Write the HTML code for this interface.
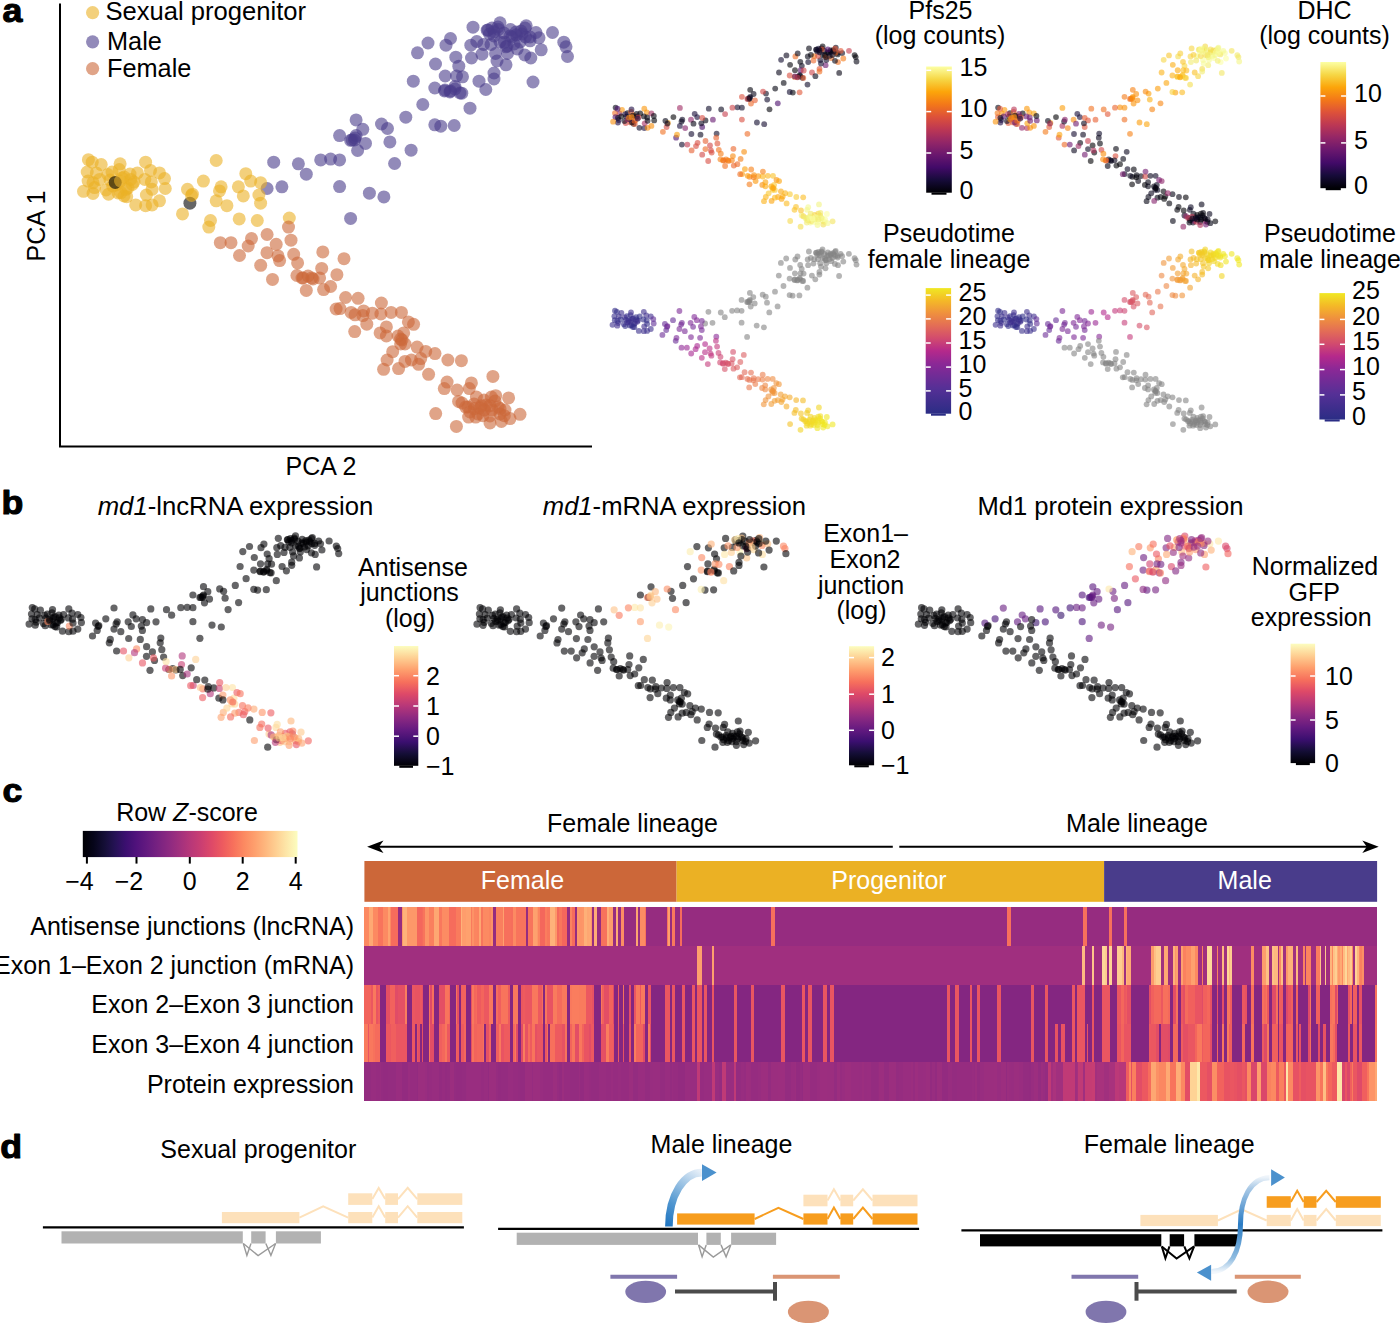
<!DOCTYPE html><html><head><meta charset="utf-8"><style>html,body{margin:0;padding:0;background:#fff;overflow:hidden}svg{display:block}text{font-family:"Liberation Sans",sans-serif}</style></head><body>
<svg width="1400" height="1323" viewBox="0 0 1400 1323">
<rect width="1400" height="1323" fill="#fff"/>
<defs></defs>
<text transform="translate(2.6,22.2) scale(1.05,1)" font-size="34" font-weight="bold" stroke="#000" stroke-width="1.1" stroke-linejoin="round">a</text>
<path d="M60 3.4V446.4H592" fill="none" stroke="#000" stroke-width="2"/>
<circle cx="92.6" cy="12.6" r="6.6" fill="#ebb124" fill-opacity="0.6"/>
<circle cx="92.6" cy="41.8" r="6.6" fill="#493c8b" fill-opacity="0.6"/>
<circle cx="92.6" cy="68.6" r="6.6" fill="#cc6739" fill-opacity="0.6"/>
<text x="105.4" y="20.2" font-size="25.6" text-anchor="start" fill="#000" >Sexual progenitor</text>
<text x="107.0" y="50.0" font-size="25.3" text-anchor="start" fill="#000" >Male</text>
<text x="107.0" y="77.1" font-size="25.3" text-anchor="start" fill="#000" >Female</text>
<text x="45.0" y="226.0" font-size="25" text-anchor="middle" fill="#000" transform="rotate(-90 45 226)">PCA 1</text>
<text x="321.0" y="474.6" font-size="25" text-anchor="middle" fill="#000" >PCA 2</text>
<g fill-opacity="0.6">
<circle cx="165.3" cy="188.5" r="6.5" fill="#ebb124"/>
<circle cx="216.2" cy="200.8" r="6.5" fill="#ebb124"/>
<circle cx="440.8" cy="126.2" r="6.5" fill="#493c8b"/>
<circle cx="251.5" cy="238.6" r="6.5" fill="#cc6739"/>
<circle cx="291.0" cy="240.2" r="6.5" fill="#cc6739"/>
<circle cx="434.8" cy="88.0" r="6.5" fill="#493c8b"/>
<circle cx="401.4" cy="312.4" r="6.5" fill="#cc6739"/>
<circle cx="355.0" cy="314.8" r="6.5" fill="#cc6739"/>
<circle cx="145.6" cy="205.7" r="6.5" fill="#ebb124"/>
<circle cx="336.9" cy="274.7" r="6.5" fill="#cc6739"/>
<circle cx="521.0" cy="31.0" r="6.5" fill="#493c8b"/>
<circle cx="267.1" cy="188.5" r="6.5" fill="#493c8b"/>
<circle cx="366.8" cy="324.2" r="6.5" fill="#cc6739"/>
<circle cx="481.4" cy="405.7" r="6.5" fill="#cc6739"/>
<circle cx="124.0" cy="196.0" r="6.5" fill="#ebb124"/>
<circle cx="356.1" cy="119.9" r="6.5" fill="#493c8b"/>
<circle cx="411.4" cy="360.0" r="6.5" fill="#cc6739"/>
<circle cx="447.9" cy="360.0" r="6.5" fill="#cc6739"/>
<circle cx="112.0" cy="172.0" r="6.5" fill="#ebb124"/>
<circle cx="128.0" cy="188.0" r="6.5" fill="#ebb124"/>
<circle cx="470.8" cy="45.2" r="6.5" fill="#493c8b"/>
<circle cx="260.6" cy="203.2" r="6.5" fill="#ebb124"/>
<circle cx="475.7" cy="417.1" r="6.5" fill="#cc6739"/>
<circle cx="306.3" cy="290.4" r="6.5" fill="#cc6739"/>
<circle cx="417.5" cy="52.8" r="6.5" fill="#493c8b"/>
<circle cx="220.3" cy="242.7" r="6.5" fill="#cc6739"/>
<circle cx="258.9" cy="195.0" r="6.5" fill="#ebb124"/>
<circle cx="281.9" cy="186.8" r="6.5" fill="#493c8b"/>
<circle cx="330.6" cy="159.1" r="6.5" fill="#493c8b"/>
<circle cx="405.0" cy="344.0" r="6.5" fill="#cc6739"/>
<circle cx="500.0" cy="22.8" r="6.5" fill="#493c8b"/>
<circle cx="495.0" cy="401.0" r="6.5" fill="#cc6739"/>
<circle cx="494.0" cy="73.0" r="6.5" fill="#493c8b"/>
<circle cx="533.0" cy="82.0" r="6.5" fill="#493c8b"/>
<circle cx="500.0" cy="42.0" r="6.5" fill="#493c8b"/>
<circle cx="455.0" cy="86.5" r="6.5" fill="#493c8b"/>
<circle cx="137.4" cy="172.9" r="6.5" fill="#ebb124"/>
<circle cx="320.7" cy="159.9" r="6.5" fill="#493c8b"/>
<circle cx="458.6" cy="401.4" r="6.5" fill="#cc6739"/>
<circle cx="470.0" cy="108.2" r="6.5" fill="#493c8b"/>
<circle cx="491.4" cy="397.1" r="6.5" fill="#cc6739"/>
<circle cx="313.0" cy="279.0" r="6.5" fill="#cc6739"/>
<circle cx="88.4" cy="159.7" r="6.5" fill="#ebb124"/>
<circle cx="483.5" cy="44.5" r="6.5" fill="#493c8b"/>
<circle cx="372.3" cy="313.2" r="6.5" fill="#cc6739"/>
<circle cx="413.3" cy="81.2" r="6.5" fill="#493c8b"/>
<circle cx="357.6" cy="150.5" r="6.5" fill="#493c8b"/>
<circle cx="250.7" cy="181.1" r="6.5" fill="#ebb124"/>
<circle cx="216.2" cy="160.5" r="6.5" fill="#ebb124"/>
<circle cx="260.6" cy="182.7" r="6.5" fill="#ebb124"/>
<circle cx="520.0" cy="414.3" r="6.5" fill="#cc6739"/>
<circle cx="354.7" cy="331.6" r="6.5" fill="#cc6739"/>
<circle cx="428.6" cy="374.3" r="6.5" fill="#cc6739"/>
<circle cx="293.7" cy="254.3" r="6.5" fill="#cc6739"/>
<circle cx="145.6" cy="162.2" r="6.5" fill="#ebb124"/>
<circle cx="405.0" cy="361.4" r="6.5" fill="#cc6739"/>
<circle cx="457.1" cy="390.0" r="6.5" fill="#cc6739"/>
<circle cx="500.0" cy="414.0" r="6.5" fill="#cc6739"/>
<circle cx="340.0" cy="308.6" r="6.5" fill="#cc6739"/>
<circle cx="126.7" cy="196.7" r="6.5" fill="#ebb124"/>
<circle cx="403.7" cy="332.9" r="6.5" fill="#cc6739"/>
<circle cx="345.6" cy="297.5" r="6.5" fill="#cc6739"/>
<circle cx="203.4" cy="181.1" r="6.5" fill="#ebb124"/>
<circle cx="219.5" cy="190.9" r="6.5" fill="#ebb124"/>
<circle cx="362.9" cy="315.6" r="6.5" fill="#cc6739"/>
<circle cx="516.5" cy="34.8" r="6.5" fill="#493c8b"/>
<circle cx="444.3" cy="388.6" r="6.5" fill="#cc6739"/>
<circle cx="506.0" cy="46.8" r="6.5" fill="#493c8b"/>
<circle cx="444.5" cy="91.0" r="6.5" fill="#493c8b"/>
<circle cx="308.0" cy="276.0" r="6.5" fill="#cc6739"/>
<circle cx="344.0" cy="258.7" r="6.5" fill="#cc6739"/>
<circle cx="96.3" cy="172.9" r="6.5" fill="#ebb124"/>
<circle cx="454.2" cy="125.5" r="6.5" fill="#493c8b"/>
<circle cx="539.0" cy="37.8" r="6.5" fill="#493c8b"/>
<circle cx="352.0" cy="140.0" r="6.5" fill="#493c8b"/>
<circle cx="428.0" cy="43.0" r="6.5" fill="#493c8b"/>
<circle cx="351.1" cy="312.4" r="6.5" fill="#cc6739"/>
<circle cx="221.1" cy="186.8" r="6.5" fill="#ebb124"/>
<circle cx="321.7" cy="268.4" r="6.5" fill="#cc6739"/>
<circle cx="530.0" cy="37.0" r="6.5" fill="#493c8b"/>
<circle cx="289.3" cy="218.0" r="6.5" fill="#ebb124"/>
<circle cx="504.0" cy="33.0" r="6.5" fill="#493c8b"/>
<circle cx="208.8" cy="227.1" r="6.5" fill="#ebb124"/>
<circle cx="418.6" cy="364.3" r="6.5" fill="#cc6739"/>
<circle cx="369.4" cy="193.2" r="6.5" fill="#493c8b"/>
<circle cx="478.0" cy="414.0" r="6.5" fill="#cc6739"/>
<circle cx="124.2" cy="177.0" r="6.5" fill="#ebb124"/>
<circle cx="495.5" cy="53.5" r="6.5" fill="#493c8b"/>
<circle cx="484.0" cy="400.0" r="6.5" fill="#cc6739"/>
<circle cx="398.0" cy="336.0" r="6.5" fill="#cc6739"/>
<circle cx="450.5" cy="91.0" r="6.5" fill="#493c8b"/>
<circle cx="482.9" cy="415.7" r="6.5" fill="#cc6739"/>
<circle cx="400.6" cy="343.9" r="6.5" fill="#cc6739"/>
<circle cx="504.3" cy="415.7" r="6.5" fill="#cc6739"/>
<circle cx="500.0" cy="408.6" r="6.5" fill="#cc6739"/>
<circle cx="150.5" cy="170.4" r="6.5" fill="#ebb124"/>
<circle cx="231.0" cy="242.7" r="6.5" fill="#cc6739"/>
<circle cx="468.0" cy="407.0" r="6.5" fill="#cc6739"/>
<circle cx="435.0" cy="353.6" r="6.5" fill="#cc6739"/>
<circle cx="506.0" cy="64.8" r="6.5" fill="#493c8b"/>
<circle cx="541.2" cy="49.8" r="6.5" fill="#493c8b"/>
<circle cx="461.4" cy="360.7" r="6.5" fill="#cc6739"/>
<circle cx="87.2" cy="172.0" r="6.5" fill="#ebb124"/>
<circle cx="408.4" cy="321.9" r="6.5" fill="#cc6739"/>
<circle cx="130.8" cy="179.4" r="6.5" fill="#ebb124"/>
<circle cx="245.8" cy="173.7" r="6.5" fill="#ebb124"/>
<circle cx="476.8" cy="41.5" r="6.5" fill="#493c8b"/>
<circle cx="130.0" cy="174.0" r="6.5" fill="#ebb124"/>
<circle cx="118.0" cy="193.0" r="6.5" fill="#ebb124"/>
<circle cx="530.0" cy="40.8" r="6.5" fill="#493c8b"/>
<circle cx="458.8" cy="66.2" r="6.5" fill="#493c8b"/>
<circle cx="387.5" cy="128.5" r="6.5" fill="#493c8b"/>
<circle cx="482.0" cy="54.2" r="6.5" fill="#493c8b"/>
<circle cx="445.0" cy="90.0" r="6.5" fill="#493c8b"/>
<circle cx="146.4" cy="195.0" r="6.5" fill="#ebb124"/>
<circle cx="226.9" cy="205.7" r="6.5" fill="#ebb124"/>
<circle cx="488.0" cy="30.0" r="6.5" fill="#493c8b"/>
<circle cx="182.5" cy="213.9" r="6.5" fill="#ebb124"/>
<circle cx="489.5" cy="34.0" r="6.5" fill="#493c8b"/>
<circle cx="413.6" cy="324.3" r="6.5" fill="#cc6739"/>
<circle cx="498.0" cy="27.0" r="6.5" fill="#493c8b"/>
<circle cx="411.1" cy="150.2" r="6.5" fill="#493c8b"/>
<circle cx="507.0" cy="46.0" r="6.5" fill="#493c8b"/>
<circle cx="238.4" cy="186.8" r="6.5" fill="#ebb124"/>
<circle cx="455.0" cy="89.0" r="6.5" fill="#493c8b"/>
<circle cx="336.1" cy="309.0" r="6.5" fill="#cc6739"/>
<circle cx="501.4" cy="421.4" r="6.5" fill="#cc6739"/>
<circle cx="354.5" cy="140.0" r="6.5" fill="#493c8b"/>
<circle cx="405.8" cy="117.2" r="6.5" fill="#493c8b"/>
<circle cx="380.1" cy="332.9" r="6.5" fill="#cc6739"/>
<circle cx="447.1" cy="382.1" r="6.5" fill="#cc6739"/>
<circle cx="517.2" cy="49.0" r="6.5" fill="#493c8b"/>
<circle cx="110.0" cy="180.0" r="6.5" fill="#ebb124"/>
<circle cx="566.0" cy="46.8" r="6.5" fill="#493c8b"/>
<circle cx="516.0" cy="32.0" r="6.5" fill="#493c8b"/>
<circle cx="505.0" cy="410.0" r="6.5" fill="#cc6739"/>
<circle cx="460.0" cy="93.0" r="6.5" fill="#493c8b"/>
<circle cx="387.1" cy="360.0" r="6.5" fill="#cc6739"/>
<circle cx="311.8" cy="277.9" r="6.5" fill="#cc6739"/>
<circle cx="392.7" cy="351.7" r="6.5" fill="#cc6739"/>
<circle cx="101.2" cy="164.6" r="6.5" fill="#ebb124"/>
<circle cx="319.6" cy="277.9" r="6.5" fill="#cc6739"/>
<circle cx="356.1" cy="135.6" r="6.5" fill="#493c8b"/>
<circle cx="492.9" cy="376.4" r="6.5" fill="#cc6739"/>
<circle cx="279.6" cy="260.6" r="6.5" fill="#cc6739"/>
<circle cx="470.0" cy="412.0" r="6.5" fill="#cc6739"/>
<circle cx="490.0" cy="416.0" r="6.5" fill="#cc6739"/>
<circle cx="486.0" cy="405.0" r="6.5" fill="#cc6739"/>
<circle cx="380.9" cy="314.0" r="6.5" fill="#cc6739"/>
<circle cx="456.5" cy="76.0" r="6.5" fill="#493c8b"/>
<circle cx="276.2" cy="244.3" r="6.5" fill="#cc6739"/>
<circle cx="469.3" cy="388.6" r="6.5" fill="#cc6739"/>
<circle cx="476.4" cy="397.1" r="6.5" fill="#cc6739"/>
<circle cx="389.9" cy="141.9" r="6.5" fill="#493c8b"/>
<circle cx="383.9" cy="196.9" r="6.5" fill="#493c8b"/>
<circle cx="462.0" cy="403.0" r="6.5" fill="#cc6739"/>
<circle cx="512.0" cy="37.0" r="6.5" fill="#493c8b"/>
<circle cx="461.8" cy="93.2" r="6.5" fill="#493c8b"/>
<circle cx="272.5" cy="279.4" r="6.5" fill="#cc6739"/>
<circle cx="386.4" cy="326.9" r="6.5" fill="#cc6739"/>
<circle cx="94.6" cy="187.6" r="6.5" fill="#ebb124"/>
<circle cx="507.5" cy="53.5" r="6.5" fill="#493c8b"/>
<circle cx="525.5" cy="37.0" r="6.5" fill="#493c8b"/>
<circle cx="510.0" cy="418.6" r="6.5" fill="#cc6739"/>
<circle cx="119.3" cy="169.6" r="6.5" fill="#ebb124"/>
<circle cx="192.4" cy="194.2" r="6.5" fill="#ebb124"/>
<circle cx="267.1" cy="234.5" r="6.5" fill="#cc6739"/>
<circle cx="267.0" cy="252.7" r="6.5" fill="#cc6739"/>
<circle cx="498.5" cy="29.5" r="6.5" fill="#493c8b"/>
<circle cx="435.7" cy="413.6" r="6.5" fill="#cc6739"/>
<circle cx="243.3" cy="195.9" r="6.5" fill="#ebb124"/>
<circle cx="93.0" cy="193.4" r="6.5" fill="#ebb124"/>
<circle cx="510.0" cy="36.0" r="6.5" fill="#493c8b"/>
<circle cx="350.6" cy="218.4" r="6.5" fill="#493c8b"/>
<circle cx="159.5" cy="172.9" r="6.5" fill="#ebb124"/>
<circle cx="135.7" cy="204.9" r="6.5" fill="#ebb124"/>
<circle cx="92.2" cy="162.2" r="6.5" fill="#ebb124"/>
<circle cx="526.2" cy="25.8" r="6.5" fill="#493c8b"/>
<circle cx="302.0" cy="278.0" r="6.5" fill="#cc6739"/>
<circle cx="298.4" cy="163.8" r="6.5" fill="#493c8b"/>
<circle cx="474.0" cy="404.0" r="6.5" fill="#cc6739"/>
<circle cx="490.0" cy="405.7" r="6.5" fill="#cc6739"/>
<circle cx="365.5" cy="143.4" r="6.5" fill="#493c8b"/>
<circle cx="563.8" cy="42.2" r="6.5" fill="#493c8b"/>
<circle cx="339.6" cy="186.6" r="6.5" fill="#493c8b"/>
<circle cx="391.1" cy="312.4" r="6.5" fill="#cc6739"/>
<circle cx="491.0" cy="44.5" r="6.5" fill="#493c8b"/>
<circle cx="400.6" cy="339.1" r="6.5" fill="#cc6739"/>
<circle cx="278.0" cy="255.9" r="6.5" fill="#cc6739"/>
<circle cx="522.0" cy="34.0" r="6.5" fill="#493c8b"/>
<circle cx="107.8" cy="174.5" r="6.5" fill="#ebb124"/>
<circle cx="151.3" cy="181.9" r="6.5" fill="#ebb124"/>
<circle cx="455.8" cy="57.2" r="6.5" fill="#493c8b"/>
<circle cx="445.2" cy="76.0" r="6.5" fill="#493c8b"/>
<circle cx="494.0" cy="31.8" r="6.5" fill="#493c8b"/>
<circle cx="88.1" cy="181.1" r="6.5" fill="#ebb124"/>
<circle cx="187.5" cy="189.3" r="6.5" fill="#ebb124"/>
<circle cx="446.0" cy="45.2" r="6.5" fill="#493c8b"/>
<circle cx="108.6" cy="194.2" r="6.5" fill="#ebb124"/>
<circle cx="530.8" cy="58.0" r="6.5" fill="#493c8b"/>
<circle cx="159.5" cy="200.8" r="6.5" fill="#ebb124"/>
<circle cx="420.7" cy="358.6" r="6.5" fill="#cc6739"/>
<circle cx="303.1" cy="277.9" r="6.5" fill="#cc6739"/>
<circle cx="422.8" cy="104.5" r="6.5" fill="#493c8b"/>
<circle cx="120.9" cy="192.6" r="6.5" fill="#ebb124"/>
<circle cx="144.8" cy="179.4" r="6.5" fill="#ebb124"/>
<circle cx="487.2" cy="30.2" r="6.5" fill="#493c8b"/>
<circle cx="402.0" cy="340.0" r="6.5" fill="#cc6739"/>
<circle cx="465.7" cy="407.1" r="6.5" fill="#cc6739"/>
<circle cx="296.9" cy="275.5" r="6.5" fill="#cc6739"/>
<circle cx="239.2" cy="218.9" r="6.5" fill="#ebb124"/>
<circle cx="322.8" cy="251.9" r="6.5" fill="#cc6739"/>
<circle cx="381.4" cy="303.0" r="6.5" fill="#cc6739"/>
<circle cx="164.5" cy="178.6" r="6.5" fill="#ebb124"/>
<circle cx="394.6" cy="163.5" r="6.5" fill="#493c8b"/>
<circle cx="484.3" cy="410.0" r="6.5" fill="#cc6739"/>
<circle cx="350.6" cy="140.3" r="6.5" fill="#493c8b"/>
<circle cx="552.5" cy="32.5" r="6.5" fill="#493c8b"/>
<circle cx="490.0" cy="422.9" r="6.5" fill="#cc6739"/>
<circle cx="210.5" cy="220.5" r="6.5" fill="#ebb124"/>
<circle cx="363.6" cy="310.9" r="6.5" fill="#cc6739"/>
<circle cx="323.6" cy="289.6" r="6.5" fill="#cc6739"/>
<circle cx="260.7" cy="265.3" r="6.5" fill="#cc6739"/>
<circle cx="473.0" cy="27.2" r="6.5" fill="#493c8b"/>
<circle cx="468.6" cy="417.1" r="6.5" fill="#cc6739"/>
<circle cx="520.0" cy="42.0" r="6.5" fill="#493c8b"/>
<circle cx="358.1" cy="298.3" r="6.5" fill="#cc6739"/>
<circle cx="567.5" cy="56.5" r="6.5" fill="#493c8b"/>
<circle cx="273.7" cy="162.2" r="6.5" fill="#493c8b"/>
<circle cx="456.4" cy="426.4" r="6.5" fill="#cc6739"/>
<circle cx="450.5" cy="38.5" r="6.5" fill="#493c8b"/>
<circle cx="339.6" cy="159.9" r="6.5" fill="#493c8b"/>
<circle cx="362.8" cy="129.3" r="6.5" fill="#493c8b"/>
<circle cx="524.8" cy="55.0" r="6.5" fill="#493c8b"/>
<circle cx="306.3" cy="174.2" r="6.5" fill="#493c8b"/>
<circle cx="355.0" cy="138.0" r="6.5" fill="#493c8b"/>
<circle cx="471.4" cy="382.9" r="6.5" fill="#cc6739"/>
<circle cx="381.5" cy="124.0" r="6.5" fill="#493c8b"/>
<circle cx="435.5" cy="64.0" r="6.5" fill="#493c8b"/>
<circle cx="525.0" cy="28.0" r="6.5" fill="#493c8b"/>
<circle cx="492.0" cy="28.0" r="6.5" fill="#493c8b"/>
<circle cx="297.6" cy="262.9" r="6.5" fill="#cc6739"/>
<circle cx="494.0" cy="36.0" r="6.5" fill="#493c8b"/>
<circle cx="462.5" cy="76.8" r="6.5" fill="#493c8b"/>
<circle cx="330.6" cy="286.5" r="6.5" fill="#cc6739"/>
<circle cx="134.0" cy="182.0" r="6.5" fill="#ebb124"/>
<circle cx="257.3" cy="220.5" r="6.5" fill="#ebb124"/>
<circle cx="434.8" cy="124.8" r="6.5" fill="#493c8b"/>
<circle cx="99.6" cy="179.4" r="6.5" fill="#ebb124"/>
<circle cx="120.1" cy="163.8" r="6.5" fill="#ebb124"/>
<circle cx="152.1" cy="189.3" r="6.5" fill="#ebb124"/>
<circle cx="497.0" cy="61.0" r="6.5" fill="#493c8b"/>
<circle cx="495.7" cy="395.7" r="6.5" fill="#cc6739"/>
<circle cx="288.5" cy="227.1" r="6.5" fill="#cc6739"/>
<circle cx="508.6" cy="397.9" r="6.5" fill="#cc6739"/>
<circle cx="417.1" cy="347.1" r="6.5" fill="#cc6739"/>
<circle cx="474.3" cy="408.6" r="6.5" fill="#cc6739"/>
<circle cx="383.6" cy="369.3" r="6.5" fill="#cc6739"/>
<circle cx="106.0" cy="190.0" r="6.5" fill="#ebb124"/>
<circle cx="339.6" cy="135.6" r="6.5" fill="#493c8b"/>
<circle cx="125.9" cy="189.3" r="6.5" fill="#ebb124"/>
<circle cx="239.5" cy="255.5" r="6.5" fill="#cc6739"/>
<circle cx="152.1" cy="204.9" r="6.5" fill="#ebb124"/>
<circle cx="536.0" cy="32.5" r="6.5" fill="#493c8b"/>
<circle cx="132.4" cy="184.4" r="6.5" fill="#ebb124"/>
<circle cx="83.5" cy="191.3" r="6.5" fill="#ebb124"/>
<circle cx="398.6" cy="368.6" r="6.5" fill="#cc6739"/>
<circle cx="514.0" cy="44.0" r="6.5" fill="#493c8b"/>
<circle cx="450.0" cy="92.0" r="6.5" fill="#493c8b"/>
<circle cx="479.0" cy="81.2" r="6.5" fill="#493c8b"/>
<circle cx="510.5" cy="29.5" r="6.5" fill="#493c8b"/>
<circle cx="425.7" cy="351.4" r="6.5" fill="#cc6739"/>
<circle cx="498.0" cy="407.0" r="6.5" fill="#cc6739"/>
<circle cx="122.0" cy="178.0" r="6.5" fill="#ebb124"/>
<circle cx="471.5" cy="58.0" r="6.5" fill="#493c8b"/>
<circle cx="485.8" cy="89.5" r="6.5" fill="#493c8b"/>
<circle cx="504.5" cy="42.2" r="6.5" fill="#493c8b"/>
<circle cx="480.0" cy="408.0" r="6.5" fill="#cc6739"/>
<circle cx="93.0" cy="182.7" r="6.5" fill="#ebb124"/>
<circle cx="112.7" cy="186.0" r="6.5" fill="#ebb124"/>
<circle cx="492.0" cy="410.0" r="6.5" fill="#cc6739"/>
<circle cx="386.4" cy="336.0" r="6.5" fill="#cc6739"/>
<circle cx="248.2" cy="246.0" r="6.5" fill="#cc6739"/>
<circle cx="116.0" cy="185.0" r="6.5" fill="#ebb124"/>
<circle cx="494.0" cy="79.0" r="6.5" fill="#493c8b"/>
<circle cx="115.2" cy="182.4" r="6.5" fill="#000000"/>
<circle cx="189.9" cy="203.2" r="6.5" fill="#000000"/>
<circle cx="120.5" cy="181.0" r="6.5" fill="#ebb124"/>
<circle cx="191.5" cy="195.5" r="6.5" fill="#ebb124"/>
</g>
<g fill-opacity="0.6">
<circle cx="654.2" cy="120.4" r="2.9" fill="#02010a"/>
<circle cx="679.9" cy="125.9" r="2.9" fill="#160b39"/>
<circle cx="792.8" cy="92.6" r="2.9" fill="#010106"/>
<circle cx="697.6" cy="142.8" r="2.9" fill="#d74b3f"/>
<circle cx="717.4" cy="143.5" r="2.9" fill="#df5337"/>
<circle cx="789.7" cy="75.5" r="2.9" fill="#d84c3e"/>
<circle cx="773.0" cy="175.8" r="2.9" fill="#fac228"/>
<circle cx="749.6" cy="176.8" r="2.9" fill="#f67e14"/>
<circle cx="644.3" cy="128.1" r="2.9" fill="#190c3e"/>
<circle cx="740.6" cy="158.9" r="2.9" fill="#f57d15"/>
<circle cx="833.1" cy="50.1" r="2.9" fill="#040312"/>
<circle cx="705.5" cy="120.4" r="2.9" fill="#030210"/>
<circle cx="755.6" cy="181.0" r="2.9" fill="#fb9606"/>
<circle cx="813.2" cy="217.4" r="2.9" fill="#f7d13d"/>
<circle cx="633.5" cy="123.8" r="2.9" fill="#02020e"/>
<circle cx="750.2" cy="89.8" r="2.9" fill="#02020c"/>
<circle cx="778.0" cy="197.0" r="2.9" fill="#fca60c"/>
<circle cx="796.3" cy="197.0" r="2.9" fill="#f9cb35"/>
<circle cx="627.4" cy="113.1" r="2.9" fill="#02010a"/>
<circle cx="635.5" cy="120.2" r="2.9" fill="#f57d15"/>
<circle cx="807.8" cy="56.4" r="2.9" fill="#040312"/>
<circle cx="702.2" cy="127.0" r="2.9" fill="#440a68"/>
<circle cx="810.3" cy="222.6" r="2.9" fill="#f5f992"/>
<circle cx="725.1" cy="166.0" r="2.9" fill="#f06f20"/>
<circle cx="781.1" cy="59.8" r="2.9" fill="#0e092b"/>
<circle cx="681.9" cy="144.6" r="2.9" fill="#0d0829"/>
<circle cx="701.3" cy="123.3" r="2.9" fill="#08051d"/>
<circle cx="712.9" cy="119.7" r="2.9" fill="#64156e"/>
<circle cx="737.4" cy="107.3" r="2.9" fill="#0d0829"/>
<circle cx="774.8" cy="189.9" r="2.9" fill="#f9c932"/>
<circle cx="822.6" cy="46.4" r="2.9" fill="#010106"/>
<circle cx="820.0" cy="215.3" r="2.9" fill="#f4df53"/>
<circle cx="819.5" cy="68.8" r="2.9" fill="#df5337"/>
<circle cx="839.2" cy="72.9" r="2.9" fill="#030210"/>
<circle cx="822.6" cy="55.0" r="2.9" fill="#02010a"/>
<circle cx="799.9" cy="74.9" r="2.9" fill="#030210"/>
<circle cx="640.2" cy="113.4" r="2.9" fill="#000004"/>
<circle cx="732.4" cy="107.7" r="2.9" fill="#cc4248"/>
<circle cx="801.7" cy="215.5" r="2.9" fill="#f1f179"/>
<circle cx="807.5" cy="84.6" r="2.9" fill="#0c0826"/>
<circle cx="818.2" cy="213.6" r="2.9" fill="#f6d543"/>
<circle cx="728.5" cy="160.9" r="2.9" fill="#f37819"/>
<circle cx="615.6" cy="107.6" r="2.9" fill="#040312"/>
<circle cx="814.3" cy="56.1" r="2.9" fill="#f57b17"/>
<circle cx="758.3" cy="176.1" r="2.9" fill="#fb9606"/>
<circle cx="779.0" cy="72.5" r="2.9" fill="#050417"/>
<circle cx="751.0" cy="103.5" r="2.9" fill="#ec6726"/>
<circle cx="697.2" cy="117.1" r="2.9" fill="#160b39"/>
<circle cx="679.9" cy="107.9" r="2.9" fill="#9f2a63"/>
<circle cx="702.2" cy="117.8" r="2.9" fill="#d74b3f"/>
<circle cx="832.6" cy="221.3" r="2.9" fill="#f3e55d"/>
<circle cx="749.5" cy="184.3" r="2.9" fill="#f57b17"/>
<circle cx="786.6" cy="203.4" r="2.9" fill="#fbba1f"/>
<circle cx="718.8" cy="149.8" r="2.9" fill="#f1711f"/>
<circle cx="644.3" cy="108.7" r="2.9" fill="#fa9407"/>
<circle cx="774.8" cy="197.7" r="2.9" fill="#fbb81d"/>
<circle cx="801.0" cy="210.4" r="2.9" fill="#fac228"/>
<circle cx="822.6" cy="221.1" r="2.9" fill="#f3f586"/>
<circle cx="742.1" cy="174.1" r="2.9" fill="#fb9b06"/>
<circle cx="634.8" cy="124.1" r="2.9" fill="#e45a31"/>
<circle cx="774.1" cy="184.9" r="2.9" fill="#fac62d"/>
<circle cx="744.9" cy="169.1" r="2.9" fill="#fc9f07"/>
<circle cx="673.4" cy="117.1" r="2.9" fill="#000004"/>
<circle cx="681.5" cy="121.5" r="2.9" fill="#09061f"/>
<circle cx="753.6" cy="177.2" r="2.9" fill="#f47918"/>
<circle cx="830.9" cy="51.8" r="2.9" fill="#02020c"/>
<circle cx="794.5" cy="209.8" r="2.9" fill="#fac42a"/>
<circle cx="825.6" cy="57.1" r="2.9" fill="#030210"/>
<circle cx="794.6" cy="76.9" r="2.9" fill="#f67e14"/>
<circle cx="726.0" cy="159.5" r="2.9" fill="#f57d15"/>
<circle cx="744.1" cy="151.8" r="2.9" fill="#f98c0a"/>
<circle cx="619.5" cy="113.4" r="2.9" fill="#952667"/>
<circle cx="799.6" cy="92.3" r="2.9" fill="#e05536"/>
<circle cx="842.2" cy="53.1" r="2.9" fill="#07051b"/>
<circle cx="748.1" cy="98.8" r="2.9" fill="#010106"/>
<circle cx="786.4" cy="55.4" r="2.9" fill="#060419"/>
<circle cx="747.7" cy="175.8" r="2.9" fill="#fb9d07"/>
<circle cx="682.3" cy="119.7" r="2.9" fill="#0a0722"/>
<circle cx="732.9" cy="156.1" r="2.9" fill="#f8890c"/>
<circle cx="837.6" cy="52.8" r="2.9" fill="#0c0826"/>
<circle cx="716.6" cy="133.6" r="2.9" fill="#0c0826"/>
<circle cx="824.6" cy="51.0" r="2.9" fill="#08051d"/>
<circle cx="676.1" cy="137.7" r="2.9" fill="#4d0d6c"/>
<circle cx="781.6" cy="198.9" r="2.9" fill="#fca309"/>
<circle cx="756.9" cy="122.5" r="2.9" fill="#0e092b"/>
<circle cx="811.5" cy="221.1" r="2.9" fill="#f5d949"/>
<circle cx="633.6" cy="115.3" r="2.9" fill="#fb9906"/>
<circle cx="820.3" cy="60.1" r="2.9" fill="#10092d"/>
<circle cx="814.5" cy="214.9" r="2.9" fill="#f7d13d"/>
<circle cx="771.3" cy="186.3" r="2.9" fill="#fca60c"/>
<circle cx="797.7" cy="76.9" r="2.9" fill="#060419"/>
<circle cx="813.9" cy="221.9" r="2.9" fill="#f8fb9a"/>
<circle cx="772.6" cy="189.8" r="2.9" fill="#fac62d"/>
<circle cx="824.7" cy="221.9" r="2.9" fill="#f6fa96"/>
<circle cx="822.6" cy="218.7" r="2.9" fill="#fcffa4"/>
<circle cx="646.8" cy="112.3" r="2.9" fill="#fa9207"/>
<circle cx="687.3" cy="144.6" r="2.9" fill="#bf3952"/>
<circle cx="806.5" cy="218.0" r="2.9" fill="#f1f179"/>
<circle cx="789.9" cy="194.2" r="2.9" fill="#f9c932"/>
<circle cx="825.6" cy="65.2" r="2.9" fill="#69166e"/>
<circle cx="843.3" cy="58.5" r="2.9" fill="#f57b17"/>
<circle cx="803.2" cy="197.3" r="2.9" fill="#fbbc21"/>
<circle cx="615.0" cy="113.1" r="2.9" fill="#ef6e21"/>
<circle cx="776.5" cy="180.0" r="2.9" fill="#fa9207"/>
<circle cx="636.9" cy="116.4" r="2.9" fill="#0a0722"/>
<circle cx="694.7" cy="113.8" r="2.9" fill="#150b37"/>
<circle cx="810.9" cy="54.8" r="2.9" fill="#02020c"/>
<circle cx="636.5" cy="114.0" r="2.9" fill="#050417"/>
<circle cx="630.5" cy="122.4" r="2.9" fill="#e05536"/>
<circle cx="837.6" cy="54.4" r="2.9" fill="#010108"/>
<circle cx="801.8" cy="65.8" r="2.9" fill="#08051d"/>
<circle cx="766.0" cy="93.6" r="2.9" fill="#07051b"/>
<circle cx="813.5" cy="60.5" r="2.9" fill="#eb6628"/>
<circle cx="794.9" cy="76.4" r="2.9" fill="#57106e"/>
<circle cx="644.7" cy="123.3" r="2.9" fill="#a52c60"/>
<circle cx="685.2" cy="128.1" r="2.9" fill="#84206b"/>
<circle cx="816.5" cy="49.6" r="2.9" fill="#010005"/>
<circle cx="662.9" cy="131.8" r="2.9" fill="#f06f20"/>
<circle cx="817.3" cy="51.4" r="2.9" fill="#0e092b"/>
<circle cx="779.1" cy="181.1" r="2.9" fill="#fca108"/>
<circle cx="821.6" cy="48.3" r="2.9" fill="#08051d"/>
<circle cx="777.8" cy="103.3" r="2.9" fill="#4a0c6b"/>
<circle cx="826.1" cy="56.8" r="2.9" fill="#ef6e21"/>
<circle cx="691.0" cy="119.7" r="2.9" fill="#8d2369"/>
<circle cx="799.9" cy="76.0" r="2.9" fill="#050417"/>
<circle cx="740.2" cy="174.2" r="2.9" fill="#ef6c23"/>
<circle cx="823.3" cy="224.5" r="2.9" fill="#f4df53"/>
<circle cx="749.4" cy="98.8" r="2.9" fill="#060419"/>
<circle cx="775.2" cy="88.6" r="2.9" fill="#02020e"/>
<circle cx="762.3" cy="184.9" r="2.9" fill="#f98e09"/>
<circle cx="796.0" cy="206.9" r="2.9" fill="#fac228"/>
<circle cx="831.2" cy="58.1" r="2.9" fill="#ef6e21"/>
<circle cx="626.4" cy="116.6" r="2.9" fill="#010108"/>
<circle cx="855.7" cy="57.1" r="2.9" fill="#010106"/>
<circle cx="830.6" cy="50.5" r="2.9" fill="#000004"/>
<circle cx="825.1" cy="219.4" r="2.9" fill="#fafda1"/>
<circle cx="802.4" cy="77.8" r="2.9" fill="#09061f"/>
<circle cx="765.8" cy="197.0" r="2.9" fill="#fcb418"/>
<circle cx="727.9" cy="160.3" r="2.9" fill="#f67e14"/>
<circle cx="768.6" cy="193.3" r="2.9" fill="#fac42a"/>
<circle cx="622.0" cy="109.8" r="2.9" fill="#fb9606"/>
<circle cx="731.9" cy="160.3" r="2.9" fill="#f67e14"/>
<circle cx="750.2" cy="96.8" r="2.9" fill="#0b0724"/>
<circle cx="819.0" cy="204.4" r="2.9" fill="#f2f482"/>
<circle cx="711.7" cy="152.6" r="2.9" fill="#da4e3c"/>
<circle cx="807.5" cy="220.3" r="2.9" fill="#f3e55d"/>
<circle cx="817.5" cy="222.0" r="2.9" fill="#fcffa4"/>
<circle cx="815.5" cy="217.1" r="2.9" fill="#fcffa4"/>
<circle cx="762.7" cy="176.5" r="2.9" fill="#fcb216"/>
<circle cx="800.7" cy="70.2" r="2.9" fill="#59106e"/>
<circle cx="710.0" cy="145.4" r="2.9" fill="#d04545"/>
<circle cx="807.1" cy="209.8" r="2.9" fill="#f3f68a"/>
<circle cx="810.7" cy="213.6" r="2.9" fill="#f2ea69"/>
<circle cx="767.2" cy="99.6" r="2.9" fill="#0d0829"/>
<circle cx="764.2" cy="124.2" r="2.9" fill="#10092d"/>
<circle cx="803.4" cy="216.2" r="2.9" fill="#f5d949"/>
<circle cx="828.6" cy="52.8" r="2.9" fill="#0a0722"/>
<circle cx="803.3" cy="77.9" r="2.9" fill="#e65d2f"/>
<circle cx="708.2" cy="161.0" r="2.9" fill="#d74b3f"/>
<circle cx="765.4" cy="182.2" r="2.9" fill="#fca108"/>
<circle cx="618.7" cy="120.0" r="2.9" fill="#180c3c"/>
<circle cx="826.3" cy="60.1" r="2.9" fill="#0b0724"/>
<circle cx="835.4" cy="52.8" r="2.9" fill="#ec6726"/>
<circle cx="827.6" cy="223.2" r="2.9" fill="#f5f992"/>
<circle cx="631.1" cy="112.0" r="2.9" fill="#e65d2f"/>
<circle cx="667.9" cy="123.0" r="2.9" fill="#fb9d07"/>
<circle cx="705.5" cy="141.0" r="2.9" fill="#e65d2f"/>
<circle cx="705.4" cy="149.1" r="2.9" fill="#ed6925"/>
<circle cx="821.8" cy="49.4" r="2.9" fill="#e35933"/>
<circle cx="790.2" cy="221.0" r="2.9" fill="#f5d949"/>
<circle cx="693.5" cy="123.7" r="2.9" fill="#030210"/>
<circle cx="617.9" cy="122.6" r="2.9" fill="#1e0c45"/>
<circle cx="827.6" cy="52.3" r="2.9" fill="#02010a"/>
<circle cx="747.4" cy="133.8" r="2.9" fill="#ee6a24"/>
<circle cx="651.4" cy="113.4" r="2.9" fill="#a32c61"/>
<circle cx="639.4" cy="127.8" r="2.9" fill="#0c0826"/>
<circle cx="617.5" cy="108.7" r="2.9" fill="#4a0c6b"/>
<circle cx="835.8" cy="47.7" r="2.9" fill="#050417"/>
<circle cx="723.0" cy="160.4" r="2.9" fill="#f68013"/>
<circle cx="721.2" cy="109.4" r="2.9" fill="#07051b"/>
<circle cx="809.5" cy="216.7" r="2.9" fill="#f2f27d"/>
<circle cx="817.5" cy="217.4" r="2.9" fill="#f3f586"/>
<circle cx="754.9" cy="100.3" r="2.9" fill="#e75e2e"/>
<circle cx="854.6" cy="55.1" r="2.9" fill="#010108"/>
<circle cx="741.9" cy="119.6" r="2.9" fill="#d84c3e"/>
<circle cx="767.8" cy="175.8" r="2.9" fill="#fbb61a"/>
<circle cx="818.0" cy="56.1" r="2.9" fill="#d74b3f"/>
<circle cx="772.6" cy="187.7" r="2.9" fill="#fbbe23"/>
<circle cx="710.9" cy="150.5" r="2.9" fill="#d54a41"/>
<circle cx="833.6" cy="51.4" r="2.9" fill="#09061f"/>
<circle cx="625.3" cy="114.2" r="2.9" fill="#1c0c43"/>
<circle cx="647.2" cy="117.5" r="2.9" fill="#030210"/>
<circle cx="800.3" cy="61.8" r="2.9" fill="#02020e"/>
<circle cx="795.0" cy="70.2" r="2.9" fill="#010005"/>
<circle cx="819.5" cy="50.4" r="2.9" fill="#02020c"/>
<circle cx="615.4" cy="117.1" r="2.9" fill="#540f6d"/>
<circle cx="665.4" cy="120.8" r="2.9" fill="#040314"/>
<circle cx="795.4" cy="56.4" r="2.9" fill="#ef6c23"/>
<circle cx="625.7" cy="123.0" r="2.9" fill="#d44842"/>
<circle cx="838.0" cy="62.1" r="2.9" fill="#f1711f"/>
<circle cx="651.4" cy="125.9" r="2.9" fill="#f98e09"/>
<circle cx="782.7" cy="196.4" r="2.9" fill="#fca60c"/>
<circle cx="723.6" cy="160.3" r="2.9" fill="#ef6e21"/>
<circle cx="783.7" cy="82.9" r="2.9" fill="#02020c"/>
<circle cx="631.9" cy="122.2" r="2.9" fill="#02020c"/>
<circle cx="643.9" cy="116.4" r="2.9" fill="#02020c"/>
<circle cx="816.1" cy="49.7" r="2.9" fill="#0a0722"/>
<circle cx="773.3" cy="188.1" r="2.9" fill="#fb9b06"/>
<circle cx="805.3" cy="218.1" r="2.9" fill="#f1ef75"/>
<circle cx="720.4" cy="159.3" r="2.9" fill="#f67e14"/>
<circle cx="691.4" cy="134.0" r="2.9" fill="#10092d"/>
<circle cx="733.4" cy="148.8" r="2.9" fill="#eb6429"/>
<circle cx="762.9" cy="171.6" r="2.9" fill="#f67e14"/>
<circle cx="653.8" cy="116.0" r="2.9" fill="#02020c"/>
<circle cx="769.5" cy="109.3" r="2.9" fill="#010108"/>
<circle cx="814.7" cy="219.4" r="2.9" fill="#f2f27d"/>
<circle cx="747.4" cy="98.9" r="2.9" fill="#ca404a"/>
<circle cx="849.0" cy="50.8" r="2.9" fill="#c73e4c"/>
<circle cx="817.5" cy="225.1" r="2.9" fill="#f3f68a"/>
<circle cx="677.0" cy="134.7" r="2.9" fill="#fc9f07"/>
<circle cx="754.0" cy="175.1" r="2.9" fill="#f98c0a"/>
<circle cx="733.8" cy="165.6" r="2.9" fill="#eb6429"/>
<circle cx="702.2" cy="154.7" r="2.9" fill="#d04545"/>
<circle cx="809.0" cy="48.4" r="2.9" fill="#02020e"/>
<circle cx="806.8" cy="222.6" r="2.9" fill="#f1ed71"/>
<circle cx="832.6" cy="55.0" r="2.9" fill="#060419"/>
<circle cx="751.2" cy="169.5" r="2.9" fill="#f67e14"/>
<circle cx="856.5" cy="61.5" r="2.9" fill="#040312"/>
<circle cx="708.8" cy="108.7" r="2.9" fill="#0c0826"/>
<circle cx="800.6" cy="226.7" r="2.9" fill="#f4dd4f"/>
<circle cx="797.7" cy="53.4" r="2.9" fill="#040314"/>
<circle cx="741.9" cy="107.7" r="2.9" fill="#0c0826"/>
<circle cx="753.6" cy="94.0" r="2.9" fill="#050417"/>
<circle cx="835.0" cy="60.8" r="2.9" fill="#040312"/>
<circle cx="725.1" cy="114.1" r="2.9" fill="#c63d4d"/>
<circle cx="749.6" cy="97.9" r="2.9" fill="#07051b"/>
<circle cx="808.2" cy="207.2" r="2.9" fill="#f4f88e"/>
<circle cx="763.0" cy="91.6" r="2.9" fill="#d24644"/>
<circle cx="790.1" cy="64.8" r="2.9" fill="#010108"/>
<circle cx="835.1" cy="48.7" r="2.9" fill="#e05536"/>
<circle cx="818.5" cy="48.7" r="2.9" fill="#0d0829"/>
<circle cx="720.8" cy="153.7" r="2.9" fill="#f57d15"/>
<circle cx="819.5" cy="52.3" r="2.9" fill="#0d0829"/>
<circle cx="803.7" cy="70.5" r="2.9" fill="#cf4446"/>
<circle cx="737.4" cy="164.2" r="2.9" fill="#ed6925"/>
<circle cx="638.5" cy="117.5" r="2.9" fill="#d04545"/>
<circle cx="700.5" cy="134.7" r="2.9" fill="#08051d"/>
<circle cx="789.7" cy="92.0" r="2.9" fill="#0e092b"/>
<circle cx="621.2" cy="116.4" r="2.9" fill="#000004"/>
<circle cx="631.5" cy="109.4" r="2.9" fill="#1c0c43"/>
<circle cx="647.6" cy="120.8" r="2.9" fill="#030210"/>
<circle cx="821.0" cy="63.5" r="2.9" fill="#0e092b"/>
<circle cx="820.4" cy="213.0" r="2.9" fill="#f2ea69"/>
<circle cx="716.2" cy="137.7" r="2.9" fill="#e9612b"/>
<circle cx="826.9" cy="213.9" r="2.9" fill="#fcffa4"/>
<circle cx="780.9" cy="191.3" r="2.9" fill="#fca80d"/>
<circle cx="809.6" cy="218.7" r="2.9" fill="#f4f88e"/>
<circle cx="764.0" cy="201.2" r="2.9" fill="#fcb014"/>
<circle cx="624.4" cy="121.1" r="2.9" fill="#07051b"/>
<circle cx="741.9" cy="96.8" r="2.9" fill="#da4e3c"/>
<circle cx="634.4" cy="120.8" r="2.9" fill="#e9612b"/>
<circle cx="691.6" cy="150.4" r="2.9" fill="#e65d2f"/>
<circle cx="647.6" cy="127.8" r="2.9" fill="#f98b0b"/>
<circle cx="840.7" cy="50.8" r="2.9" fill="#e15635"/>
<circle cx="637.7" cy="118.6" r="2.9" fill="#1e0c45"/>
<circle cx="613.1" cy="121.7" r="2.9" fill="#f98e09"/>
<circle cx="771.6" cy="200.9" r="2.9" fill="#fca309"/>
<circle cx="829.6" cy="55.9" r="2.9" fill="#09061f"/>
<circle cx="797.4" cy="77.3" r="2.9" fill="#c73e4c"/>
<circle cx="812.0" cy="72.5" r="2.9" fill="#cc4248"/>
<circle cx="827.8" cy="49.4" r="2.9" fill="#520e6d"/>
<circle cx="785.2" cy="193.2" r="2.9" fill="#fcb216"/>
<circle cx="821.6" cy="218.0" r="2.9" fill="#f2f27d"/>
<circle cx="632.5" cy="115.7" r="2.9" fill="#050417"/>
<circle cx="808.2" cy="62.1" r="2.9" fill="#0d0829"/>
<circle cx="815.4" cy="76.2" r="2.9" fill="#040314"/>
<circle cx="824.8" cy="55.1" r="2.9" fill="#040314"/>
<circle cx="812.5" cy="218.5" r="2.9" fill="#fcffa4"/>
<circle cx="617.9" cy="117.8" r="2.9" fill="#09061f"/>
<circle cx="627.8" cy="119.3" r="2.9" fill="#9d2964"/>
<circle cx="818.5" cy="219.4" r="2.9" fill="#f1ed71"/>
<circle cx="765.4" cy="186.3" r="2.9" fill="#fca80d"/>
<circle cx="696.0" cy="146.1" r="2.9" fill="#d74b3f"/>
<circle cx="629.5" cy="118.9" r="2.9" fill="#1c0c43"/>
<circle cx="819.5" cy="71.5" r="2.9" fill="#ef6e21"/>
<circle cx="629.0" cy="117.7" r="2.9" fill="#f8870e"/>
<circle cx="666.6" cy="127.0" r="2.9" fill="#d74b3f"/>
<circle cx="631.7" cy="117.1" r="2.9" fill="#f78410"/>
<circle cx="667.4" cy="123.6" r="2.9" fill="#0d0829"/>
</g>
<g fill-opacity="0.6">
<circle cx="1036.8" cy="120.4" r="2.9" fill="#65156e"/>
<circle cx="1062.4" cy="125.9" r="2.9" fill="#a92e5e"/>
<circle cx="1175.4" cy="92.6" r="2.9" fill="#fc9f07"/>
<circle cx="1080.2" cy="142.8" r="2.9" fill="#02020e"/>
<circle cx="1100.0" cy="143.5" r="2.9" fill="#02010a"/>
<circle cx="1172.4" cy="75.5" r="2.9" fill="#fcb014"/>
<circle cx="1155.6" cy="175.8" r="2.9" fill="#0a0722"/>
<circle cx="1132.3" cy="176.8" r="2.9" fill="#010108"/>
<circle cx="1026.9" cy="128.1" r="2.9" fill="#b0315b"/>
<circle cx="1123.2" cy="158.9" r="2.9" fill="#040312"/>
<circle cx="1215.8" cy="50.1" r="2.9" fill="#f1ef75"/>
<circle cx="1088.0" cy="120.4" r="2.9" fill="#de5238"/>
<circle cx="1138.2" cy="181.0" r="2.9" fill="#030210"/>
<circle cx="1195.9" cy="217.4" r="2.9" fill="#000004"/>
<circle cx="1016.0" cy="123.8" r="2.9" fill="#6d186e"/>
<circle cx="1132.8" cy="89.8" r="2.9" fill="#f68013"/>
<circle cx="1160.7" cy="197.0" r="2.9" fill="#010108"/>
<circle cx="1179.0" cy="197.0" r="2.9" fill="#030210"/>
<circle cx="1010.0" cy="113.1" r="2.9" fill="#02010a"/>
<circle cx="1018.0" cy="120.2" r="2.9" fill="#f78410"/>
<circle cx="1190.5" cy="56.4" r="2.9" fill="#f6d543"/>
<circle cx="1084.7" cy="127.0" r="2.9" fill="#de5238"/>
<circle cx="1193.0" cy="222.6" r="2.9" fill="#07051b"/>
<circle cx="1107.7" cy="166.0" r="2.9" fill="#030210"/>
<circle cx="1163.7" cy="59.8" r="2.9" fill="#f6d746"/>
<circle cx="1064.5" cy="144.6" r="2.9" fill="#ed6925"/>
<circle cx="1083.9" cy="123.3" r="2.9" fill="#08051d"/>
<circle cx="1095.5" cy="119.7" r="2.9" fill="#e75e2e"/>
<circle cx="1120.0" cy="107.3" r="2.9" fill="#f98e09"/>
<circle cx="1157.4" cy="189.9" r="2.9" fill="#09061f"/>
<circle cx="1205.2" cy="46.4" r="2.9" fill="#f5d949"/>
<circle cx="1202.7" cy="215.3" r="2.9" fill="#010106"/>
<circle cx="1202.2" cy="68.8" r="2.9" fill="#f5db4c"/>
<circle cx="1221.8" cy="72.9" r="2.9" fill="#f2e661"/>
<circle cx="1205.2" cy="55.0" r="2.9" fill="#f5db4c"/>
<circle cx="1182.6" cy="74.9" r="2.9" fill="#fbbe23"/>
<circle cx="1022.7" cy="113.4" r="2.9" fill="#000004"/>
<circle cx="1115.0" cy="107.7" r="2.9" fill="#ea632a"/>
<circle cx="1184.4" cy="215.5" r="2.9" fill="#07051b"/>
<circle cx="1190.1" cy="84.6" r="2.9" fill="#f4dd4f"/>
<circle cx="1200.9" cy="213.6" r="2.9" fill="#010005"/>
<circle cx="1111.1" cy="160.9" r="2.9" fill="#050417"/>
<circle cx="998.1" cy="107.6" r="2.9" fill="#040312"/>
<circle cx="1196.9" cy="56.1" r="2.9" fill="#f3f68a"/>
<circle cx="1141.0" cy="176.1" r="2.9" fill="#040312"/>
<circle cx="1161.6" cy="72.5" r="2.9" fill="#fcb216"/>
<circle cx="1133.6" cy="103.5" r="2.9" fill="#fa9207"/>
<circle cx="1079.8" cy="117.1" r="2.9" fill="#160b39"/>
<circle cx="1062.4" cy="107.9" r="2.9" fill="#fb9d07"/>
<circle cx="1084.7" cy="117.8" r="2.9" fill="#e45a31"/>
<circle cx="1215.3" cy="221.3" r="2.9" fill="#010106"/>
<circle cx="1132.1" cy="184.3" r="2.9" fill="#010005"/>
<circle cx="1169.3" cy="203.4" r="2.9" fill="#02010a"/>
<circle cx="1101.4" cy="149.8" r="2.9" fill="#ce4347"/>
<circle cx="1026.9" cy="108.7" r="2.9" fill="#fb9706"/>
<circle cx="1157.4" cy="197.7" r="2.9" fill="#040312"/>
<circle cx="1183.7" cy="210.4" r="2.9" fill="#010005"/>
<circle cx="1205.2" cy="221.1" r="2.9" fill="#a52c60"/>
<circle cx="1124.7" cy="174.1" r="2.9" fill="#09061f"/>
<circle cx="1017.3" cy="124.1" r="2.9" fill="#ec6726"/>
<circle cx="1156.8" cy="184.9" r="2.9" fill="#09061f"/>
<circle cx="1127.5" cy="169.1" r="2.9" fill="#0a0722"/>
<circle cx="1056.0" cy="117.1" r="2.9" fill="#000004"/>
<circle cx="1064.1" cy="121.5" r="2.9" fill="#09061f"/>
<circle cx="1136.2" cy="177.2" r="2.9" fill="#000004"/>
<circle cx="1213.5" cy="51.8" r="2.9" fill="#f2e661"/>
<circle cx="1177.2" cy="209.8" r="2.9" fill="#010108"/>
<circle cx="1208.2" cy="57.1" r="2.9" fill="#f3e35a"/>
<circle cx="1177.3" cy="76.9" r="2.9" fill="#f4dd4f"/>
<circle cx="1108.6" cy="159.5" r="2.9" fill="#08051d"/>
<circle cx="1126.7" cy="151.8" r="2.9" fill="#08051d"/>
<circle cx="1002.0" cy="113.4" r="2.9" fill="#fa9407"/>
<circle cx="1182.2" cy="92.3" r="2.9" fill="#fbba1f"/>
<circle cx="1224.9" cy="53.1" r="2.9" fill="#f9fc9d"/>
<circle cx="1130.7" cy="98.8" r="2.9" fill="#f1711f"/>
<circle cx="1169.0" cy="55.4" r="2.9" fill="#f9c72f"/>
<circle cx="1130.3" cy="175.8" r="2.9" fill="#07051b"/>
<circle cx="1064.9" cy="119.7" r="2.9" fill="#8a226a"/>
<circle cx="1115.5" cy="156.1" r="2.9" fill="#da4e3c"/>
<circle cx="1220.3" cy="52.8" r="2.9" fill="#fcffa4"/>
<circle cx="1099.2" cy="133.6" r="2.9" fill="#0c0826"/>
<circle cx="1207.2" cy="51.0" r="2.9" fill="#f3f586"/>
<circle cx="1058.7" cy="137.7" r="2.9" fill="#e35933"/>
<circle cx="1164.2" cy="198.9" r="2.9" fill="#000004"/>
<circle cx="1139.5" cy="122.5" r="2.9" fill="#fb9b06"/>
<circle cx="1194.2" cy="221.1" r="2.9" fill="#7c1d6d"/>
<circle cx="1016.1" cy="115.3" r="2.9" fill="#fb9b06"/>
<circle cx="1203.0" cy="60.1" r="2.9" fill="#f8fb9a"/>
<circle cx="1197.2" cy="214.9" r="2.9" fill="#000004"/>
<circle cx="1153.9" cy="186.3" r="2.9" fill="#02020e"/>
<circle cx="1180.3" cy="76.9" r="2.9" fill="#f9c72f"/>
<circle cx="1196.6" cy="221.9" r="2.9" fill="#c73e4c"/>
<circle cx="1155.2" cy="189.8" r="2.9" fill="#08051d"/>
<circle cx="1207.4" cy="221.9" r="2.9" fill="#040314"/>
<circle cx="1205.2" cy="218.7" r="2.9" fill="#07051b"/>
<circle cx="1029.3" cy="112.3" r="2.9" fill="#fb9606"/>
<circle cx="1069.8" cy="144.6" r="2.9" fill="#6c186e"/>
<circle cx="1189.1" cy="218.0" r="2.9" fill="#050417"/>
<circle cx="1172.5" cy="194.2" r="2.9" fill="#040314"/>
<circle cx="1208.2" cy="65.2" r="2.9" fill="#f1ed71"/>
<circle cx="1226.0" cy="58.5" r="2.9" fill="#fcffa4"/>
<circle cx="1185.8" cy="197.3" r="2.9" fill="#010005"/>
<circle cx="997.5" cy="113.1" r="2.9" fill="#f37819"/>
<circle cx="1159.1" cy="180.0" r="2.9" fill="#751b6e"/>
<circle cx="1019.4" cy="116.4" r="2.9" fill="#0a0722"/>
<circle cx="1077.3" cy="113.8" r="2.9" fill="#150b37"/>
<circle cx="1193.5" cy="54.8" r="2.9" fill="#f8cf3a"/>
<circle cx="1019.0" cy="114.0" r="2.9" fill="#771c6d"/>
<circle cx="1013.0" cy="122.4" r="2.9" fill="#e9612b"/>
<circle cx="1220.3" cy="54.4" r="2.9" fill="#f2e661"/>
<circle cx="1184.5" cy="65.8" r="2.9" fill="#f6d746"/>
<circle cx="1148.6" cy="93.6" r="2.9" fill="#fc9f07"/>
<circle cx="1196.2" cy="60.5" r="2.9" fill="#f2e865"/>
<circle cx="1177.5" cy="76.4" r="2.9" fill="#fcb216"/>
<circle cx="1027.3" cy="123.3" r="2.9" fill="#fca309"/>
<circle cx="1067.8" cy="128.1" r="2.9" fill="#f78410"/>
<circle cx="1199.2" cy="49.6" r="2.9" fill="#f9cb35"/>
<circle cx="1045.5" cy="131.8" r="2.9" fill="#f47918"/>
<circle cx="1199.9" cy="51.4" r="2.9" fill="#f8fb9a"/>
<circle cx="1161.7" cy="181.1" r="2.9" fill="#8c2369"/>
<circle cx="1204.2" cy="48.3" r="2.9" fill="#f2f27d"/>
<circle cx="1160.5" cy="103.3" r="2.9" fill="#f8850f"/>
<circle cx="1208.8" cy="56.8" r="2.9" fill="#f5f992"/>
<circle cx="1073.6" cy="119.7" r="2.9" fill="#f98c0a"/>
<circle cx="1182.6" cy="76.0" r="2.9" fill="#fac62d"/>
<circle cx="1122.8" cy="174.2" r="2.9" fill="#741a6e"/>
<circle cx="1205.9" cy="224.5" r="2.9" fill="#6f196e"/>
<circle cx="1132.0" cy="98.8" r="2.9" fill="#f98b0b"/>
<circle cx="1157.8" cy="88.6" r="2.9" fill="#fb9b06"/>
<circle cx="1144.9" cy="184.9" r="2.9" fill="#010106"/>
<circle cx="1178.6" cy="206.9" r="2.9" fill="#010108"/>
<circle cx="1213.9" cy="58.1" r="2.9" fill="#f8fb9a"/>
<circle cx="1009.0" cy="116.6" r="2.9" fill="#010108"/>
<circle cx="1238.4" cy="57.1" r="2.9" fill="#f2e661"/>
<circle cx="1213.3" cy="50.5" r="2.9" fill="#f6d746"/>
<circle cx="1207.7" cy="219.4" r="2.9" fill="#050417"/>
<circle cx="1185.1" cy="77.8" r="2.9" fill="#f6d543"/>
<circle cx="1148.4" cy="197.0" r="2.9" fill="#040314"/>
<circle cx="1110.5" cy="160.3" r="2.9" fill="#07051b"/>
<circle cx="1151.2" cy="193.3" r="2.9" fill="#08051d"/>
<circle cx="1004.5" cy="109.8" r="2.9" fill="#fb9906"/>
<circle cx="1114.5" cy="160.3" r="2.9" fill="#060419"/>
<circle cx="1132.8" cy="96.8" r="2.9" fill="#fb9906"/>
<circle cx="1201.6" cy="204.4" r="2.9" fill="#050417"/>
<circle cx="1094.3" cy="152.6" r="2.9" fill="#010106"/>
<circle cx="1190.1" cy="220.3" r="2.9" fill="#02020e"/>
<circle cx="1200.2" cy="222.0" r="2.9" fill="#08051d"/>
<circle cx="1198.2" cy="217.1" r="2.9" fill="#09061f"/>
<circle cx="1145.3" cy="176.5" r="2.9" fill="#d44842"/>
<circle cx="1183.3" cy="70.2" r="2.9" fill="#fbbe23"/>
<circle cx="1092.6" cy="145.4" r="2.9" fill="#000004"/>
<circle cx="1189.8" cy="209.8" r="2.9" fill="#09061f"/>
<circle cx="1193.4" cy="213.6" r="2.9" fill="#040312"/>
<circle cx="1149.8" cy="99.6" r="2.9" fill="#fcb014"/>
<circle cx="1146.8" cy="124.2" r="2.9" fill="#fca50a"/>
<circle cx="1186.1" cy="216.2" r="2.9" fill="#932667"/>
<circle cx="1211.3" cy="52.8" r="2.9" fill="#f8fb9a"/>
<circle cx="1186.0" cy="77.9" r="2.9" fill="#f8cd37"/>
<circle cx="1090.7" cy="161.0" r="2.9" fill="#000004"/>
<circle cx="1148.1" cy="182.2" r="2.9" fill="#030210"/>
<circle cx="1001.2" cy="120.0" r="2.9" fill="#180c3c"/>
<circle cx="1209.0" cy="60.1" r="2.9" fill="#f5f992"/>
<circle cx="1218.1" cy="52.8" r="2.9" fill="#fafda1"/>
<circle cx="1210.3" cy="223.2" r="2.9" fill="#040312"/>
<circle cx="1013.6" cy="112.0" r="2.9" fill="#ed6925"/>
<circle cx="1050.4" cy="123.0" r="2.9" fill="#fc9f07"/>
<circle cx="1088.0" cy="141.0" r="2.9" fill="#c73e4c"/>
<circle cx="1088.0" cy="149.1" r="2.9" fill="#09061f"/>
<circle cx="1204.5" cy="49.4" r="2.9" fill="#f1ec6d"/>
<circle cx="1172.9" cy="221.0" r="2.9" fill="#040312"/>
<circle cx="1076.0" cy="123.7" r="2.9" fill="#6f196e"/>
<circle cx="1000.4" cy="122.6" r="2.9" fill="#1e0c45"/>
<circle cx="1210.3" cy="52.3" r="2.9" fill="#f4df53"/>
<circle cx="1130.0" cy="133.8" r="2.9" fill="#f68013"/>
<circle cx="1033.9" cy="113.4" r="2.9" fill="#fca108"/>
<circle cx="1021.9" cy="127.8" r="2.9" fill="#8f2469"/>
<circle cx="1000.0" cy="108.7" r="2.9" fill="#e25734"/>
<circle cx="1218.4" cy="47.7" r="2.9" fill="#f3f68a"/>
<circle cx="1105.6" cy="160.4" r="2.9" fill="#f8850f"/>
<circle cx="1103.7" cy="109.4" r="2.9" fill="#f06f20"/>
<circle cx="1192.1" cy="216.7" r="2.9" fill="#bd3853"/>
<circle cx="1200.2" cy="217.4" r="2.9" fill="#040314"/>
<circle cx="1137.5" cy="100.3" r="2.9" fill="#fa9008"/>
<circle cx="1237.3" cy="55.1" r="2.9" fill="#f2ea69"/>
<circle cx="1124.5" cy="119.6" r="2.9" fill="#ef6e21"/>
<circle cx="1150.4" cy="175.8" r="2.9" fill="#08051d"/>
<circle cx="1200.7" cy="56.1" r="2.9" fill="#f5d949"/>
<circle cx="1155.2" cy="187.7" r="2.9" fill="#07051b"/>
<circle cx="1093.5" cy="150.5" r="2.9" fill="#b0315b"/>
<circle cx="1216.3" cy="51.4" r="2.9" fill="#f9fc9d"/>
<circle cx="1007.8" cy="114.2" r="2.9" fill="#b73557"/>
<circle cx="1029.7" cy="117.5" r="2.9" fill="#6f196e"/>
<circle cx="1183.0" cy="61.8" r="2.9" fill="#fac42a"/>
<circle cx="1177.7" cy="70.2" r="2.9" fill="#fcaa0f"/>
<circle cx="1202.2" cy="50.4" r="2.9" fill="#f5db4c"/>
<circle cx="997.9" cy="117.1" r="2.9" fill="#e65d2f"/>
<circle cx="1047.9" cy="120.8" r="2.9" fill="#040314"/>
<circle cx="1178.1" cy="56.4" r="2.9" fill="#f4dd4f"/>
<circle cx="1008.3" cy="123.0" r="2.9" fill="#e25734"/>
<circle cx="1220.7" cy="62.1" r="2.9" fill="#fcffa4"/>
<circle cx="1033.9" cy="125.9" r="2.9" fill="#fa9207"/>
<circle cx="1165.3" cy="196.4" r="2.9" fill="#010106"/>
<circle cx="1106.2" cy="160.3" r="2.9" fill="#e25734"/>
<circle cx="1166.4" cy="82.9" r="2.9" fill="#fca50a"/>
<circle cx="1014.5" cy="122.2" r="2.9" fill="#67166e"/>
<circle cx="1026.4" cy="116.4" r="2.9" fill="#6a176e"/>
<circle cx="1198.8" cy="49.7" r="2.9" fill="#f2f482"/>
<circle cx="1155.9" cy="188.1" r="2.9" fill="#010106"/>
<circle cx="1188.0" cy="218.1" r="2.9" fill="#bf3952"/>
<circle cx="1103.0" cy="159.3" r="2.9" fill="#f8890c"/>
<circle cx="1074.0" cy="134.0" r="2.9" fill="#10092d"/>
<circle cx="1116.0" cy="148.8" r="2.9" fill="#02020c"/>
<circle cx="1145.5" cy="171.6" r="2.9" fill="#721a6e"/>
<circle cx="1036.4" cy="116.0" r="2.9" fill="#02020c"/>
<circle cx="1152.2" cy="109.3" r="2.9" fill="#f78410"/>
<circle cx="1197.3" cy="219.4" r="2.9" fill="#040312"/>
<circle cx="1130.0" cy="98.9" r="2.9" fill="#f1711f"/>
<circle cx="1231.7" cy="50.8" r="2.9" fill="#f3e55d"/>
<circle cx="1200.2" cy="225.1" r="2.9" fill="#b0315b"/>
<circle cx="1059.5" cy="134.7" r="2.9" fill="#fca108"/>
<circle cx="1136.6" cy="175.1" r="2.9" fill="#02020e"/>
<circle cx="1116.4" cy="165.6" r="2.9" fill="#010106"/>
<circle cx="1084.8" cy="154.7" r="2.9" fill="#6f196e"/>
<circle cx="1191.6" cy="48.4" r="2.9" fill="#f6d543"/>
<circle cx="1189.4" cy="222.6" r="2.9" fill="#040312"/>
<circle cx="1215.3" cy="55.0" r="2.9" fill="#f3f586"/>
<circle cx="1133.8" cy="169.5" r="2.9" fill="#02010a"/>
<circle cx="1239.2" cy="61.5" r="2.9" fill="#f3f586"/>
<circle cx="1091.3" cy="108.7" r="2.9" fill="#f1711f"/>
<circle cx="1183.3" cy="226.7" r="2.9" fill="#932667"/>
<circle cx="1180.3" cy="53.4" r="2.9" fill="#f8cf3a"/>
<circle cx="1124.5" cy="107.7" r="2.9" fill="#fa9008"/>
<circle cx="1136.2" cy="94.0" r="2.9" fill="#fa9008"/>
<circle cx="1217.7" cy="60.8" r="2.9" fill="#f1ed71"/>
<circle cx="1107.7" cy="114.1" r="2.9" fill="#e15635"/>
<circle cx="1132.3" cy="97.9" r="2.9" fill="#f98c0a"/>
<circle cx="1190.8" cy="207.2" r="2.9" fill="#0a0722"/>
<circle cx="1145.6" cy="91.6" r="2.9" fill="#f8890c"/>
<circle cx="1172.8" cy="64.8" r="2.9" fill="#fcae12"/>
<circle cx="1217.8" cy="48.7" r="2.9" fill="#f3f586"/>
<circle cx="1201.2" cy="48.7" r="2.9" fill="#f8fb9a"/>
<circle cx="1103.4" cy="153.7" r="2.9" fill="#f98c0a"/>
<circle cx="1202.2" cy="52.3" r="2.9" fill="#f6fa96"/>
<circle cx="1186.4" cy="70.5" r="2.9" fill="#fbba1f"/>
<circle cx="1120.0" cy="164.2" r="2.9" fill="#010106"/>
<circle cx="1021.0" cy="117.5" r="2.9" fill="#df5337"/>
<circle cx="1083.1" cy="134.7" r="2.9" fill="#08051d"/>
<circle cx="1172.4" cy="92.0" r="2.9" fill="#f8cf3a"/>
<circle cx="1003.7" cy="116.4" r="2.9" fill="#57106e"/>
<circle cx="1014.0" cy="109.4" r="2.9" fill="#b93556"/>
<circle cx="1030.2" cy="120.8" r="2.9" fill="#6f196e"/>
<circle cx="1203.7" cy="63.5" r="2.9" fill="#f6fa96"/>
<circle cx="1203.1" cy="213.0" r="2.9" fill="#02020e"/>
<circle cx="1098.8" cy="137.7" r="2.9" fill="#060419"/>
<circle cx="1209.5" cy="213.9" r="2.9" fill="#07051b"/>
<circle cx="1163.5" cy="191.3" r="2.9" fill="#010108"/>
<circle cx="1192.3" cy="218.7" r="2.9" fill="#07051b"/>
<circle cx="1146.6" cy="201.2" r="2.9" fill="#040312"/>
<circle cx="1006.9" cy="121.1" r="2.9" fill="#07051b"/>
<circle cx="1124.5" cy="96.8" r="2.9" fill="#f47918"/>
<circle cx="1016.9" cy="120.8" r="2.9" fill="#ef6e21"/>
<circle cx="1074.1" cy="150.4" r="2.9" fill="#08051d"/>
<circle cx="1030.2" cy="127.8" r="2.9" fill="#fa9008"/>
<circle cx="1223.3" cy="50.8" r="2.9" fill="#f5f992"/>
<circle cx="1020.2" cy="118.6" r="2.9" fill="#1e0c45"/>
<circle cx="995.6" cy="121.7" r="2.9" fill="#fa9207"/>
<circle cx="1154.2" cy="200.9" r="2.9" fill="#84206b"/>
<circle cx="1212.3" cy="55.9" r="2.9" fill="#f4f88e"/>
<circle cx="1180.1" cy="77.3" r="2.9" fill="#fca80d"/>
<circle cx="1194.7" cy="72.5" r="2.9" fill="#fac026"/>
<circle cx="1210.5" cy="49.4" r="2.9" fill="#f4dd4f"/>
<circle cx="1167.8" cy="193.2" r="2.9" fill="#922568"/>
<circle cx="1204.2" cy="218.0" r="2.9" fill="#030210"/>
<circle cx="1015.0" cy="115.7" r="2.9" fill="#050417"/>
<circle cx="1190.9" cy="62.1" r="2.9" fill="#f1ed71"/>
<circle cx="1198.1" cy="76.2" r="2.9" fill="#f7d340"/>
<circle cx="1207.5" cy="55.1" r="2.9" fill="#f2e865"/>
<circle cx="1195.2" cy="218.5" r="2.9" fill="#09061f"/>
<circle cx="1000.4" cy="117.8" r="2.9" fill="#09061f"/>
<circle cx="1010.3" cy="119.3" r="2.9" fill="#fb9b06"/>
<circle cx="1201.2" cy="219.4" r="2.9" fill="#02020e"/>
<circle cx="1148.1" cy="186.3" r="2.9" fill="#040314"/>
<circle cx="1078.5" cy="146.1" r="2.9" fill="#9d2964"/>
<circle cx="1012.0" cy="118.9" r="2.9" fill="#b93556"/>
<circle cx="1202.2" cy="71.5" r="2.9" fill="#f1ed71"/>
<circle cx="1011.6" cy="117.7" r="2.9" fill="#f98c0a"/>
<circle cx="1049.2" cy="127.0" r="2.9" fill="#e35933"/>
<circle cx="1014.2" cy="117.1" r="2.9" fill="#f8890c"/>
<circle cx="1050.0" cy="123.6" r="2.9" fill="#932667"/>
</g>
<g fill-opacity="0.6">
<circle cx="653.7" cy="323.5" r="2.9" fill="#5f2f96"/>
<circle cx="679.4" cy="329.0" r="2.9" fill="#7b2b96"/>
<circle cx="792.6" cy="295.7" r="2.9" fill="#848484"/>
<circle cx="697.2" cy="345.9" r="2.9" fill="#a8288f"/>
<circle cx="717.1" cy="346.6" r="2.9" fill="#c3397d"/>
<circle cx="789.6" cy="278.6" r="2.9" fill="#848484"/>
<circle cx="772.7" cy="378.9" r="2.9" fill="#ee8c41"/>
<circle cx="749.4" cy="379.9" r="2.9" fill="#e67452"/>
<circle cx="643.8" cy="331.2" r="2.9" fill="#3e2e8d"/>
<circle cx="740.3" cy="362.0" r="2.9" fill="#dc5f60"/>
<circle cx="833.1" cy="253.2" r="2.9" fill="#848484"/>
<circle cx="705.1" cy="323.5" r="2.9" fill="#848484"/>
<circle cx="755.3" cy="384.1" r="2.9" fill="#eb7d4b"/>
<circle cx="813.1" cy="420.5" r="2.9" fill="#f1db24"/>
<circle cx="632.9" cy="326.9" r="2.9" fill="#322e88"/>
<circle cx="749.9" cy="292.9" r="2.9" fill="#848484"/>
<circle cx="777.8" cy="400.1" r="2.9" fill="#f29f33"/>
<circle cx="796.2" cy="400.1" r="2.9" fill="#f5b428"/>
<circle cx="626.9" cy="316.2" r="2.9" fill="#322d88"/>
<circle cx="634.9" cy="323.3" r="2.9" fill="#3a2e8b"/>
<circle cx="807.7" cy="259.5" r="2.9" fill="#848484"/>
<circle cx="701.8" cy="330.1" r="2.9" fill="#742b96"/>
<circle cx="810.2" cy="425.7" r="2.9" fill="#f1db24"/>
<circle cx="724.8" cy="369.1" r="2.9" fill="#d65369"/>
<circle cx="780.9" cy="262.9" r="2.9" fill="#848484"/>
<circle cx="681.5" cy="347.7" r="2.9" fill="#8e2896"/>
<circle cx="700.9" cy="326.4" r="2.9" fill="#7d2a96"/>
<circle cx="712.5" cy="322.8" r="2.9" fill="#848484"/>
<circle cx="737.1" cy="310.4" r="2.9" fill="#848484"/>
<circle cx="774.6" cy="393.0" r="2.9" fill="#f09838"/>
<circle cx="822.5" cy="249.5" r="2.9" fill="#848484"/>
<circle cx="820.0" cy="418.4" r="2.9" fill="#f1e124"/>
<circle cx="819.4" cy="271.9" r="2.9" fill="#848484"/>
<circle cx="839.1" cy="276.0" r="2.9" fill="#848484"/>
<circle cx="822.5" cy="258.1" r="2.9" fill="#848484"/>
<circle cx="799.8" cy="278.0" r="2.9" fill="#848484"/>
<circle cx="639.7" cy="316.5" r="2.9" fill="#2f2d87"/>
<circle cx="732.1" cy="310.8" r="2.9" fill="#848484"/>
<circle cx="801.6" cy="418.6" r="2.9" fill="#f3ca26"/>
<circle cx="807.4" cy="287.7" r="2.9" fill="#848484"/>
<circle cx="818.2" cy="416.7" r="2.9" fill="#f1dd24"/>
<circle cx="728.2" cy="364.0" r="2.9" fill="#d65369"/>
<circle cx="615.0" cy="310.7" r="2.9" fill="#332e88"/>
<circle cx="814.2" cy="259.2" r="2.9" fill="#848484"/>
<circle cx="758.1" cy="379.2" r="2.9" fill="#ea7b4c"/>
<circle cx="778.8" cy="275.6" r="2.9" fill="#848484"/>
<circle cx="750.7" cy="306.6" r="2.9" fill="#848484"/>
<circle cx="696.8" cy="320.2" r="2.9" fill="#842996"/>
<circle cx="679.4" cy="311.0" r="2.9" fill="#7d2a96"/>
<circle cx="701.8" cy="320.9" r="2.9" fill="#762b96"/>
<circle cx="832.6" cy="424.4" r="2.9" fill="#f0e823"/>
<circle cx="749.2" cy="387.4" r="2.9" fill="#e9794e"/>
<circle cx="786.5" cy="406.5" r="2.9" fill="#f5ad29"/>
<circle cx="718.5" cy="352.9" r="2.9" fill="#c94077"/>
<circle cx="643.8" cy="311.8" r="2.9" fill="#3d2e8c"/>
<circle cx="774.6" cy="400.8" r="2.9" fill="#f29e34"/>
<circle cx="800.9" cy="413.5" r="2.9" fill="#f3c526"/>
<circle cx="822.5" cy="424.2" r="2.9" fill="#f0e823"/>
<circle cx="741.8" cy="377.2" r="2.9" fill="#e26a58"/>
<circle cx="634.3" cy="327.2" r="2.9" fill="#342e89"/>
<circle cx="773.9" cy="388.0" r="2.9" fill="#ef933b"/>
<circle cx="744.6" cy="372.2" r="2.9" fill="#e16959"/>
<circle cx="673.0" cy="320.2" r="2.9" fill="#652e96"/>
<circle cx="681.1" cy="324.6" r="2.9" fill="#742b96"/>
<circle cx="753.3" cy="380.3" r="2.9" fill="#e8774f"/>
<circle cx="830.8" cy="254.9" r="2.9" fill="#848484"/>
<circle cx="794.4" cy="412.9" r="2.9" fill="#f4bd27"/>
<circle cx="825.5" cy="260.2" r="2.9" fill="#848484"/>
<circle cx="794.5" cy="280.0" r="2.9" fill="#848484"/>
<circle cx="725.7" cy="362.6" r="2.9" fill="#d44f6b"/>
<circle cx="743.8" cy="354.9" r="2.9" fill="#db5d61"/>
<circle cx="619.0" cy="316.5" r="2.9" fill="#3c2e8c"/>
<circle cx="799.4" cy="295.4" r="2.9" fill="#848484"/>
<circle cx="842.1" cy="256.2" r="2.9" fill="#848484"/>
<circle cx="747.9" cy="301.9" r="2.9" fill="#848484"/>
<circle cx="786.2" cy="258.5" r="2.9" fill="#848484"/>
<circle cx="747.4" cy="378.9" r="2.9" fill="#e57153"/>
<circle cx="681.9" cy="322.8" r="2.9" fill="#752b96"/>
<circle cx="732.6" cy="359.2" r="2.9" fill="#d75468"/>
<circle cx="837.6" cy="255.9" r="2.9" fill="#848484"/>
<circle cx="716.3" cy="336.7" r="2.9" fill="#882996"/>
<circle cx="824.5" cy="254.1" r="2.9" fill="#848484"/>
<circle cx="675.7" cy="340.8" r="2.9" fill="#692d96"/>
<circle cx="781.4" cy="402.0" r="2.9" fill="#f3a52f"/>
<circle cx="756.7" cy="325.6" r="2.9" fill="#848484"/>
<circle cx="811.4" cy="424.2" r="2.9" fill="#f1db24"/>
<circle cx="633.0" cy="318.4" r="2.9" fill="#3e2e8d"/>
<circle cx="820.2" cy="263.2" r="2.9" fill="#848484"/>
<circle cx="814.4" cy="418.0" r="2.9" fill="#f1d924"/>
<circle cx="771.1" cy="389.4" r="2.9" fill="#ef923c"/>
<circle cx="797.5" cy="280.0" r="2.9" fill="#848484"/>
<circle cx="813.8" cy="425.0" r="2.9" fill="#f1df24"/>
<circle cx="772.4" cy="392.9" r="2.9" fill="#f0953a"/>
<circle cx="824.6" cy="425.0" r="2.9" fill="#f0e823"/>
<circle cx="822.5" cy="421.8" r="2.9" fill="#f0e623"/>
<circle cx="646.3" cy="315.4" r="2.9" fill="#3d2e8c"/>
<circle cx="686.9" cy="347.7" r="2.9" fill="#992893"/>
<circle cx="806.3" cy="421.1" r="2.9" fill="#f2d225"/>
<circle cx="789.7" cy="397.3" r="2.9" fill="#f4aa2c"/>
<circle cx="825.5" cy="268.3" r="2.9" fill="#848484"/>
<circle cx="843.3" cy="261.6" r="2.9" fill="#848484"/>
<circle cx="803.0" cy="400.4" r="2.9" fill="#f4bd27"/>
<circle cx="614.4" cy="316.2" r="2.9" fill="#372e8a"/>
<circle cx="776.3" cy="383.1" r="2.9" fill="#ef923c"/>
<circle cx="636.4" cy="319.5" r="2.9" fill="#372e8a"/>
<circle cx="694.3" cy="316.9" r="2.9" fill="#812a96"/>
<circle cx="810.8" cy="257.9" r="2.9" fill="#848484"/>
<circle cx="636.0" cy="317.1" r="2.9" fill="#342e89"/>
<circle cx="629.9" cy="325.5" r="2.9" fill="#322e88"/>
<circle cx="837.6" cy="257.5" r="2.9" fill="#848484"/>
<circle cx="801.7" cy="268.9" r="2.9" fill="#848484"/>
<circle cx="765.8" cy="296.7" r="2.9" fill="#848484"/>
<circle cx="813.4" cy="263.6" r="2.9" fill="#848484"/>
<circle cx="794.7" cy="279.5" r="2.9" fill="#848484"/>
<circle cx="644.2" cy="326.4" r="2.9" fill="#402e8d"/>
<circle cx="684.8" cy="331.2" r="2.9" fill="#7a2b96"/>
<circle cx="816.4" cy="252.7" r="2.9" fill="#848484"/>
<circle cx="662.4" cy="334.9" r="2.9" fill="#6c2d96"/>
<circle cx="817.2" cy="254.5" r="2.9" fill="#848484"/>
<circle cx="778.9" cy="384.2" r="2.9" fill="#f09639"/>
<circle cx="821.5" cy="251.4" r="2.9" fill="#848484"/>
<circle cx="777.6" cy="306.4" r="2.9" fill="#848484"/>
<circle cx="826.0" cy="259.9" r="2.9" fill="#848484"/>
<circle cx="690.6" cy="322.8" r="2.9" fill="#7f2a96"/>
<circle cx="799.8" cy="279.1" r="2.9" fill="#848484"/>
<circle cx="739.9" cy="377.3" r="2.9" fill="#e16959"/>
<circle cx="823.2" cy="427.6" r="2.9" fill="#f0e823"/>
<circle cx="749.1" cy="301.9" r="2.9" fill="#848484"/>
<circle cx="775.0" cy="291.7" r="2.9" fill="#848484"/>
<circle cx="762.1" cy="388.0" r="2.9" fill="#ed8645"/>
<circle cx="795.8" cy="410.0" r="2.9" fill="#f4bb27"/>
<circle cx="831.2" cy="261.2" r="2.9" fill="#848484"/>
<circle cx="625.9" cy="319.7" r="2.9" fill="#312d87"/>
<circle cx="855.7" cy="260.2" r="2.9" fill="#848484"/>
<circle cx="830.5" cy="253.6" r="2.9" fill="#848484"/>
<circle cx="825.0" cy="422.5" r="2.9" fill="#f0e823"/>
<circle cx="802.3" cy="280.9" r="2.9" fill="#848484"/>
<circle cx="765.6" cy="400.1" r="2.9" fill="#ef933b"/>
<circle cx="727.6" cy="363.4" r="2.9" fill="#d55269"/>
<circle cx="768.4" cy="396.4" r="2.9" fill="#ef933b"/>
<circle cx="621.4" cy="312.9" r="2.9" fill="#3d2e8c"/>
<circle cx="731.6" cy="363.4" r="2.9" fill="#d85766"/>
<circle cx="749.9" cy="299.9" r="2.9" fill="#848484"/>
<circle cx="818.9" cy="407.5" r="2.9" fill="#f2d525"/>
<circle cx="711.4" cy="355.7" r="2.9" fill="#c3397d"/>
<circle cx="807.4" cy="423.4" r="2.9" fill="#f2d525"/>
<circle cx="817.4" cy="425.1" r="2.9" fill="#f0e223"/>
<circle cx="815.4" cy="420.2" r="2.9" fill="#f1dd24"/>
<circle cx="762.4" cy="379.6" r="2.9" fill="#ec8148"/>
<circle cx="800.5" cy="273.3" r="2.9" fill="#848484"/>
<circle cx="709.6" cy="348.5" r="2.9" fill="#bc3184"/>
<circle cx="807.0" cy="412.9" r="2.9" fill="#f2cc25"/>
<circle cx="810.6" cy="416.7" r="2.9" fill="#f2d425"/>
<circle cx="767.0" cy="302.7" r="2.9" fill="#848484"/>
<circle cx="763.9" cy="327.3" r="2.9" fill="#848484"/>
<circle cx="803.3" cy="419.3" r="2.9" fill="#f2ce25"/>
<circle cx="828.5" cy="255.9" r="2.9" fill="#848484"/>
<circle cx="803.2" cy="281.0" r="2.9" fill="#848484"/>
<circle cx="707.8" cy="364.1" r="2.9" fill="#c53c7b"/>
<circle cx="765.2" cy="385.3" r="2.9" fill="#ed8744"/>
<circle cx="618.1" cy="323.1" r="2.9" fill="#3d2e8c"/>
<circle cx="826.3" cy="263.2" r="2.9" fill="#848484"/>
<circle cx="835.3" cy="255.9" r="2.9" fill="#848484"/>
<circle cx="827.5" cy="426.3" r="2.9" fill="#f0e823"/>
<circle cx="630.6" cy="315.1" r="2.9" fill="#352e89"/>
<circle cx="667.4" cy="326.1" r="2.9" fill="#782b96"/>
<circle cx="705.1" cy="344.1" r="2.9" fill="#b3288c"/>
<circle cx="705.0" cy="352.2" r="2.9" fill="#b92e87"/>
<circle cx="821.7" cy="252.5" r="2.9" fill="#848484"/>
<circle cx="790.1" cy="424.1" r="2.9" fill="#f3c126"/>
<circle cx="693.1" cy="326.8" r="2.9" fill="#752b96"/>
<circle cx="617.3" cy="325.7" r="2.9" fill="#402e8d"/>
<circle cx="827.5" cy="255.4" r="2.9" fill="#848484"/>
<circle cx="747.1" cy="336.9" r="2.9" fill="#848484"/>
<circle cx="650.8" cy="316.5" r="2.9" fill="#3f2e8d"/>
<circle cx="638.8" cy="330.9" r="2.9" fill="#382e8a"/>
<circle cx="616.9" cy="311.8" r="2.9" fill="#302d87"/>
<circle cx="835.7" cy="250.8" r="2.9" fill="#848484"/>
<circle cx="722.7" cy="363.5" r="2.9" fill="#d34c6d"/>
<circle cx="720.8" cy="312.5" r="2.9" fill="#848484"/>
<circle cx="809.4" cy="419.8" r="2.9" fill="#f2d525"/>
<circle cx="817.4" cy="420.5" r="2.9" fill="#f1df24"/>
<circle cx="754.7" cy="303.4" r="2.9" fill="#848484"/>
<circle cx="854.6" cy="258.2" r="2.9" fill="#848484"/>
<circle cx="741.6" cy="322.7" r="2.9" fill="#848484"/>
<circle cx="767.6" cy="378.9" r="2.9" fill="#ed8645"/>
<circle cx="817.9" cy="259.2" r="2.9" fill="#848484"/>
<circle cx="772.4" cy="390.8" r="2.9" fill="#ef933b"/>
<circle cx="710.6" cy="353.6" r="2.9" fill="#c03680"/>
<circle cx="833.6" cy="254.5" r="2.9" fill="#848484"/>
<circle cx="624.8" cy="317.3" r="2.9" fill="#3f2e8d"/>
<circle cx="646.7" cy="320.6" r="2.9" fill="#332e88"/>
<circle cx="800.2" cy="264.9" r="2.9" fill="#848484"/>
<circle cx="794.9" cy="273.3" r="2.9" fill="#848484"/>
<circle cx="819.4" cy="253.5" r="2.9" fill="#848484"/>
<circle cx="614.8" cy="320.2" r="2.9" fill="#322d88"/>
<circle cx="664.9" cy="323.9" r="2.9" fill="#682d96"/>
<circle cx="795.3" cy="259.5" r="2.9" fill="#848484"/>
<circle cx="625.2" cy="326.1" r="2.9" fill="#302d87"/>
<circle cx="838.0" cy="265.2" r="2.9" fill="#848484"/>
<circle cx="650.8" cy="329.0" r="2.9" fill="#3c2e8c"/>
<circle cx="782.5" cy="399.5" r="2.9" fill="#f3a430"/>
<circle cx="723.2" cy="363.4" r="2.9" fill="#d34e6c"/>
<circle cx="783.5" cy="286.0" r="2.9" fill="#848484"/>
<circle cx="631.4" cy="325.3" r="2.9" fill="#322d88"/>
<circle cx="643.4" cy="319.5" r="2.9" fill="#322e88"/>
<circle cx="816.0" cy="252.8" r="2.9" fill="#848484"/>
<circle cx="773.1" cy="391.2" r="2.9" fill="#f0953a"/>
<circle cx="805.2" cy="421.2" r="2.9" fill="#f2d225"/>
<circle cx="720.1" cy="362.4" r="2.9" fill="#d04870"/>
<circle cx="691.0" cy="337.1" r="2.9" fill="#7d2a96"/>
<circle cx="733.1" cy="351.9" r="2.9" fill="#d44f6b"/>
<circle cx="762.7" cy="374.7" r="2.9" fill="#eb7d4b"/>
<circle cx="653.3" cy="319.1" r="2.9" fill="#602e96"/>
<circle cx="769.3" cy="312.4" r="2.9" fill="#848484"/>
<circle cx="814.6" cy="422.5" r="2.9" fill="#f1dd24"/>
<circle cx="747.1" cy="302.0" r="2.9" fill="#848484"/>
<circle cx="848.9" cy="253.9" r="2.9" fill="#848484"/>
<circle cx="817.4" cy="428.2" r="2.9" fill="#f0e623"/>
<circle cx="676.5" cy="337.8" r="2.9" fill="#7c2a96"/>
<circle cx="753.7" cy="378.2" r="2.9" fill="#e87650"/>
<circle cx="733.5" cy="368.7" r="2.9" fill="#da5c62"/>
<circle cx="701.8" cy="357.8" r="2.9" fill="#ba3086"/>
<circle cx="808.9" cy="251.5" r="2.9" fill="#848484"/>
<circle cx="806.6" cy="425.7" r="2.9" fill="#f1d724"/>
<circle cx="832.6" cy="258.1" r="2.9" fill="#848484"/>
<circle cx="751.0" cy="372.6" r="2.9" fill="#e47054"/>
<circle cx="856.5" cy="264.6" r="2.9" fill="#848484"/>
<circle cx="708.4" cy="311.8" r="2.9" fill="#848484"/>
<circle cx="800.5" cy="429.8" r="2.9" fill="#f2d425"/>
<circle cx="797.5" cy="256.5" r="2.9" fill="#848484"/>
<circle cx="741.6" cy="310.8" r="2.9" fill="#848484"/>
<circle cx="753.3" cy="297.1" r="2.9" fill="#848484"/>
<circle cx="834.9" cy="263.9" r="2.9" fill="#848484"/>
<circle cx="724.8" cy="317.2" r="2.9" fill="#848484"/>
<circle cx="749.4" cy="301.0" r="2.9" fill="#848484"/>
<circle cx="808.1" cy="410.3" r="2.9" fill="#f2cc25"/>
<circle cx="762.7" cy="294.7" r="2.9" fill="#848484"/>
<circle cx="790.0" cy="267.9" r="2.9" fill="#848484"/>
<circle cx="835.1" cy="251.8" r="2.9" fill="#848484"/>
<circle cx="818.4" cy="251.8" r="2.9" fill="#848484"/>
<circle cx="720.5" cy="356.8" r="2.9" fill="#cd4673"/>
<circle cx="819.4" cy="255.4" r="2.9" fill="#848484"/>
<circle cx="803.6" cy="273.6" r="2.9" fill="#848484"/>
<circle cx="737.1" cy="367.3" r="2.9" fill="#dc5f60"/>
<circle cx="638.0" cy="320.6" r="2.9" fill="#2f2d87"/>
<circle cx="700.1" cy="337.8" r="2.9" fill="#7d2a96"/>
<circle cx="789.6" cy="295.1" r="2.9" fill="#848484"/>
<circle cx="620.6" cy="319.5" r="2.9" fill="#2f2d87"/>
<circle cx="631.0" cy="312.5" r="2.9" fill="#402e8d"/>
<circle cx="647.1" cy="323.9" r="2.9" fill="#332e88"/>
<circle cx="821.0" cy="266.6" r="2.9" fill="#848484"/>
<circle cx="820.3" cy="416.1" r="2.9" fill="#f1df24"/>
<circle cx="715.9" cy="340.8" r="2.9" fill="#bd3283"/>
<circle cx="826.8" cy="417.0" r="2.9" fill="#f0e823"/>
<circle cx="780.7" cy="394.4" r="2.9" fill="#f29f33"/>
<circle cx="809.5" cy="421.8" r="2.9" fill="#f1d724"/>
<circle cx="763.8" cy="404.3" r="2.9" fill="#f0953a"/>
<circle cx="623.9" cy="324.2" r="2.9" fill="#362e89"/>
<circle cx="741.6" cy="299.9" r="2.9" fill="#848484"/>
<circle cx="633.9" cy="323.9" r="2.9" fill="#352e89"/>
<circle cx="691.2" cy="353.5" r="2.9" fill="#a7288f"/>
<circle cx="647.1" cy="330.9" r="2.9" fill="#3b2e8c"/>
<circle cx="840.6" cy="253.9" r="2.9" fill="#848484"/>
<circle cx="637.2" cy="321.7" r="2.9" fill="#402e8d"/>
<circle cx="612.5" cy="324.8" r="2.9" fill="#3c2e8c"/>
<circle cx="771.3" cy="404.0" r="2.9" fill="#f19c35"/>
<circle cx="829.5" cy="259.0" r="2.9" fill="#848484"/>
<circle cx="797.3" cy="280.4" r="2.9" fill="#848484"/>
<circle cx="811.9" cy="275.6" r="2.9" fill="#848484"/>
<circle cx="827.8" cy="252.5" r="2.9" fill="#848484"/>
<circle cx="785.0" cy="396.3" r="2.9" fill="#f3a52f"/>
<circle cx="821.5" cy="421.1" r="2.9" fill="#f0e423"/>
<circle cx="631.9" cy="318.8" r="2.9" fill="#352e89"/>
<circle cx="808.1" cy="265.2" r="2.9" fill="#848484"/>
<circle cx="815.3" cy="279.3" r="2.9" fill="#848484"/>
<circle cx="824.7" cy="258.2" r="2.9" fill="#848484"/>
<circle cx="812.4" cy="421.6" r="2.9" fill="#f1db24"/>
<circle cx="617.3" cy="320.9" r="2.9" fill="#372e8a"/>
<circle cx="627.2" cy="322.4" r="2.9" fill="#3e2e8d"/>
<circle cx="818.4" cy="422.5" r="2.9" fill="#f0e223"/>
<circle cx="765.2" cy="389.4" r="2.9" fill="#ee8a42"/>
<circle cx="695.6" cy="349.2" r="2.9" fill="#aa288f"/>
<circle cx="628.9" cy="322.0" r="2.9" fill="#402e8d"/>
<circle cx="819.4" cy="274.6" r="2.9" fill="#848484"/>
<circle cx="628.5" cy="320.8" r="2.9" fill="#3b2e8c"/>
<circle cx="666.2" cy="330.1" r="2.9" fill="#642e96"/>
<circle cx="631.2" cy="320.2" r="2.9" fill="#3b2e8b"/>
<circle cx="667.0" cy="326.7" r="2.9" fill="#702c96"/>
</g>
<g fill-opacity="0.6">
<circle cx="1036.8" cy="323.5" r="2.9" fill="#5f2f96"/>
<circle cx="1062.4" cy="329.0" r="2.9" fill="#7b2b96"/>
<circle cx="1175.4" cy="295.7" r="2.9" fill="#ee8c41"/>
<circle cx="1080.2" cy="345.9" r="2.9" fill="#848484"/>
<circle cx="1100.0" cy="346.6" r="2.9" fill="#848484"/>
<circle cx="1172.4" cy="278.6" r="2.9" fill="#ef933b"/>
<circle cx="1155.6" cy="378.9" r="2.9" fill="#848484"/>
<circle cx="1132.3" cy="379.9" r="2.9" fill="#848484"/>
<circle cx="1026.9" cy="331.2" r="2.9" fill="#3e2e8d"/>
<circle cx="1123.2" cy="362.0" r="2.9" fill="#848484"/>
<circle cx="1215.8" cy="253.2" r="2.9" fill="#f1df24"/>
<circle cx="1088.0" cy="323.5" r="2.9" fill="#882996"/>
<circle cx="1138.2" cy="384.1" r="2.9" fill="#848484"/>
<circle cx="1195.9" cy="420.5" r="2.9" fill="#848484"/>
<circle cx="1016.0" cy="326.9" r="2.9" fill="#322e88"/>
<circle cx="1132.8" cy="292.9" r="2.9" fill="#da5c62"/>
<circle cx="1160.7" cy="400.1" r="2.9" fill="#848484"/>
<circle cx="1179.0" cy="400.1" r="2.9" fill="#848484"/>
<circle cx="1010.0" cy="316.2" r="2.9" fill="#322d88"/>
<circle cx="1018.0" cy="323.3" r="2.9" fill="#3a2e8b"/>
<circle cx="1190.5" cy="259.5" r="2.9" fill="#f4b627"/>
<circle cx="1084.7" cy="330.1" r="2.9" fill="#742b96"/>
<circle cx="1193.0" cy="425.7" r="2.9" fill="#848484"/>
<circle cx="1107.7" cy="369.1" r="2.9" fill="#848484"/>
<circle cx="1163.7" cy="262.9" r="2.9" fill="#ef933b"/>
<circle cx="1064.5" cy="347.7" r="2.9" fill="#848484"/>
<circle cx="1083.9" cy="326.4" r="2.9" fill="#7d2a96"/>
<circle cx="1095.5" cy="322.8" r="2.9" fill="#9a2892"/>
<circle cx="1120.0" cy="310.4" r="2.9" fill="#c94077"/>
<circle cx="1157.4" cy="393.0" r="2.9" fill="#848484"/>
<circle cx="1205.2" cy="249.5" r="2.9" fill="#f2d425"/>
<circle cx="1202.7" cy="418.4" r="2.9" fill="#848484"/>
<circle cx="1202.2" cy="271.9" r="2.9" fill="#f4bd27"/>
<circle cx="1221.8" cy="276.0" r="2.9" fill="#f2d525"/>
<circle cx="1205.2" cy="258.1" r="2.9" fill="#f2cc25"/>
<circle cx="1182.6" cy="278.0" r="2.9" fill="#f2a132"/>
<circle cx="1022.7" cy="316.5" r="2.9" fill="#2f2d87"/>
<circle cx="1115.0" cy="310.8" r="2.9" fill="#c3397d"/>
<circle cx="1184.4" cy="418.6" r="2.9" fill="#848484"/>
<circle cx="1190.1" cy="287.7" r="2.9" fill="#f2a231"/>
<circle cx="1200.9" cy="416.7" r="2.9" fill="#848484"/>
<circle cx="1111.1" cy="364.0" r="2.9" fill="#848484"/>
<circle cx="998.1" cy="310.7" r="2.9" fill="#332e88"/>
<circle cx="1196.9" cy="259.2" r="2.9" fill="#f3c126"/>
<circle cx="1141.0" cy="379.2" r="2.9" fill="#848484"/>
<circle cx="1161.6" cy="275.6" r="2.9" fill="#ed8943"/>
<circle cx="1133.6" cy="306.6" r="2.9" fill="#d75468"/>
<circle cx="1079.8" cy="320.2" r="2.9" fill="#842996"/>
<circle cx="1062.4" cy="311.0" r="2.9" fill="#7d2a96"/>
<circle cx="1084.7" cy="320.9" r="2.9" fill="#762b96"/>
<circle cx="1215.3" cy="424.4" r="2.9" fill="#848484"/>
<circle cx="1132.1" cy="387.4" r="2.9" fill="#848484"/>
<circle cx="1169.3" cy="406.5" r="2.9" fill="#848484"/>
<circle cx="1101.4" cy="352.9" r="2.9" fill="#848484"/>
<circle cx="1026.9" cy="311.8" r="2.9" fill="#3d2e8c"/>
<circle cx="1157.4" cy="400.8" r="2.9" fill="#848484"/>
<circle cx="1183.7" cy="413.5" r="2.9" fill="#848484"/>
<circle cx="1205.2" cy="424.2" r="2.9" fill="#848484"/>
<circle cx="1124.7" cy="377.2" r="2.9" fill="#848484"/>
<circle cx="1017.3" cy="327.2" r="2.9" fill="#342e89"/>
<circle cx="1156.8" cy="388.0" r="2.9" fill="#848484"/>
<circle cx="1127.5" cy="372.2" r="2.9" fill="#848484"/>
<circle cx="1056.0" cy="320.2" r="2.9" fill="#652e96"/>
<circle cx="1064.1" cy="324.6" r="2.9" fill="#742b96"/>
<circle cx="1136.2" cy="380.3" r="2.9" fill="#848484"/>
<circle cx="1213.5" cy="254.9" r="2.9" fill="#f1db24"/>
<circle cx="1177.2" cy="412.9" r="2.9" fill="#848484"/>
<circle cx="1208.2" cy="260.2" r="2.9" fill="#f2d025"/>
<circle cx="1177.3" cy="280.0" r="2.9" fill="#f19937"/>
<circle cx="1108.6" cy="362.6" r="2.9" fill="#848484"/>
<circle cx="1126.7" cy="354.9" r="2.9" fill="#848484"/>
<circle cx="1002.0" cy="316.5" r="2.9" fill="#3c2e8c"/>
<circle cx="1182.2" cy="295.4" r="2.9" fill="#f0953a"/>
<circle cx="1224.9" cy="256.2" r="2.9" fill="#f0e823"/>
<circle cx="1130.7" cy="301.9" r="2.9" fill="#d75468"/>
<circle cx="1169.0" cy="258.5" r="2.9" fill="#f19c35"/>
<circle cx="1130.3" cy="378.9" r="2.9" fill="#848484"/>
<circle cx="1064.9" cy="322.8" r="2.9" fill="#752b96"/>
<circle cx="1115.5" cy="359.2" r="2.9" fill="#848484"/>
<circle cx="1220.3" cy="255.9" r="2.9" fill="#f0e223"/>
<circle cx="1099.2" cy="336.7" r="2.9" fill="#882996"/>
<circle cx="1207.2" cy="254.1" r="2.9" fill="#f2d225"/>
<circle cx="1058.7" cy="340.8" r="2.9" fill="#692d96"/>
<circle cx="1164.2" cy="402.0" r="2.9" fill="#848484"/>
<circle cx="1139.5" cy="325.6" r="2.9" fill="#d44f6b"/>
<circle cx="1194.2" cy="424.2" r="2.9" fill="#848484"/>
<circle cx="1016.1" cy="318.4" r="2.9" fill="#3e2e8d"/>
<circle cx="1203.0" cy="263.2" r="2.9" fill="#f3c526"/>
<circle cx="1197.2" cy="418.0" r="2.9" fill="#848484"/>
<circle cx="1153.9" cy="389.4" r="2.9" fill="#848484"/>
<circle cx="1180.3" cy="280.0" r="2.9" fill="#f19c35"/>
<circle cx="1196.6" cy="425.0" r="2.9" fill="#848484"/>
<circle cx="1155.2" cy="392.9" r="2.9" fill="#848484"/>
<circle cx="1207.4" cy="425.0" r="2.9" fill="#848484"/>
<circle cx="1205.2" cy="421.8" r="2.9" fill="#848484"/>
<circle cx="1029.3" cy="315.4" r="2.9" fill="#3d2e8c"/>
<circle cx="1069.8" cy="347.7" r="2.9" fill="#848484"/>
<circle cx="1189.1" cy="421.1" r="2.9" fill="#848484"/>
<circle cx="1172.5" cy="397.3" r="2.9" fill="#848484"/>
<circle cx="1208.2" cy="268.3" r="2.9" fill="#f3c826"/>
<circle cx="1226.0" cy="261.6" r="2.9" fill="#f0e623"/>
<circle cx="1185.8" cy="400.4" r="2.9" fill="#848484"/>
<circle cx="997.5" cy="316.2" r="2.9" fill="#372e8a"/>
<circle cx="1159.1" cy="383.1" r="2.9" fill="#848484"/>
<circle cx="1019.4" cy="319.5" r="2.9" fill="#372e8a"/>
<circle cx="1077.3" cy="316.9" r="2.9" fill="#812a96"/>
<circle cx="1193.5" cy="257.9" r="2.9" fill="#f4bb27"/>
<circle cx="1019.0" cy="317.1" r="2.9" fill="#342e89"/>
<circle cx="1013.0" cy="325.5" r="2.9" fill="#322e88"/>
<circle cx="1220.3" cy="257.5" r="2.9" fill="#f0e223"/>
<circle cx="1184.5" cy="268.9" r="2.9" fill="#f4a82d"/>
<circle cx="1148.6" cy="296.7" r="2.9" fill="#e26c57"/>
<circle cx="1196.2" cy="263.6" r="2.9" fill="#f4bb27"/>
<circle cx="1177.5" cy="279.5" r="2.9" fill="#f19937"/>
<circle cx="1027.3" cy="326.4" r="2.9" fill="#402e8d"/>
<circle cx="1067.8" cy="331.2" r="2.9" fill="#7a2b96"/>
<circle cx="1199.2" cy="252.7" r="2.9" fill="#f3c826"/>
<circle cx="1045.5" cy="334.9" r="2.9" fill="#6c2d96"/>
<circle cx="1199.9" cy="254.5" r="2.9" fill="#f3c826"/>
<circle cx="1161.7" cy="384.2" r="2.9" fill="#848484"/>
<circle cx="1204.2" cy="251.4" r="2.9" fill="#f2d025"/>
<circle cx="1160.5" cy="306.4" r="2.9" fill="#e67452"/>
<circle cx="1208.8" cy="259.9" r="2.9" fill="#f2d025"/>
<circle cx="1073.6" cy="322.8" r="2.9" fill="#7f2a96"/>
<circle cx="1182.6" cy="279.1" r="2.9" fill="#f29f33"/>
<circle cx="1122.8" cy="377.3" r="2.9" fill="#848484"/>
<circle cx="1205.9" cy="427.6" r="2.9" fill="#848484"/>
<circle cx="1132.0" cy="301.9" r="2.9" fill="#d75567"/>
<circle cx="1157.8" cy="291.7" r="2.9" fill="#e9794e"/>
<circle cx="1144.9" cy="388.0" r="2.9" fill="#848484"/>
<circle cx="1178.6" cy="410.0" r="2.9" fill="#848484"/>
<circle cx="1213.9" cy="261.2" r="2.9" fill="#f2d525"/>
<circle cx="1009.0" cy="319.7" r="2.9" fill="#312d87"/>
<circle cx="1238.4" cy="260.2" r="2.9" fill="#f0e823"/>
<circle cx="1213.3" cy="253.6" r="2.9" fill="#f1db24"/>
<circle cx="1207.7" cy="422.5" r="2.9" fill="#848484"/>
<circle cx="1185.1" cy="280.9" r="2.9" fill="#f2a132"/>
<circle cx="1148.4" cy="400.1" r="2.9" fill="#848484"/>
<circle cx="1110.5" cy="363.4" r="2.9" fill="#848484"/>
<circle cx="1151.2" cy="396.4" r="2.9" fill="#848484"/>
<circle cx="1004.5" cy="312.9" r="2.9" fill="#3d2e8c"/>
<circle cx="1114.5" cy="363.4" r="2.9" fill="#848484"/>
<circle cx="1132.8" cy="299.9" r="2.9" fill="#d95865"/>
<circle cx="1201.6" cy="407.5" r="2.9" fill="#848484"/>
<circle cx="1094.3" cy="355.7" r="2.9" fill="#848484"/>
<circle cx="1190.1" cy="423.4" r="2.9" fill="#848484"/>
<circle cx="1200.2" cy="425.1" r="2.9" fill="#848484"/>
<circle cx="1198.2" cy="420.2" r="2.9" fill="#848484"/>
<circle cx="1145.3" cy="379.6" r="2.9" fill="#848484"/>
<circle cx="1183.3" cy="273.3" r="2.9" fill="#f3a430"/>
<circle cx="1092.6" cy="348.5" r="2.9" fill="#848484"/>
<circle cx="1189.8" cy="412.9" r="2.9" fill="#848484"/>
<circle cx="1193.4" cy="416.7" r="2.9" fill="#848484"/>
<circle cx="1149.8" cy="302.7" r="2.9" fill="#e16959"/>
<circle cx="1146.8" cy="327.3" r="2.9" fill="#d85766"/>
<circle cx="1186.1" cy="419.3" r="2.9" fill="#848484"/>
<circle cx="1211.3" cy="255.9" r="2.9" fill="#f1d724"/>
<circle cx="1186.0" cy="281.0" r="2.9" fill="#f2a231"/>
<circle cx="1090.7" cy="364.1" r="2.9" fill="#848484"/>
<circle cx="1148.1" cy="385.3" r="2.9" fill="#848484"/>
<circle cx="1001.2" cy="323.1" r="2.9" fill="#3d2e8c"/>
<circle cx="1209.0" cy="263.2" r="2.9" fill="#f2ce25"/>
<circle cx="1218.1" cy="255.9" r="2.9" fill="#f1e124"/>
<circle cx="1210.3" cy="426.3" r="2.9" fill="#848484"/>
<circle cx="1013.6" cy="315.1" r="2.9" fill="#352e89"/>
<circle cx="1050.4" cy="326.1" r="2.9" fill="#782b96"/>
<circle cx="1088.0" cy="344.1" r="2.9" fill="#848484"/>
<circle cx="1088.0" cy="352.2" r="2.9" fill="#848484"/>
<circle cx="1204.5" cy="252.5" r="2.9" fill="#f2d025"/>
<circle cx="1172.9" cy="424.1" r="2.9" fill="#848484"/>
<circle cx="1076.0" cy="326.8" r="2.9" fill="#752b96"/>
<circle cx="1000.4" cy="325.7" r="2.9" fill="#402e8d"/>
<circle cx="1210.3" cy="255.4" r="2.9" fill="#f2d525"/>
<circle cx="1130.0" cy="336.9" r="2.9" fill="#c43b7c"/>
<circle cx="1033.9" cy="316.5" r="2.9" fill="#3f2e8d"/>
<circle cx="1021.9" cy="330.9" r="2.9" fill="#382e8a"/>
<circle cx="1000.0" cy="311.8" r="2.9" fill="#302d87"/>
<circle cx="1218.4" cy="250.8" r="2.9" fill="#f0e423"/>
<circle cx="1105.6" cy="363.5" r="2.9" fill="#848484"/>
<circle cx="1103.7" cy="312.5" r="2.9" fill="#b3288c"/>
<circle cx="1192.1" cy="419.8" r="2.9" fill="#848484"/>
<circle cx="1200.2" cy="420.5" r="2.9" fill="#848484"/>
<circle cx="1137.5" cy="303.4" r="2.9" fill="#da5b63"/>
<circle cx="1237.3" cy="258.2" r="2.9" fill="#f0e823"/>
<circle cx="1124.5" cy="322.7" r="2.9" fill="#c63d7a"/>
<circle cx="1150.4" cy="378.9" r="2.9" fill="#848484"/>
<circle cx="1200.7" cy="259.2" r="2.9" fill="#f3c526"/>
<circle cx="1155.2" cy="390.8" r="2.9" fill="#848484"/>
<circle cx="1093.5" cy="353.6" r="2.9" fill="#848484"/>
<circle cx="1216.3" cy="254.5" r="2.9" fill="#f1df24"/>
<circle cx="1007.8" cy="317.3" r="2.9" fill="#3f2e8d"/>
<circle cx="1029.7" cy="320.6" r="2.9" fill="#332e88"/>
<circle cx="1183.0" cy="264.9" r="2.9" fill="#f4a82d"/>
<circle cx="1177.7" cy="273.3" r="2.9" fill="#f29e34"/>
<circle cx="1202.2" cy="253.5" r="2.9" fill="#f2cc25"/>
<circle cx="997.9" cy="320.2" r="2.9" fill="#322d88"/>
<circle cx="1047.9" cy="323.9" r="2.9" fill="#682d96"/>
<circle cx="1178.1" cy="259.5" r="2.9" fill="#f3a72e"/>
<circle cx="1008.3" cy="326.1" r="2.9" fill="#302d87"/>
<circle cx="1220.7" cy="265.2" r="2.9" fill="#f1dd24"/>
<circle cx="1033.9" cy="329.0" r="2.9" fill="#3c2e8c"/>
<circle cx="1165.3" cy="399.5" r="2.9" fill="#848484"/>
<circle cx="1106.2" cy="363.4" r="2.9" fill="#848484"/>
<circle cx="1166.4" cy="286.0" r="2.9" fill="#ed8744"/>
<circle cx="1014.5" cy="325.3" r="2.9" fill="#322d88"/>
<circle cx="1026.4" cy="319.5" r="2.9" fill="#322e88"/>
<circle cx="1198.8" cy="252.8" r="2.9" fill="#f3c826"/>
<circle cx="1155.9" cy="391.2" r="2.9" fill="#848484"/>
<circle cx="1188.0" cy="421.2" r="2.9" fill="#848484"/>
<circle cx="1103.0" cy="362.4" r="2.9" fill="#848484"/>
<circle cx="1074.0" cy="337.1" r="2.9" fill="#7d2a96"/>
<circle cx="1116.0" cy="351.9" r="2.9" fill="#848484"/>
<circle cx="1145.5" cy="374.7" r="2.9" fill="#848484"/>
<circle cx="1036.4" cy="319.1" r="2.9" fill="#602e96"/>
<circle cx="1152.2" cy="312.4" r="2.9" fill="#e0665b"/>
<circle cx="1197.3" cy="422.5" r="2.9" fill="#848484"/>
<circle cx="1130.0" cy="302.0" r="2.9" fill="#d65369"/>
<circle cx="1231.7" cy="253.9" r="2.9" fill="#f0e823"/>
<circle cx="1200.2" cy="428.2" r="2.9" fill="#848484"/>
<circle cx="1059.5" cy="337.8" r="2.9" fill="#7c2a96"/>
<circle cx="1136.6" cy="378.2" r="2.9" fill="#848484"/>
<circle cx="1116.4" cy="368.7" r="2.9" fill="#848484"/>
<circle cx="1084.8" cy="357.8" r="2.9" fill="#848484"/>
<circle cx="1191.6" cy="251.5" r="2.9" fill="#f4bf27"/>
<circle cx="1189.4" cy="425.7" r="2.9" fill="#848484"/>
<circle cx="1215.3" cy="258.1" r="2.9" fill="#f1db24"/>
<circle cx="1133.8" cy="372.6" r="2.9" fill="#848484"/>
<circle cx="1239.2" cy="264.6" r="2.9" fill="#f0e823"/>
<circle cx="1091.3" cy="311.8" r="2.9" fill="#9d2892"/>
<circle cx="1183.3" cy="429.8" r="2.9" fill="#848484"/>
<circle cx="1180.3" cy="256.5" r="2.9" fill="#f4ab2b"/>
<circle cx="1124.5" cy="310.8" r="2.9" fill="#cd4673"/>
<circle cx="1136.2" cy="297.1" r="2.9" fill="#db5d61"/>
<circle cx="1217.7" cy="263.9" r="2.9" fill="#f1d924"/>
<circle cx="1107.7" cy="317.2" r="2.9" fill="#b62a8a"/>
<circle cx="1132.3" cy="301.0" r="2.9" fill="#d85766"/>
<circle cx="1190.8" cy="410.3" r="2.9" fill="#848484"/>
<circle cx="1145.6" cy="294.7" r="2.9" fill="#e26a58"/>
<circle cx="1172.8" cy="267.9" r="2.9" fill="#f19b36"/>
<circle cx="1217.8" cy="251.8" r="2.9" fill="#f0e223"/>
<circle cx="1201.2" cy="251.8" r="2.9" fill="#f2cc25"/>
<circle cx="1103.4" cy="356.8" r="2.9" fill="#848484"/>
<circle cx="1202.2" cy="255.4" r="2.9" fill="#f3ca26"/>
<circle cx="1186.4" cy="273.6" r="2.9" fill="#f3a72e"/>
<circle cx="1120.0" cy="367.3" r="2.9" fill="#848484"/>
<circle cx="1021.0" cy="320.6" r="2.9" fill="#2f2d87"/>
<circle cx="1083.1" cy="337.8" r="2.9" fill="#7d2a96"/>
<circle cx="1172.4" cy="295.1" r="2.9" fill="#ed8943"/>
<circle cx="1003.7" cy="319.5" r="2.9" fill="#2f2d87"/>
<circle cx="1014.0" cy="312.5" r="2.9" fill="#402e8d"/>
<circle cx="1030.2" cy="323.9" r="2.9" fill="#332e88"/>
<circle cx="1203.7" cy="266.6" r="2.9" fill="#f3c526"/>
<circle cx="1203.1" cy="416.1" r="2.9" fill="#848484"/>
<circle cx="1098.8" cy="340.8" r="2.9" fill="#848484"/>
<circle cx="1209.5" cy="417.0" r="2.9" fill="#848484"/>
<circle cx="1163.5" cy="394.4" r="2.9" fill="#848484"/>
<circle cx="1192.3" cy="421.8" r="2.9" fill="#848484"/>
<circle cx="1146.6" cy="404.3" r="2.9" fill="#848484"/>
<circle cx="1006.9" cy="324.2" r="2.9" fill="#362e89"/>
<circle cx="1124.5" cy="299.9" r="2.9" fill="#d34e6c"/>
<circle cx="1016.9" cy="323.9" r="2.9" fill="#352e89"/>
<circle cx="1074.1" cy="353.5" r="2.9" fill="#848484"/>
<circle cx="1030.2" cy="330.9" r="2.9" fill="#3b2e8c"/>
<circle cx="1223.3" cy="253.9" r="2.9" fill="#f0e823"/>
<circle cx="1020.2" cy="321.7" r="2.9" fill="#402e8d"/>
<circle cx="995.6" cy="324.8" r="2.9" fill="#3c2e8c"/>
<circle cx="1154.2" cy="404.0" r="2.9" fill="#848484"/>
<circle cx="1212.3" cy="259.0" r="2.9" fill="#f2d525"/>
<circle cx="1180.1" cy="280.4" r="2.9" fill="#f19c35"/>
<circle cx="1194.7" cy="275.6" r="2.9" fill="#f5b028"/>
<circle cx="1210.5" cy="252.5" r="2.9" fill="#f1d724"/>
<circle cx="1167.8" cy="396.3" r="2.9" fill="#848484"/>
<circle cx="1204.2" cy="421.1" r="2.9" fill="#848484"/>
<circle cx="1015.0" cy="318.8" r="2.9" fill="#352e89"/>
<circle cx="1190.9" cy="265.2" r="2.9" fill="#f5b228"/>
<circle cx="1198.1" cy="279.3" r="2.9" fill="#f5b228"/>
<circle cx="1207.5" cy="258.2" r="2.9" fill="#f2d025"/>
<circle cx="1195.2" cy="421.6" r="2.9" fill="#848484"/>
<circle cx="1000.4" cy="320.9" r="2.9" fill="#372e8a"/>
<circle cx="1010.3" cy="322.4" r="2.9" fill="#3e2e8d"/>
<circle cx="1201.2" cy="422.5" r="2.9" fill="#848484"/>
<circle cx="1148.1" cy="389.4" r="2.9" fill="#848484"/>
<circle cx="1078.5" cy="349.2" r="2.9" fill="#848484"/>
<circle cx="1012.0" cy="322.0" r="2.9" fill="#402e8d"/>
<circle cx="1202.2" cy="274.6" r="2.9" fill="#f4bb27"/>
<circle cx="1011.6" cy="320.8" r="2.9" fill="#3b2e8c"/>
<circle cx="1049.2" cy="330.1" r="2.9" fill="#642e96"/>
<circle cx="1014.2" cy="320.2" r="2.9" fill="#3b2e8b"/>
<circle cx="1050.0" cy="326.7" r="2.9" fill="#702c96"/>
</g>
<text x="940.5" y="18.5" font-size="25" text-anchor="middle" fill="#000" >Pfs25</text>
<text x="940.0" y="44.1" font-size="25" text-anchor="middle" fill="#000" >(log counts)</text>
<linearGradient id="g1" x1="0" y1="1" x2="0" y2="0">
<stop offset="0.00" stop-color="#000004"/>
<stop offset="0.10" stop-color="#160b39"/>
<stop offset="0.20" stop-color="#420a68"/>
<stop offset="0.30" stop-color="#6a176e"/>
<stop offset="0.40" stop-color="#932667"/>
<stop offset="0.50" stop-color="#bc3754"/>
<stop offset="0.60" stop-color="#dd513a"/>
<stop offset="0.70" stop-color="#f37819"/>
<stop offset="0.80" stop-color="#fca50a"/>
<stop offset="0.90" stop-color="#f6d746"/>
<stop offset="1.00" stop-color="#fcffa4"/>
</linearGradient>
<rect x="926.2" y="66.5" width="25.6" height="126.19999999999999" fill="url(#g1)"/>
<rect x="931.5" y="192.5" width="15.0" height="2.2" fill="#000004"/>
<line x1="926.2" y1="70.3" x2="931.2" y2="70.3" stroke="#fff" stroke-width="1.5"/>
<line x1="946.8000000000001" y1="70.3" x2="951.8000000000001" y2="70.3" stroke="#fff" stroke-width="1.5"/>
<line x1="926.2" y1="111.6" x2="931.2" y2="111.6" stroke="#fff" stroke-width="1.5"/>
<line x1="946.8000000000001" y1="111.6" x2="951.8000000000001" y2="111.6" stroke="#fff" stroke-width="1.5"/>
<line x1="926.2" y1="153" x2="931.2" y2="153" stroke="#fff" stroke-width="1.5"/>
<line x1="946.8000000000001" y1="153" x2="951.8000000000001" y2="153" stroke="#fff" stroke-width="1.5"/>
<text x="959.5" y="76.1" font-size="25" text-anchor="start" fill="#000" >15</text>
<text x="959.5" y="117.4" font-size="25" text-anchor="start" fill="#000" >10</text>
<text x="959.5" y="158.8" font-size="25" text-anchor="start" fill="#000" >5</text>
<text x="959.5" y="198.5" font-size="25" text-anchor="start" fill="#000" >0</text>
<text x="1324.5" y="18.9" font-size="25" text-anchor="middle" fill="#000" >DHC</text>
<text x="1324.5" y="44.1" font-size="25" text-anchor="middle" fill="#000" >(log counts)</text>
<linearGradient id="g2" x1="0" y1="1" x2="0" y2="0">
<stop offset="0.00" stop-color="#000004"/>
<stop offset="0.10" stop-color="#160b39"/>
<stop offset="0.20" stop-color="#420a68"/>
<stop offset="0.30" stop-color="#6a176e"/>
<stop offset="0.40" stop-color="#932667"/>
<stop offset="0.50" stop-color="#bc3754"/>
<stop offset="0.60" stop-color="#dd513a"/>
<stop offset="0.70" stop-color="#f37819"/>
<stop offset="0.80" stop-color="#fca50a"/>
<stop offset="0.90" stop-color="#f6d746"/>
<stop offset="1.00" stop-color="#fcffa4"/>
</linearGradient>
<rect x="1320.4" y="62" width="25.7" height="126.19999999999999" fill="url(#g2)"/>
<rect x="1325.7" y="188.0" width="15.1" height="2.2" fill="#000004"/>
<line x1="1320.4" y1="96" x2="1325.4" y2="96" stroke="#fff" stroke-width="1.5"/>
<line x1="1341.1000000000001" y1="96" x2="1346.1000000000001" y2="96" stroke="#fff" stroke-width="1.5"/>
<line x1="1320.4" y1="142.9" x2="1325.4" y2="142.9" stroke="#fff" stroke-width="1.5"/>
<line x1="1341.1000000000001" y1="142.9" x2="1346.1000000000001" y2="142.9" stroke="#fff" stroke-width="1.5"/>
<text x="1354.0" y="101.8" font-size="25" text-anchor="start" fill="#000" >10</text>
<text x="1354.0" y="148.7" font-size="25" text-anchor="start" fill="#000" >5</text>
<text x="1354.0" y="194.0" font-size="25" text-anchor="start" fill="#000" >0</text>
<text x="949.0" y="242.4" font-size="25" text-anchor="middle" fill="#000" >Pseudotime</text>
<text x="949.0" y="267.9" font-size="25" text-anchor="middle" fill="#000" >female lineage</text>
<linearGradient id="g3" x1="0" y1="1" x2="0" y2="0">
<stop offset="0.00" stop-color="#2b2d85"/>
<stop offset="0.10" stop-color="#402e8d"/>
<stop offset="0.20" stop-color="#553096"/>
<stop offset="0.30" stop-color="#702c96"/>
<stop offset="0.40" stop-color="#8c2896"/>
<stop offset="0.50" stop-color="#b5298b"/>
<stop offset="0.60" stop-color="#d24b6e"/>
<stop offset="0.70" stop-color="#e36d56"/>
<stop offset="0.80" stop-color="#ef903e"/>
<stop offset="0.90" stop-color="#f4b927"/>
<stop offset="1.00" stop-color="#f0e823"/>
</linearGradient>
<rect x="925.7" y="288.1" width="25.4" height="125.59999999999997" fill="url(#g3)"/>
<rect x="931.0" y="413.5" width="14.8" height="2.2" fill="#2b2d85"/>
<line x1="925.7" y1="295.1" x2="930.7" y2="295.1" stroke="#fff" stroke-width="1.5"/>
<line x1="946.1" y1="295.1" x2="951.1" y2="295.1" stroke="#fff" stroke-width="1.5"/>
<line x1="925.7" y1="318.9" x2="930.7" y2="318.9" stroke="#fff" stroke-width="1.5"/>
<line x1="946.1" y1="318.9" x2="951.1" y2="318.9" stroke="#fff" stroke-width="1.5"/>
<line x1="925.7" y1="343" x2="930.7" y2="343" stroke="#fff" stroke-width="1.5"/>
<line x1="946.1" y1="343" x2="951.1" y2="343" stroke="#fff" stroke-width="1.5"/>
<line x1="925.7" y1="367.1" x2="930.7" y2="367.1" stroke="#fff" stroke-width="1.5"/>
<line x1="946.1" y1="367.1" x2="951.1" y2="367.1" stroke="#fff" stroke-width="1.5"/>
<line x1="925.7" y1="390.9" x2="930.7" y2="390.9" stroke="#fff" stroke-width="1.5"/>
<line x1="946.1" y1="390.9" x2="951.1" y2="390.9" stroke="#fff" stroke-width="1.5"/>
<text x="958.5" y="300.9" font-size="25" text-anchor="start" fill="#000" >25</text>
<text x="958.5" y="324.7" font-size="25" text-anchor="start" fill="#000" >20</text>
<text x="958.5" y="348.8" font-size="25" text-anchor="start" fill="#000" >15</text>
<text x="958.5" y="372.9" font-size="25" text-anchor="start" fill="#000" >10</text>
<text x="958.5" y="396.7" font-size="25" text-anchor="start" fill="#000" >5</text>
<text x="958.5" y="419.5" font-size="25" text-anchor="start" fill="#000" >0</text>
<text x="1330.0" y="242.4" font-size="25" text-anchor="middle" fill="#000" >Pseudotime</text>
<text x="1330.0" y="267.9" font-size="25" text-anchor="middle" fill="#000" >male lineage</text>
<linearGradient id="g4" x1="0" y1="1" x2="0" y2="0">
<stop offset="0.00" stop-color="#2b2d85"/>
<stop offset="0.10" stop-color="#402e8d"/>
<stop offset="0.20" stop-color="#553096"/>
<stop offset="0.30" stop-color="#702c96"/>
<stop offset="0.40" stop-color="#8c2896"/>
<stop offset="0.50" stop-color="#b5298b"/>
<stop offset="0.60" stop-color="#d24b6e"/>
<stop offset="0.70" stop-color="#e36d56"/>
<stop offset="0.80" stop-color="#ef903e"/>
<stop offset="0.90" stop-color="#f4b927"/>
<stop offset="1.00" stop-color="#f0e823"/>
</linearGradient>
<rect x="1319.4" y="293.1" width="25.6" height="126.39999999999998" fill="url(#g4)"/>
<rect x="1324.7" y="419.3" width="15.0" height="2.2" fill="#2b2d85"/>
<line x1="1319.4" y1="319.4" x2="1324.4" y2="319.4" stroke="#fff" stroke-width="1.5"/>
<line x1="1340.0" y1="319.4" x2="1345.0" y2="319.4" stroke="#fff" stroke-width="1.5"/>
<line x1="1319.4" y1="344.3" x2="1324.4" y2="344.3" stroke="#fff" stroke-width="1.5"/>
<line x1="1340.0" y1="344.3" x2="1345.0" y2="344.3" stroke="#fff" stroke-width="1.5"/>
<line x1="1319.4" y1="369.6" x2="1324.4" y2="369.6" stroke="#fff" stroke-width="1.5"/>
<line x1="1340.0" y1="369.6" x2="1345.0" y2="369.6" stroke="#fff" stroke-width="1.5"/>
<line x1="1319.4" y1="394.9" x2="1324.4" y2="394.9" stroke="#fff" stroke-width="1.5"/>
<line x1="1340.0" y1="394.9" x2="1345.0" y2="394.9" stroke="#fff" stroke-width="1.5"/>
<text x="1352.0" y="299.2" font-size="25" text-anchor="start" fill="#000" >25</text>
<text x="1352.0" y="324.6" font-size="25" text-anchor="start" fill="#000" >20</text>
<text x="1352.0" y="349.5" font-size="25" text-anchor="start" fill="#000" >15</text>
<text x="1352.0" y="374.8" font-size="25" text-anchor="start" fill="#000" >10</text>
<text x="1352.0" y="400.1" font-size="25" text-anchor="start" fill="#000" >5</text>
<text x="1352.0" y="424.7" font-size="25" text-anchor="start" fill="#000" >0</text>
<text transform="translate(1.4,514.2) scale(1.05,1)" font-size="34" font-weight="bold" stroke="#000" stroke-width="1.1" stroke-linejoin="round">b</text>
<text x="235.5" y="515.2" font-size="25.7" text-anchor="middle"><tspan font-style="italic">md1</tspan>-lncRNA expression</text>
<text x="674.4" y="514.9" font-size="25.6" text-anchor="middle"><tspan font-style="italic">md1</tspan>-mRNA expression</text>
<text x="1110.4" y="514.9" font-size="25.6" text-anchor="middle" fill="#000" >Md1 protein expression</text>
<g fill-opacity="0.6">
<circle cx="81.4" cy="622.6" r="3.6" fill="#000004"/>
<circle cx="114.0" cy="629.1" r="3.6" fill="#000004"/>
<circle cx="257.6" cy="590.1" r="3.6" fill="#000004"/>
<circle cx="136.6" cy="648.9" r="3.6" fill="#fc8a62"/>
<circle cx="161.8" cy="649.7" r="3.6" fill="#000004"/>
<circle cx="253.8" cy="570.1" r="3.6" fill="#000004"/>
<circle cx="232.4" cy="687.5" r="3.6" fill="#fde2a3"/>
<circle cx="202.8" cy="688.8" r="3.6" fill="#f7705c"/>
<circle cx="68.8" cy="631.7" r="3.6" fill="#000004"/>
<circle cx="191.2" cy="667.8" r="3.6" fill="#000004"/>
<circle cx="309.0" cy="540.2" r="3.6" fill="#000004"/>
<circle cx="146.6" cy="622.6" r="3.6" fill="#000004"/>
<circle cx="210.3" cy="693.7" r="3.6" fill="#b5367a"/>
<circle cx="283.6" cy="736.4" r="3.6" fill="#e75263"/>
<circle cx="55.0" cy="626.6" r="3.6" fill="#000004"/>
<circle cx="203.5" cy="586.7" r="3.6" fill="#000004"/>
<circle cx="238.9" cy="712.4" r="3.6" fill="#f4695c"/>
<circle cx="262.2" cy="712.4" r="3.6" fill="#fd9266"/>
<circle cx="47.3" cy="614.0" r="3.6" fill="#000004"/>
<circle cx="57.6" cy="622.4" r="3.6" fill="#000004"/>
<circle cx="276.8" cy="547.7" r="3.6" fill="#000004"/>
<circle cx="142.4" cy="630.4" r="3.6" fill="#000004"/>
<circle cx="280.0" cy="742.3" r="3.6" fill="#fec185"/>
<circle cx="171.6" cy="676.0" r="3.6" fill="#fd9869"/>
<circle cx="242.8" cy="551.6" r="3.6" fill="#000004"/>
<circle cx="116.6" cy="651.0" r="3.6" fill="#000004"/>
<circle cx="141.3" cy="626.1" r="3.6" fill="#000004"/>
<circle cx="156.0" cy="621.8" r="3.6" fill="#000004"/>
<circle cx="187.2" cy="607.3" r="3.6" fill="#000004"/>
<circle cx="234.8" cy="704.1" r="3.6" fill="#fed89a"/>
<circle cx="295.5" cy="535.9" r="3.6" fill="#000004"/>
<circle cx="292.3" cy="733.9" r="3.6" fill="#a8327d"/>
<circle cx="291.7" cy="562.2" r="3.6" fill="#000004"/>
<circle cx="316.6" cy="566.9" r="3.6" fill="#000004"/>
<circle cx="295.5" cy="546.0" r="3.6" fill="#000004"/>
<circle cx="266.7" cy="569.3" r="3.6" fill="#000004"/>
<circle cx="63.6" cy="614.5" r="3.6" fill="#000004"/>
<circle cx="180.8" cy="607.7" r="3.6" fill="#000004"/>
<circle cx="269.0" cy="734.1" r="3.6" fill="#feca8d"/>
<circle cx="276.3" cy="580.7" r="3.6" fill="#000004"/>
<circle cx="290.0" cy="731.9" r="3.6" fill="#eb5760"/>
<circle cx="175.9" cy="670.0" r="3.6" fill="#000004"/>
<circle cx="32.3" cy="607.6" r="3.6" fill="#000004"/>
<circle cx="285.0" cy="547.3" r="3.6" fill="#000004"/>
<circle cx="213.8" cy="687.9" r="3.6" fill="#000004"/>
<circle cx="240.1" cy="566.5" r="3.6" fill="#000004"/>
<circle cx="204.5" cy="602.8" r="3.6" fill="#000004"/>
<circle cx="136.1" cy="618.8" r="3.6" fill="#000004"/>
<circle cx="114.0" cy="608.0" r="3.6" fill="#000004"/>
<circle cx="142.4" cy="619.6" r="3.6" fill="#000004"/>
<circle cx="308.3" cy="740.8" r="3.6" fill="#f2625d"/>
<circle cx="202.6" cy="697.6" r="3.6" fill="#ed5a5f"/>
<circle cx="249.8" cy="719.9" r="3.6" fill="#000004"/>
<circle cx="163.6" cy="657.1" r="3.6" fill="#000004"/>
<circle cx="68.8" cy="608.9" r="3.6" fill="#000004"/>
<circle cx="234.8" cy="713.2" r="3.6" fill="#fe9d6c"/>
<circle cx="268.1" cy="728.1" r="3.6" fill="#eb5760"/>
<circle cx="295.5" cy="740.7" r="3.6" fill="#fd9266"/>
<circle cx="193.2" cy="685.5" r="3.6" fill="#c73d73"/>
<circle cx="56.7" cy="626.9" r="3.6" fill="#000004"/>
<circle cx="233.9" cy="698.2" r="3.6" fill="#fdda9c"/>
<circle cx="196.7" cy="679.7" r="3.6" fill="#000004"/>
<circle cx="105.8" cy="618.8" r="3.6" fill="#000004"/>
<circle cx="116.1" cy="623.9" r="3.6" fill="#000004"/>
<circle cx="207.8" cy="689.2" r="3.6" fill="#000004"/>
<circle cx="306.1" cy="542.2" r="3.6" fill="#000004"/>
<circle cx="259.9" cy="727.4" r="3.6" fill="#f7705c"/>
<circle cx="299.4" cy="548.5" r="3.6" fill="#000004"/>
<circle cx="260.0" cy="571.6" r="3.6" fill="#000004"/>
<circle cx="172.7" cy="668.5" r="3.6" fill="#000004"/>
<circle cx="195.7" cy="659.4" r="3.6" fill="#fed194"/>
<circle cx="37.3" cy="614.5" r="3.6" fill="#000004"/>
<circle cx="266.3" cy="589.7" r="3.6" fill="#000004"/>
<circle cx="320.5" cy="543.8" r="3.6" fill="#000004"/>
<circle cx="200.9" cy="597.3" r="3.6" fill="#000004"/>
<circle cx="249.5" cy="546.5" r="3.6" fill="#000004"/>
<circle cx="200.3" cy="687.5" r="3.6" fill="#fec68a"/>
<circle cx="117.2" cy="621.8" r="3.6" fill="#000004"/>
<circle cx="181.5" cy="664.5" r="3.6" fill="#ca3e72"/>
<circle cx="314.7" cy="543.4" r="3.6" fill="#000004"/>
<circle cx="160.8" cy="638.1" r="3.6" fill="#000004"/>
<circle cx="298.1" cy="541.3" r="3.6" fill="#000004"/>
<circle cx="109.3" cy="642.8" r="3.6" fill="#000004"/>
<circle cx="243.4" cy="714.7" r="3.6" fill="#ea5661"/>
<circle cx="212.0" cy="625.1" r="3.6" fill="#000004"/>
<circle cx="281.5" cy="740.7" r="3.6" fill="#f1605d"/>
<circle cx="55.2" cy="616.6" r="3.6" fill="#000004"/>
<circle cx="292.6" cy="552.0" r="3.6" fill="#000004"/>
<circle cx="285.3" cy="733.4" r="3.6" fill="#e95462"/>
<circle cx="230.3" cy="699.9" r="3.6" fill="#fc8c63"/>
<circle cx="263.9" cy="571.6" r="3.6" fill="#000004"/>
<circle cx="284.6" cy="741.6" r="3.6" fill="#fec185"/>
<circle cx="231.9" cy="704.0" r="3.6" fill="#fed395"/>
<circle cx="298.3" cy="741.6" r="3.6" fill="#fea772"/>
<circle cx="295.5" cy="737.9" r="3.6" fill="#feca8d"/>
<circle cx="72.0" cy="613.2" r="3.6" fill="#000004"/>
<circle cx="123.5" cy="651.0" r="3.6" fill="#e55064"/>
<circle cx="275.1" cy="737.0" r="3.6" fill="#feb47b"/>
<circle cx="253.9" cy="709.1" r="3.6" fill="#fea973"/>
<circle cx="299.4" cy="557.9" r="3.6" fill="#000004"/>
<circle cx="321.9" cy="550.0" r="3.6" fill="#000004"/>
<circle cx="270.9" cy="712.8" r="3.6" fill="#ed5a5f"/>
<circle cx="31.5" cy="614.0" r="3.6" fill="#000004"/>
<circle cx="237.0" cy="692.5" r="3.6" fill="#ed5a5f"/>
<circle cx="59.4" cy="617.9" r="3.6" fill="#000004"/>
<circle cx="132.9" cy="614.9" r="3.6" fill="#000004"/>
<circle cx="280.7" cy="545.7" r="3.6" fill="#000004"/>
<circle cx="58.9" cy="615.1" r="3.6" fill="#000004"/>
<circle cx="51.2" cy="625.0" r="3.6" fill="#000004"/>
<circle cx="314.7" cy="545.3" r="3.6" fill="#000004"/>
<circle cx="269.1" cy="558.7" r="3.6" fill="#000004"/>
<circle cx="223.6" cy="591.3" r="3.6" fill="#000004"/>
<circle cx="284.0" cy="552.4" r="3.6" fill="#000004"/>
<circle cx="260.3" cy="571.1" r="3.6" fill="#000004"/>
<circle cx="69.3" cy="626.1" r="3.6" fill="#fc8961"/>
<circle cx="120.8" cy="631.7" r="3.6" fill="#000004"/>
<circle cx="287.8" cy="539.7" r="3.6" fill="#000004"/>
<circle cx="92.5" cy="636.0" r="3.6" fill="#000004"/>
<circle cx="288.8" cy="541.8" r="3.6" fill="#000004"/>
<circle cx="240.2" cy="693.7" r="3.6" fill="#f7725c"/>
<circle cx="294.2" cy="538.1" r="3.6" fill="#000004"/>
<circle cx="238.6" cy="602.6" r="3.6" fill="#000004"/>
<circle cx="300.0" cy="548.1" r="3.6" fill="#000004"/>
<circle cx="128.2" cy="621.8" r="3.6" fill="#000004"/>
<circle cx="266.7" cy="570.6" r="3.6" fill="#000004"/>
<circle cx="190.7" cy="685.7" r="3.6" fill="#eb5760"/>
<circle cx="296.4" cy="744.6" r="3.6" fill="#e85362"/>
<circle cx="202.5" cy="597.3" r="3.6" fill="#000004"/>
<circle cx="235.3" cy="585.4" r="3.6" fill="#000004"/>
<circle cx="218.9" cy="698.2" r="3.6" fill="#000004"/>
<circle cx="261.7" cy="724.0" r="3.6" fill="#f56b5c"/>
<circle cx="306.6" cy="549.6" r="3.6" fill="#000004"/>
<circle cx="46.1" cy="618.2" r="3.6" fill="#000004"/>
<circle cx="337.7" cy="548.5" r="3.6" fill="#000004"/>
<circle cx="305.8" cy="540.7" r="3.6" fill="#000004"/>
<circle cx="298.7" cy="738.6" r="3.6" fill="#feb67c"/>
<circle cx="269.9" cy="572.7" r="3.6" fill="#000004"/>
<circle cx="223.3" cy="712.4" r="3.6" fill="#feac76"/>
<circle cx="175.1" cy="669.4" r="3.6" fill="#fec88c"/>
<circle cx="226.9" cy="708.1" r="3.6" fill="#fed395"/>
<circle cx="40.4" cy="610.2" r="3.6" fill="#000004"/>
<circle cx="180.2" cy="669.4" r="3.6" fill="#000004"/>
<circle cx="203.5" cy="595.0" r="3.6" fill="#000004"/>
<circle cx="291.0" cy="721.0" r="3.6" fill="#feb67c"/>
<circle cx="154.5" cy="660.4" r="3.6" fill="#000004"/>
<circle cx="276.3" cy="739.6" r="3.6" fill="#000004"/>
<circle cx="289.1" cy="741.7" r="3.6" fill="#fecf92"/>
<circle cx="286.6" cy="736.0" r="3.6" fill="#fddc9e"/>
<circle cx="219.4" cy="688.4" r="3.6" fill="#c73d73"/>
<circle cx="267.7" cy="563.8" r="3.6" fill="#000004"/>
<circle cx="152.4" cy="651.9" r="3.6" fill="#000004"/>
<circle cx="275.9" cy="727.4" r="3.6" fill="#fed799"/>
<circle cx="280.4" cy="731.9" r="3.6" fill="#fe9f6d"/>
<circle cx="225.1" cy="598.2" r="3.6" fill="#000004"/>
<circle cx="221.3" cy="627.0" r="3.6" fill="#000004"/>
<circle cx="271.2" cy="734.9" r="3.6" fill="#ae347b"/>
<circle cx="303.2" cy="543.4" r="3.6" fill="#000004"/>
<circle cx="271.1" cy="572.8" r="3.6" fill="#000004"/>
<circle cx="150.0" cy="670.3" r="3.6" fill="#000004"/>
<circle cx="222.9" cy="695.1" r="3.6" fill="#fd9a6a"/>
<circle cx="36.2" cy="622.2" r="3.6" fill="#000004"/>
<circle cx="300.3" cy="552.0" r="3.6" fill="#000004"/>
<circle cx="311.8" cy="543.4" r="3.6" fill="#000004"/>
<circle cx="301.9" cy="743.1" r="3.6" fill="#fea16e"/>
<circle cx="52.0" cy="612.8" r="3.6" fill="#000004"/>
<circle cx="98.8" cy="625.7" r="3.6" fill="#000004"/>
<circle cx="146.6" cy="646.7" r="3.6" fill="#000004"/>
<circle cx="146.5" cy="656.3" r="3.6" fill="#000004"/>
<circle cx="294.6" cy="539.4" r="3.6" fill="#000004"/>
<circle cx="254.4" cy="740.5" r="3.6" fill="#fe9d6c"/>
<circle cx="131.3" cy="626.5" r="3.6" fill="#000004"/>
<circle cx="35.2" cy="625.2" r="3.6" fill="#000004"/>
<circle cx="301.9" cy="542.8" r="3.6" fill="#000004"/>
<circle cx="199.9" cy="638.3" r="3.6" fill="#000004"/>
<circle cx="77.8" cy="614.5" r="3.6" fill="#000004"/>
<circle cx="62.5" cy="631.2" r="3.6" fill="#000004"/>
<circle cx="34.7" cy="608.9" r="3.6" fill="#000004"/>
<circle cx="312.3" cy="537.5" r="3.6" fill="#000004"/>
<circle cx="168.9" cy="669.5" r="3.6" fill="#000004"/>
<circle cx="166.5" cy="609.7" r="3.6" fill="#000004"/>
<circle cx="278.9" cy="735.5" r="3.6" fill="#feb47b"/>
<circle cx="289.1" cy="736.4" r="3.6" fill="#fea772"/>
<circle cx="209.5" cy="599.1" r="3.6" fill="#000004"/>
<circle cx="336.3" cy="546.1" r="3.6" fill="#000004"/>
<circle cx="192.9" cy="621.7" r="3.6" fill="#000004"/>
<circle cx="225.9" cy="687.5" r="3.6" fill="#fed194"/>
<circle cx="289.8" cy="547.3" r="3.6" fill="#000004"/>
<circle cx="231.9" cy="701.5" r="3.6" fill="#fec287"/>
<circle cx="153.5" cy="657.9" r="3.6" fill="#eb5760"/>
<circle cx="309.6" cy="541.8" r="3.6" fill="#000004"/>
<circle cx="44.7" cy="615.3" r="3.6" fill="#000004"/>
<circle cx="72.5" cy="619.2" r="3.6" fill="#000004"/>
<circle cx="267.2" cy="554.0" r="3.6" fill="#000004"/>
<circle cx="260.5" cy="563.8" r="3.6" fill="#000004"/>
<circle cx="291.7" cy="540.6" r="3.6" fill="#000004"/>
<circle cx="32.0" cy="618.8" r="3.6" fill="#000004"/>
<circle cx="95.6" cy="623.1" r="3.6" fill="#000004"/>
<circle cx="261.0" cy="547.7" r="3.6" fill="#000004"/>
<circle cx="45.2" cy="625.7" r="3.6" fill="#000004"/>
<circle cx="315.2" cy="554.4" r="3.6" fill="#000004"/>
<circle cx="77.8" cy="629.1" r="3.6" fill="#000004"/>
<circle cx="244.8" cy="711.7" r="3.6" fill="#f05f5e"/>
<circle cx="169.6" cy="669.4" r="3.6" fill="#fe9f6d"/>
<circle cx="246.1" cy="578.7" r="3.6" fill="#000004"/>
<circle cx="53.1" cy="624.8" r="3.6" fill="#000004"/>
<circle cx="68.3" cy="617.9" r="3.6" fill="#000004"/>
<circle cx="287.4" cy="539.8" r="3.6" fill="#000004"/>
<circle cx="232.8" cy="702.0" r="3.6" fill="#f3655c"/>
<circle cx="273.6" cy="737.1" r="3.6" fill="#feb67c"/>
<circle cx="165.6" cy="668.2" r="3.6" fill="#ca3e72"/>
<circle cx="128.7" cy="638.5" r="3.6" fill="#000004"/>
<circle cx="182.2" cy="655.9" r="3.6" fill="#b0357b"/>
<circle cx="219.7" cy="682.6" r="3.6" fill="#ea5661"/>
<circle cx="80.9" cy="617.5" r="3.6" fill="#000004"/>
<circle cx="228.1" cy="609.6" r="3.6" fill="#000004"/>
<circle cx="285.5" cy="738.6" r="3.6" fill="#fea16e"/>
<circle cx="199.9" cy="597.4" r="3.6" fill="#000004"/>
<circle cx="329.1" cy="541.0" r="3.6" fill="#000004"/>
<circle cx="289.1" cy="745.3" r="3.6" fill="#fe9f6d"/>
<circle cx="110.3" cy="639.4" r="3.6" fill="#000004"/>
<circle cx="208.3" cy="686.7" r="3.6" fill="#000004"/>
<circle cx="182.7" cy="675.6" r="3.6" fill="#000004"/>
<circle cx="142.5" cy="662.9" r="3.6" fill="#e85362"/>
<circle cx="278.3" cy="538.3" r="3.6" fill="#000004"/>
<circle cx="275.4" cy="742.3" r="3.6" fill="#ba3878"/>
<circle cx="308.3" cy="546.0" r="3.6" fill="#000004"/>
<circle cx="204.8" cy="680.1" r="3.6" fill="#000004"/>
<circle cx="338.7" cy="553.6" r="3.6" fill="#000004"/>
<circle cx="150.8" cy="608.9" r="3.6" fill="#000004"/>
<circle cx="267.7" cy="747.2" r="3.6" fill="#000004"/>
<circle cx="263.9" cy="544.1" r="3.6" fill="#000004"/>
<circle cx="192.9" cy="607.7" r="3.6" fill="#000004"/>
<circle cx="207.8" cy="591.7" r="3.6" fill="#000004"/>
<circle cx="311.4" cy="552.8" r="3.6" fill="#000004"/>
<circle cx="171.6" cy="615.2" r="3.6" fill="#000004"/>
<circle cx="202.8" cy="596.2" r="3.6" fill="#000004"/>
<circle cx="277.2" cy="724.4" r="3.6" fill="#fddea0"/>
<circle cx="219.7" cy="588.9" r="3.6" fill="#000004"/>
<circle cx="254.3" cy="557.5" r="3.6" fill="#000004"/>
<circle cx="311.5" cy="538.6" r="3.6" fill="#000004"/>
<circle cx="290.4" cy="538.6" r="3.6" fill="#000004"/>
<circle cx="166.1" cy="661.6" r="3.6" fill="#fde2a3"/>
<circle cx="291.7" cy="542.8" r="3.6" fill="#000004"/>
<circle cx="271.5" cy="564.2" r="3.6" fill="#000004"/>
<circle cx="187.2" cy="674.0" r="3.6" fill="#a8327d"/>
<circle cx="61.4" cy="619.3" r="3.6" fill="#000004"/>
<circle cx="140.3" cy="639.4" r="3.6" fill="#000004"/>
<circle cx="253.8" cy="589.3" r="3.6" fill="#000004"/>
<circle cx="39.4" cy="617.9" r="3.6" fill="#000004"/>
<circle cx="52.5" cy="609.7" r="3.6" fill="#000004"/>
<circle cx="73.0" cy="623.1" r="3.6" fill="#000004"/>
<circle cx="293.6" cy="555.9" r="3.6" fill="#000004"/>
<circle cx="292.8" cy="731.1" r="3.6" fill="#fb8560"/>
<circle cx="160.2" cy="642.8" r="3.6" fill="#000004"/>
<circle cx="301.0" cy="732.2" r="3.6" fill="#fec88c"/>
<circle cx="242.5" cy="705.7" r="3.6" fill="#f7705c"/>
<circle cx="279.1" cy="737.9" r="3.6" fill="#fec488"/>
<circle cx="221.1" cy="717.3" r="3.6" fill="#fea16e"/>
<circle cx="43.5" cy="623.4" r="3.6" fill="#000004"/>
<circle cx="192.9" cy="595.0" r="3.6" fill="#000004"/>
<circle cx="56.2" cy="623.1" r="3.6" fill="#000004"/>
<circle cx="128.9" cy="657.8" r="3.6" fill="#fed194"/>
<circle cx="73.0" cy="631.2" r="3.6" fill="#000004"/>
<circle cx="318.6" cy="541.0" r="3.6" fill="#000004"/>
<circle cx="60.4" cy="620.5" r="3.6" fill="#000004"/>
<circle cx="29.1" cy="624.1" r="3.6" fill="#000004"/>
<circle cx="230.6" cy="716.9" r="3.6" fill="#f4695c"/>
<circle cx="304.5" cy="547.0" r="3.6" fill="#000004"/>
<circle cx="263.5" cy="572.1" r="3.6" fill="#000004"/>
<circle cx="282.1" cy="566.5" r="3.6" fill="#000004"/>
<circle cx="302.2" cy="539.4" r="3.6" fill="#000004"/>
<circle cx="248.0" cy="707.9" r="3.6" fill="#f97b5d"/>
<circle cx="294.2" cy="737.0" r="3.6" fill="#fc9065"/>
<circle cx="53.7" cy="617.2" r="3.6" fill="#000004"/>
<circle cx="277.3" cy="554.4" r="3.6" fill="#000004"/>
<circle cx="286.4" cy="570.8" r="3.6" fill="#000004"/>
<circle cx="298.4" cy="546.1" r="3.6" fill="#000004"/>
<circle cx="282.7" cy="737.6" r="3.6" fill="#fed89a"/>
<circle cx="35.2" cy="619.6" r="3.6" fill="#000004"/>
<circle cx="47.8" cy="621.4" r="3.6" fill="#fc8961"/>
<circle cx="290.4" cy="738.6" r="3.6" fill="#fb8560"/>
<circle cx="222.9" cy="699.9" r="3.6" fill="#000004"/>
<circle cx="134.5" cy="652.7" r="3.6" fill="#b2357b"/>
<circle cx="49.9" cy="620.8" r="3.6" fill="#000004"/>
<circle cx="291.7" cy="565.3" r="3.6" fill="#000004"/>
<circle cx="49.4" cy="619.5" r="3.6" fill="#000004"/>
<circle cx="97.2" cy="630.4" r="3.6" fill="#000004"/>
<circle cx="52.8" cy="618.7" r="3.6" fill="#000004"/>
<circle cx="98.2" cy="626.3" r="3.6" fill="#000004"/>
</g>
<g fill-opacity="0.6">
<circle cx="529.2" cy="622.7" r="3.6" fill="#000004"/>
<circle cx="561.7" cy="629.1" r="3.6" fill="#000004"/>
<circle cx="705.0" cy="590.1" r="3.6" fill="#000004"/>
<circle cx="584.3" cy="648.9" r="3.6" fill="#000004"/>
<circle cx="609.4" cy="649.8" r="3.6" fill="#000004"/>
<circle cx="701.2" cy="570.1" r="3.6" fill="#fd9a6a"/>
<circle cx="679.9" cy="687.6" r="3.6" fill="#000004"/>
<circle cx="650.3" cy="688.8" r="3.6" fill="#000004"/>
<circle cx="516.6" cy="631.7" r="3.6" fill="#000004"/>
<circle cx="638.8" cy="667.8" r="3.6" fill="#000004"/>
<circle cx="756.2" cy="540.3" r="3.6" fill="#000004"/>
<circle cx="594.2" cy="622.7" r="3.6" fill="#000004"/>
<circle cx="657.8" cy="693.7" r="3.6" fill="#000004"/>
<circle cx="731.0" cy="736.4" r="3.6" fill="#000004"/>
<circle cx="502.9" cy="626.6" r="3.6" fill="#000004"/>
<circle cx="651.0" cy="586.8" r="3.6" fill="#000004"/>
<circle cx="686.3" cy="712.4" r="3.6" fill="#000004"/>
<circle cx="709.5" cy="712.4" r="3.6" fill="#000004"/>
<circle cx="495.2" cy="614.1" r="3.6" fill="#000004"/>
<circle cx="505.4" cy="622.5" r="3.6" fill="#000004"/>
<circle cx="724.2" cy="547.8" r="3.6" fill="#000004"/>
<circle cx="590.0" cy="630.4" r="3.6" fill="#000004"/>
<circle cx="727.3" cy="742.3" r="3.6" fill="#000004"/>
<circle cx="619.2" cy="676.0" r="3.6" fill="#000004"/>
<circle cx="690.2" cy="551.7" r="3.6" fill="#fcecae"/>
<circle cx="564.3" cy="651.1" r="3.6" fill="#000004"/>
<circle cx="589.0" cy="626.1" r="3.6" fill="#000004"/>
<circle cx="603.7" cy="621.8" r="3.6" fill="#000004"/>
<circle cx="634.7" cy="607.4" r="3.6" fill="#fde9aa"/>
<circle cx="682.2" cy="704.1" r="3.6" fill="#000004"/>
<circle cx="742.8" cy="536.0" r="3.6" fill="#000004"/>
<circle cx="739.6" cy="733.9" r="3.6" fill="#000004"/>
<circle cx="739.0" cy="562.3" r="3.6" fill="#000004"/>
<circle cx="763.9" cy="567.0" r="3.6" fill="#000004"/>
<circle cx="742.8" cy="546.1" r="3.6" fill="#000004"/>
<circle cx="714.1" cy="569.4" r="3.6" fill="#000004"/>
<circle cx="511.4" cy="614.5" r="3.6" fill="#000004"/>
<circle cx="628.4" cy="607.8" r="3.6" fill="#fb835f"/>
<circle cx="716.4" cy="734.1" r="3.6" fill="#000004"/>
<circle cx="723.7" cy="580.7" r="3.6" fill="#fde0a1"/>
<circle cx="737.4" cy="731.9" r="3.6" fill="#000004"/>
<circle cx="623.5" cy="670.1" r="3.6" fill="#000004"/>
<circle cx="480.1" cy="607.7" r="3.6" fill="#000004"/>
<circle cx="732.3" cy="547.4" r="3.6" fill="#000004"/>
<circle cx="661.3" cy="688.0" r="3.6" fill="#000004"/>
<circle cx="687.5" cy="566.6" r="3.6" fill="#000004"/>
<circle cx="652.0" cy="602.8" r="3.6" fill="#fecf92"/>
<circle cx="583.7" cy="618.8" r="3.6" fill="#000004"/>
<circle cx="561.7" cy="608.1" r="3.6" fill="#000004"/>
<circle cx="590.0" cy="619.7" r="3.6" fill="#000004"/>
<circle cx="755.6" cy="740.8" r="3.6" fill="#000004"/>
<circle cx="650.1" cy="697.6" r="3.6" fill="#000004"/>
<circle cx="697.2" cy="719.9" r="3.6" fill="#000004"/>
<circle cx="611.2" cy="657.1" r="3.6" fill="#000004"/>
<circle cx="516.6" cy="608.9" r="3.6" fill="#000004"/>
<circle cx="682.2" cy="713.2" r="3.6" fill="#000004"/>
<circle cx="715.5" cy="728.1" r="3.6" fill="#000004"/>
<circle cx="742.8" cy="740.7" r="3.6" fill="#000004"/>
<circle cx="640.7" cy="685.5" r="3.6" fill="#000004"/>
<circle cx="504.6" cy="627.0" r="3.6" fill="#000004"/>
<circle cx="681.4" cy="698.2" r="3.6" fill="#000004"/>
<circle cx="644.3" cy="679.7" r="3.6" fill="#000004"/>
<circle cx="553.5" cy="618.8" r="3.6" fill="#000004"/>
<circle cx="563.8" cy="624.0" r="3.6" fill="#000004"/>
<circle cx="655.3" cy="689.2" r="3.6" fill="#000004"/>
<circle cx="753.4" cy="542.3" r="3.6" fill="#000004"/>
<circle cx="707.3" cy="727.4" r="3.6" fill="#000004"/>
<circle cx="746.7" cy="548.6" r="3.6" fill="#b73779"/>
<circle cx="707.4" cy="571.7" r="3.6" fill="#000004"/>
<circle cx="620.3" cy="668.5" r="3.6" fill="#000004"/>
<circle cx="643.3" cy="659.4" r="3.6" fill="#000004"/>
<circle cx="485.2" cy="614.5" r="3.6" fill="#000004"/>
<circle cx="713.6" cy="589.8" r="3.6" fill="#000004"/>
<circle cx="767.7" cy="543.8" r="3.6" fill="#fec185"/>
<circle cx="648.4" cy="597.3" r="3.6" fill="#000004"/>
<circle cx="696.9" cy="546.6" r="3.6" fill="#000004"/>
<circle cx="647.8" cy="687.6" r="3.6" fill="#000004"/>
<circle cx="564.9" cy="621.8" r="3.6" fill="#000004"/>
<circle cx="629.0" cy="664.5" r="3.6" fill="#000004"/>
<circle cx="762.0" cy="543.5" r="3.6" fill="#fde0a1"/>
<circle cx="608.4" cy="638.2" r="3.6" fill="#000004"/>
<circle cx="745.4" cy="541.4" r="3.6" fill="#000004"/>
<circle cx="557.0" cy="642.9" r="3.6" fill="#000004"/>
<circle cx="690.9" cy="714.7" r="3.6" fill="#000004"/>
<circle cx="659.5" cy="625.2" r="3.6" fill="#fceeb0"/>
<circle cx="728.8" cy="740.7" r="3.6" fill="#000004"/>
<circle cx="503.0" cy="616.7" r="3.6" fill="#000004"/>
<circle cx="740.0" cy="552.1" r="3.6" fill="#fcf4b6"/>
<circle cx="732.6" cy="733.4" r="3.6" fill="#000004"/>
<circle cx="677.7" cy="699.9" r="3.6" fill="#000004"/>
<circle cx="711.2" cy="571.7" r="3.6" fill="#febf84"/>
<circle cx="731.9" cy="741.6" r="3.6" fill="#000004"/>
<circle cx="679.4" cy="704.0" r="3.6" fill="#000004"/>
<circle cx="745.6" cy="741.6" r="3.6" fill="#000004"/>
<circle cx="742.8" cy="737.9" r="3.6" fill="#000004"/>
<circle cx="519.8" cy="613.2" r="3.6" fill="#000004"/>
<circle cx="571.2" cy="651.1" r="3.6" fill="#000004"/>
<circle cx="722.4" cy="737.0" r="3.6" fill="#000004"/>
<circle cx="701.3" cy="709.1" r="3.6" fill="#000004"/>
<circle cx="746.7" cy="558.0" r="3.6" fill="#fec488"/>
<circle cx="769.1" cy="550.1" r="3.6" fill="#000004"/>
<circle cx="718.2" cy="712.8" r="3.6" fill="#000004"/>
<circle cx="479.4" cy="614.1" r="3.6" fill="#000004"/>
<circle cx="684.4" cy="692.5" r="3.6" fill="#000004"/>
<circle cx="507.2" cy="618.0" r="3.6" fill="#000004"/>
<circle cx="580.6" cy="615.0" r="3.6" fill="#000004"/>
<circle cx="728.0" cy="545.8" r="3.6" fill="#fd9467"/>
<circle cx="506.7" cy="615.1" r="3.6" fill="#000004"/>
<circle cx="499.0" cy="625.1" r="3.6" fill="#000004"/>
<circle cx="762.0" cy="545.4" r="3.6" fill="#fc8961"/>
<circle cx="716.5" cy="558.8" r="3.6" fill="#000004"/>
<circle cx="671.0" cy="591.3" r="3.6" fill="#000004"/>
<circle cx="731.3" cy="552.5" r="3.6" fill="#fecd90"/>
<circle cx="707.7" cy="571.2" r="3.6" fill="#000004"/>
<circle cx="517.2" cy="626.1" r="3.6" fill="#000004"/>
<circle cx="568.5" cy="631.7" r="3.6" fill="#000004"/>
<circle cx="735.2" cy="539.8" r="3.6" fill="#000004"/>
<circle cx="540.2" cy="636.0" r="3.6" fill="#000004"/>
<circle cx="736.1" cy="541.9" r="3.6" fill="#000004"/>
<circle cx="687.7" cy="693.8" r="3.6" fill="#000004"/>
<circle cx="741.5" cy="538.2" r="3.6" fill="#fec488"/>
<circle cx="686.1" cy="602.7" r="3.6" fill="#000004"/>
<circle cx="747.3" cy="548.2" r="3.6" fill="#000004"/>
<circle cx="575.9" cy="621.8" r="3.6" fill="#000004"/>
<circle cx="714.1" cy="570.7" r="3.6" fill="#000004"/>
<circle cx="638.3" cy="685.7" r="3.6" fill="#000004"/>
<circle cx="743.7" cy="744.6" r="3.6" fill="#000004"/>
<circle cx="650.0" cy="597.3" r="3.6" fill="#feb97f"/>
<circle cx="682.7" cy="585.4" r="3.6" fill="#000004"/>
<circle cx="666.3" cy="698.2" r="3.6" fill="#000004"/>
<circle cx="709.1" cy="724.0" r="3.6" fill="#000004"/>
<circle cx="753.8" cy="549.7" r="3.6" fill="#fed89a"/>
<circle cx="493.9" cy="618.3" r="3.6" fill="#000004"/>
<circle cx="784.9" cy="548.6" r="3.6" fill="#fa7d5e"/>
<circle cx="753.0" cy="540.8" r="3.6" fill="#f7725c"/>
<circle cx="746.0" cy="738.6" r="3.6" fill="#000004"/>
<circle cx="717.3" cy="572.8" r="3.6" fill="#000004"/>
<circle cx="670.8" cy="712.4" r="3.6" fill="#000004"/>
<circle cx="622.7" cy="669.5" r="3.6" fill="#000004"/>
<circle cx="674.4" cy="708.1" r="3.6" fill="#000004"/>
<circle cx="488.3" cy="610.2" r="3.6" fill="#000004"/>
<circle cx="627.7" cy="669.5" r="3.6" fill="#000004"/>
<circle cx="651.0" cy="595.0" r="3.6" fill="#fddc9e"/>
<circle cx="738.3" cy="721.0" r="3.6" fill="#000004"/>
<circle cx="602.1" cy="660.4" r="3.6" fill="#000004"/>
<circle cx="723.7" cy="739.7" r="3.6" fill="#000004"/>
<circle cx="736.4" cy="741.7" r="3.6" fill="#000004"/>
<circle cx="733.9" cy="736.0" r="3.6" fill="#000004"/>
<circle cx="666.8" cy="688.4" r="3.6" fill="#000004"/>
<circle cx="715.1" cy="563.9" r="3.6" fill="#fd9869"/>
<circle cx="600.0" cy="651.9" r="3.6" fill="#000004"/>
<circle cx="723.2" cy="727.4" r="3.6" fill="#000004"/>
<circle cx="727.8" cy="731.9" r="3.6" fill="#000004"/>
<circle cx="672.5" cy="598.3" r="3.6" fill="#000004"/>
<circle cx="668.7" cy="627.1" r="3.6" fill="#fcf4b6"/>
<circle cx="718.6" cy="734.9" r="3.6" fill="#000004"/>
<circle cx="750.5" cy="543.5" r="3.6" fill="#fed799"/>
<circle cx="718.4" cy="572.9" r="3.6" fill="#000004"/>
<circle cx="597.6" cy="670.3" r="3.6" fill="#000004"/>
<circle cx="670.3" cy="695.1" r="3.6" fill="#000004"/>
<circle cx="484.1" cy="622.3" r="3.6" fill="#000004"/>
<circle cx="747.6" cy="552.1" r="3.6" fill="#000004"/>
<circle cx="759.1" cy="543.5" r="3.6" fill="#000004"/>
<circle cx="749.2" cy="743.1" r="3.6" fill="#000004"/>
<circle cx="499.9" cy="612.8" r="3.6" fill="#000004"/>
<circle cx="546.5" cy="625.7" r="3.6" fill="#000004"/>
<circle cx="594.2" cy="646.8" r="3.6" fill="#000004"/>
<circle cx="594.1" cy="656.3" r="3.6" fill="#000004"/>
<circle cx="741.9" cy="539.5" r="3.6" fill="#000004"/>
<circle cx="701.8" cy="740.5" r="3.6" fill="#000004"/>
<circle cx="579.0" cy="626.6" r="3.6" fill="#000004"/>
<circle cx="483.1" cy="625.3" r="3.6" fill="#000004"/>
<circle cx="749.2" cy="542.9" r="3.6" fill="#fc8e64"/>
<circle cx="647.5" cy="638.4" r="3.6" fill="#fed395"/>
<circle cx="525.5" cy="614.5" r="3.6" fill="#000004"/>
<circle cx="510.3" cy="631.3" r="3.6" fill="#000004"/>
<circle cx="482.6" cy="608.9" r="3.6" fill="#000004"/>
<circle cx="759.6" cy="537.6" r="3.6" fill="#feb27a"/>
<circle cx="616.5" cy="669.5" r="3.6" fill="#000004"/>
<circle cx="614.1" cy="609.8" r="3.6" fill="#fec287"/>
<circle cx="726.2" cy="735.5" r="3.6" fill="#000004"/>
<circle cx="736.4" cy="736.4" r="3.6" fill="#000004"/>
<circle cx="657.0" cy="599.1" r="3.6" fill="#febf84"/>
<circle cx="783.5" cy="546.2" r="3.6" fill="#fb8560"/>
<circle cx="640.4" cy="621.7" r="3.6" fill="#fd9b6b"/>
<circle cx="673.4" cy="687.6" r="3.6" fill="#000004"/>
<circle cx="737.1" cy="547.4" r="3.6" fill="#fd9869"/>
<circle cx="679.4" cy="701.5" r="3.6" fill="#000004"/>
<circle cx="601.1" cy="658.0" r="3.6" fill="#000004"/>
<circle cx="756.9" cy="541.9" r="3.6" fill="#000004"/>
<circle cx="492.5" cy="615.4" r="3.6" fill="#000004"/>
<circle cx="520.3" cy="619.3" r="3.6" fill="#000004"/>
<circle cx="714.6" cy="554.0" r="3.6" fill="#000004"/>
<circle cx="707.9" cy="563.9" r="3.6" fill="#000004"/>
<circle cx="739.0" cy="540.7" r="3.6" fill="#000004"/>
<circle cx="479.9" cy="618.8" r="3.6" fill="#000004"/>
<circle cx="543.4" cy="623.1" r="3.6" fill="#000004"/>
<circle cx="708.4" cy="547.8" r="3.6" fill="#000004"/>
<circle cx="493.0" cy="625.7" r="3.6" fill="#000004"/>
<circle cx="762.4" cy="554.4" r="3.6" fill="#fddea0"/>
<circle cx="525.5" cy="629.1" r="3.6" fill="#000004"/>
<circle cx="692.2" cy="711.7" r="3.6" fill="#000004"/>
<circle cx="617.2" cy="669.5" r="3.6" fill="#000004"/>
<circle cx="693.5" cy="578.8" r="3.6" fill="#000004"/>
<circle cx="500.9" cy="624.8" r="3.6" fill="#000004"/>
<circle cx="516.1" cy="618.0" r="3.6" fill="#000004"/>
<circle cx="734.7" cy="539.9" r="3.6" fill="#fed799"/>
<circle cx="680.3" cy="702.0" r="3.6" fill="#000004"/>
<circle cx="720.9" cy="737.1" r="3.6" fill="#000004"/>
<circle cx="613.2" cy="668.2" r="3.6" fill="#000004"/>
<circle cx="576.4" cy="638.6" r="3.6" fill="#000004"/>
<circle cx="629.7" cy="655.9" r="3.6" fill="#000004"/>
<circle cx="667.1" cy="682.6" r="3.6" fill="#000004"/>
<circle cx="528.7" cy="617.5" r="3.6" fill="#000004"/>
<circle cx="675.5" cy="609.7" r="3.6" fill="#fc8961"/>
<circle cx="732.8" cy="738.6" r="3.6" fill="#000004"/>
<circle cx="647.5" cy="597.5" r="3.6" fill="#fa7f5e"/>
<circle cx="776.3" cy="541.1" r="3.6" fill="#000004"/>
<circle cx="736.4" cy="745.3" r="3.6" fill="#000004"/>
<circle cx="558.0" cy="639.5" r="3.6" fill="#000004"/>
<circle cx="655.8" cy="686.7" r="3.6" fill="#000004"/>
<circle cx="630.2" cy="675.6" r="3.6" fill="#000004"/>
<circle cx="590.1" cy="662.9" r="3.6" fill="#000004"/>
<circle cx="725.6" cy="538.4" r="3.6" fill="#000004"/>
<circle cx="722.8" cy="742.3" r="3.6" fill="#000004"/>
<circle cx="755.6" cy="546.1" r="3.6" fill="#000004"/>
<circle cx="652.3" cy="680.2" r="3.6" fill="#000004"/>
<circle cx="785.9" cy="553.7" r="3.6" fill="#000004"/>
<circle cx="598.4" cy="608.9" r="3.6" fill="#000004"/>
<circle cx="715.0" cy="747.2" r="3.6" fill="#000004"/>
<circle cx="711.2" cy="544.2" r="3.6" fill="#feb078"/>
<circle cx="640.4" cy="607.8" r="3.6" fill="#fde3a5"/>
<circle cx="655.3" cy="591.7" r="3.6" fill="#feb77e"/>
<circle cx="758.6" cy="552.9" r="3.6" fill="#000004"/>
<circle cx="619.2" cy="615.3" r="3.6" fill="#f9785d"/>
<circle cx="650.3" cy="596.3" r="3.6" fill="#febf84"/>
<circle cx="724.6" cy="724.4" r="3.6" fill="#000004"/>
<circle cx="667.2" cy="589.0" r="3.6" fill="#fc8e64"/>
<circle cx="701.7" cy="557.6" r="3.6" fill="#fb8761"/>
<circle cx="758.8" cy="538.7" r="3.6" fill="#000004"/>
<circle cx="737.7" cy="538.7" r="3.6" fill="#fdebac"/>
<circle cx="613.7" cy="661.7" r="3.6" fill="#000004"/>
<circle cx="739.0" cy="542.9" r="3.6" fill="#000004"/>
<circle cx="718.9" cy="564.3" r="3.6" fill="#fc8961"/>
<circle cx="634.7" cy="674.0" r="3.6" fill="#000004"/>
<circle cx="509.2" cy="619.3" r="3.6" fill="#000004"/>
<circle cx="587.9" cy="639.5" r="3.6" fill="#000004"/>
<circle cx="701.2" cy="589.4" r="3.6" fill="#fcf0b2"/>
<circle cx="487.3" cy="618.0" r="3.6" fill="#000004"/>
<circle cx="500.4" cy="609.8" r="3.6" fill="#000004"/>
<circle cx="520.8" cy="623.1" r="3.6" fill="#000004"/>
<circle cx="740.9" cy="556.0" r="3.6" fill="#000004"/>
<circle cx="740.1" cy="731.1" r="3.6" fill="#000004"/>
<circle cx="607.8" cy="642.9" r="3.6" fill="#000004"/>
<circle cx="748.3" cy="732.3" r="3.6" fill="#000004"/>
<circle cx="689.9" cy="705.7" r="3.6" fill="#000004"/>
<circle cx="726.4" cy="737.9" r="3.6" fill="#000004"/>
<circle cx="668.5" cy="717.3" r="3.6" fill="#000004"/>
<circle cx="491.4" cy="623.5" r="3.6" fill="#000004"/>
<circle cx="640.4" cy="595.0" r="3.6" fill="#000004"/>
<circle cx="504.1" cy="623.1" r="3.6" fill="#000004"/>
<circle cx="576.6" cy="657.8" r="3.6" fill="#000004"/>
<circle cx="520.8" cy="631.3" r="3.6" fill="#000004"/>
<circle cx="765.8" cy="541.1" r="3.6" fill="#000004"/>
<circle cx="508.2" cy="620.6" r="3.6" fill="#000004"/>
<circle cx="477.0" cy="624.2" r="3.6" fill="#000004"/>
<circle cx="678.1" cy="716.9" r="3.6" fill="#000004"/>
<circle cx="751.8" cy="547.1" r="3.6" fill="#fecf92"/>
<circle cx="710.9" cy="572.2" r="3.6" fill="#f9795d"/>
<circle cx="729.4" cy="566.6" r="3.6" fill="#fb835f"/>
<circle cx="749.5" cy="539.5" r="3.6" fill="#000004"/>
<circle cx="695.4" cy="708.0" r="3.6" fill="#000004"/>
<circle cx="741.5" cy="737.0" r="3.6" fill="#000004"/>
<circle cx="501.6" cy="617.2" r="3.6" fill="#000004"/>
<circle cx="724.6" cy="554.4" r="3.6" fill="#fde7a9"/>
<circle cx="733.7" cy="570.9" r="3.6" fill="#000004"/>
<circle cx="745.7" cy="546.2" r="3.6" fill="#000004"/>
<circle cx="730.1" cy="737.6" r="3.6" fill="#000004"/>
<circle cx="483.1" cy="619.7" r="3.6" fill="#000004"/>
<circle cx="495.7" cy="621.4" r="3.6" fill="#000004"/>
<circle cx="737.7" cy="738.6" r="3.6" fill="#000004"/>
<circle cx="670.3" cy="699.9" r="3.6" fill="#000004"/>
<circle cx="582.2" cy="652.8" r="3.6" fill="#000004"/>
<circle cx="497.8" cy="620.9" r="3.6" fill="#000004"/>
<circle cx="739.0" cy="565.4" r="3.6" fill="#000004"/>
<circle cx="497.2" cy="619.5" r="3.6" fill="#000004"/>
<circle cx="544.9" cy="630.4" r="3.6" fill="#000004"/>
<circle cx="500.6" cy="618.8" r="3.6" fill="#000004"/>
<circle cx="545.9" cy="626.4" r="3.6" fill="#000004"/>
</g>
<g fill-opacity="0.6">
<circle cx="970.7" cy="622.7" r="3.6" fill="#000004"/>
<circle cx="1003.3" cy="629.1" r="3.6" fill="#000004"/>
<circle cx="1146.9" cy="590.1" r="3.6" fill="#621980"/>
<circle cx="1025.9" cy="648.9" r="3.6" fill="#000004"/>
<circle cx="1051.1" cy="649.8" r="3.6" fill="#000004"/>
<circle cx="1143.1" cy="570.1" r="3.6" fill="#6e1e81"/>
<circle cx="1121.7" cy="687.6" r="3.6" fill="#000004"/>
<circle cx="1092.1" cy="688.8" r="3.6" fill="#000004"/>
<circle cx="958.1" cy="631.7" r="3.6" fill="#000004"/>
<circle cx="1080.5" cy="667.8" r="3.6" fill="#000004"/>
<circle cx="1198.3" cy="540.3" r="3.6" fill="#902a81"/>
<circle cx="1035.9" cy="622.7" r="3.6" fill="#38106c"/>
<circle cx="1099.6" cy="693.7" r="3.6" fill="#000004"/>
<circle cx="1172.9" cy="736.4" r="3.6" fill="#000004"/>
<circle cx="944.3" cy="626.6" r="3.6" fill="#000004"/>
<circle cx="1092.8" cy="586.8" r="3.6" fill="#56147d"/>
<circle cx="1128.2" cy="712.4" r="3.6" fill="#000004"/>
<circle cx="1151.5" cy="712.4" r="3.6" fill="#000004"/>
<circle cx="936.6" cy="614.1" r="3.6" fill="#000004"/>
<circle cx="946.9" cy="622.5" r="3.6" fill="#000004"/>
<circle cx="1166.1" cy="547.8" r="3.6" fill="#812581"/>
<circle cx="1031.7" cy="630.4" r="3.6" fill="#000004"/>
<circle cx="1169.3" cy="742.3" r="3.6" fill="#000004"/>
<circle cx="1060.9" cy="676.0" r="3.6" fill="#000004"/>
<circle cx="1132.1" cy="551.7" r="3.6" fill="#feb078"/>
<circle cx="1005.9" cy="651.1" r="3.6" fill="#000004"/>
<circle cx="1030.6" cy="626.1" r="3.6" fill="#000004"/>
<circle cx="1045.3" cy="621.8" r="3.6" fill="#440f76"/>
<circle cx="1076.5" cy="607.4" r="3.6" fill="#681c81"/>
<circle cx="1124.1" cy="704.1" r="3.6" fill="#000004"/>
<circle cx="1184.8" cy="536.0" r="3.6" fill="#d9466b"/>
<circle cx="1181.6" cy="733.9" r="3.6" fill="#000004"/>
<circle cx="1181.0" cy="562.3" r="3.6" fill="#842681"/>
<circle cx="1205.9" cy="567.0" r="3.6" fill="#ee5b5e"/>
<circle cx="1184.8" cy="546.1" r="3.6" fill="#e55064"/>
<circle cx="1156.0" cy="569.4" r="3.6" fill="#ef5d5e"/>
<circle cx="952.9" cy="614.5" r="3.6" fill="#000004"/>
<circle cx="1070.1" cy="607.8" r="3.6" fill="#400f74"/>
<circle cx="1158.3" cy="734.1" r="3.6" fill="#000004"/>
<circle cx="1165.6" cy="580.7" r="3.6" fill="#8e2a81"/>
<circle cx="1179.3" cy="731.9" r="3.6" fill="#000004"/>
<circle cx="1065.2" cy="670.1" r="3.6" fill="#000004"/>
<circle cx="921.6" cy="607.7" r="3.6" fill="#000004"/>
<circle cx="1174.3" cy="547.4" r="3.6" fill="#feae77"/>
<circle cx="1103.1" cy="688.0" r="3.6" fill="#000004"/>
<circle cx="1129.4" cy="566.6" r="3.6" fill="#f66e5c"/>
<circle cx="1093.8" cy="602.8" r="3.6" fill="#671b80"/>
<circle cx="1025.4" cy="618.8" r="3.6" fill="#651a80"/>
<circle cx="1003.3" cy="608.1" r="3.6" fill="#681c81"/>
<circle cx="1031.7" cy="619.7" r="3.6" fill="#000004"/>
<circle cx="1197.6" cy="740.8" r="3.6" fill="#000004"/>
<circle cx="1091.9" cy="697.6" r="3.6" fill="#000004"/>
<circle cx="1139.1" cy="719.9" r="3.6" fill="#000004"/>
<circle cx="1052.9" cy="657.1" r="3.6" fill="#000004"/>
<circle cx="958.1" cy="608.9" r="3.6" fill="#000004"/>
<circle cx="1124.1" cy="713.2" r="3.6" fill="#000004"/>
<circle cx="1157.4" cy="728.1" r="3.6" fill="#000004"/>
<circle cx="1184.8" cy="740.7" r="3.6" fill="#000004"/>
<circle cx="1082.5" cy="685.5" r="3.6" fill="#000004"/>
<circle cx="946.0" cy="627.0" r="3.6" fill="#000004"/>
<circle cx="1123.2" cy="698.2" r="3.6" fill="#000004"/>
<circle cx="1086.0" cy="679.7" r="3.6" fill="#000004"/>
<circle cx="995.1" cy="618.8" r="3.6" fill="#440f76"/>
<circle cx="1005.4" cy="624.0" r="3.6" fill="#000004"/>
<circle cx="1097.1" cy="689.2" r="3.6" fill="#000004"/>
<circle cx="1195.4" cy="542.3" r="3.6" fill="#882781"/>
<circle cx="1149.2" cy="727.4" r="3.6" fill="#000004"/>
<circle cx="1188.7" cy="548.6" r="3.6" fill="#ef5d5e"/>
<circle cx="1149.3" cy="571.7" r="3.6" fill="#feb67c"/>
<circle cx="1062.0" cy="668.5" r="3.6" fill="#000004"/>
<circle cx="1085.0" cy="659.4" r="3.6" fill="#000004"/>
<circle cx="926.6" cy="614.5" r="3.6" fill="#000004"/>
<circle cx="1155.6" cy="589.8" r="3.6" fill="#752181"/>
<circle cx="1209.8" cy="543.8" r="3.6" fill="#fde7a9"/>
<circle cx="1090.2" cy="597.3" r="3.6" fill="#491078"/>
<circle cx="1138.8" cy="546.6" r="3.6" fill="#f9795d"/>
<circle cx="1089.6" cy="687.6" r="3.6" fill="#000004"/>
<circle cx="1006.5" cy="621.8" r="3.6" fill="#000004"/>
<circle cx="1070.8" cy="664.5" r="3.6" fill="#000004"/>
<circle cx="1204.0" cy="543.5" r="3.6" fill="#fea16e"/>
<circle cx="1050.1" cy="638.2" r="3.6" fill="#000004"/>
<circle cx="1187.4" cy="541.4" r="3.6" fill="#fde7a9"/>
<circle cx="998.6" cy="642.9" r="3.6" fill="#000004"/>
<circle cx="1132.7" cy="714.7" r="3.6" fill="#000004"/>
<circle cx="1101.3" cy="625.2" r="3.6" fill="#701f81"/>
<circle cx="1170.8" cy="740.7" r="3.6" fill="#000004"/>
<circle cx="944.5" cy="616.7" r="3.6" fill="#000004"/>
<circle cx="1181.9" cy="552.1" r="3.6" fill="#feb77e"/>
<circle cx="1174.6" cy="733.4" r="3.6" fill="#000004"/>
<circle cx="1119.6" cy="699.9" r="3.6" fill="#000004"/>
<circle cx="1153.2" cy="571.7" r="3.6" fill="#f97b5d"/>
<circle cx="1173.9" cy="741.6" r="3.6" fill="#000004"/>
<circle cx="1121.2" cy="704.0" r="3.6" fill="#000004"/>
<circle cx="1187.6" cy="741.6" r="3.6" fill="#000004"/>
<circle cx="1184.8" cy="737.9" r="3.6" fill="#000004"/>
<circle cx="961.3" cy="613.2" r="3.6" fill="#000004"/>
<circle cx="1012.8" cy="651.1" r="3.6" fill="#000004"/>
<circle cx="1164.4" cy="737.0" r="3.6" fill="#000004"/>
<circle cx="1143.2" cy="709.1" r="3.6" fill="#000004"/>
<circle cx="1188.7" cy="558.0" r="3.6" fill="#932b80"/>
<circle cx="1211.2" cy="550.1" r="3.6" fill="#feb078"/>
<circle cx="1160.2" cy="712.8" r="3.6" fill="#000004"/>
<circle cx="920.8" cy="614.1" r="3.6" fill="#000004"/>
<circle cx="1126.3" cy="692.5" r="3.6" fill="#000004"/>
<circle cx="948.7" cy="618.0" r="3.6" fill="#000004"/>
<circle cx="1022.2" cy="615.0" r="3.6" fill="#641a80"/>
<circle cx="1170.0" cy="545.8" r="3.6" fill="#e85362"/>
<circle cx="948.2" cy="615.1" r="3.6" fill="#000004"/>
<circle cx="940.5" cy="625.1" r="3.6" fill="#000004"/>
<circle cx="1204.0" cy="545.4" r="3.6" fill="#862781"/>
<circle cx="1158.4" cy="558.8" r="3.6" fill="#fb835f"/>
<circle cx="1112.9" cy="591.3" r="3.6" fill="#6b1d81"/>
<circle cx="1173.3" cy="552.5" r="3.6" fill="#912b81"/>
<circle cx="1149.6" cy="571.2" r="3.6" fill="#e75263"/>
<circle cx="958.6" cy="626.1" r="3.6" fill="#000004"/>
<circle cx="1010.1" cy="631.7" r="3.6" fill="#000004"/>
<circle cx="1177.1" cy="539.8" r="3.6" fill="#fde7a9"/>
<circle cx="981.8" cy="636.0" r="3.6" fill="#000004"/>
<circle cx="1178.1" cy="541.9" r="3.6" fill="#a3307e"/>
<circle cx="1129.5" cy="693.8" r="3.6" fill="#000004"/>
<circle cx="1183.5" cy="538.2" r="3.6" fill="#fb835f"/>
<circle cx="1127.9" cy="602.7" r="3.6" fill="#52137c"/>
<circle cx="1189.3" cy="548.2" r="3.6" fill="#9e2f7f"/>
<circle cx="1017.5" cy="621.8" r="3.6" fill="#621980"/>
<circle cx="1156.0" cy="570.7" r="3.6" fill="#fde7a9"/>
<circle cx="1080.0" cy="685.7" r="3.6" fill="#000004"/>
<circle cx="1185.7" cy="744.6" r="3.6" fill="#000004"/>
<circle cx="1091.8" cy="597.3" r="3.6" fill="#5f187f"/>
<circle cx="1124.6" cy="585.4" r="3.6" fill="#641a80"/>
<circle cx="1108.2" cy="698.2" r="3.6" fill="#000004"/>
<circle cx="1151.0" cy="724.0" r="3.6" fill="#000004"/>
<circle cx="1195.9" cy="549.7" r="3.6" fill="#fd9a6a"/>
<circle cx="935.4" cy="618.3" r="3.6" fill="#000004"/>
<circle cx="1227.0" cy="548.6" r="3.6" fill="#d6456c"/>
<circle cx="1195.1" cy="540.8" r="3.6" fill="#cd4071"/>
<circle cx="1188.0" cy="738.6" r="3.6" fill="#000004"/>
<circle cx="1159.2" cy="572.8" r="3.6" fill="#882781"/>
<circle cx="1112.6" cy="712.4" r="3.6" fill="#000004"/>
<circle cx="1064.4" cy="669.5" r="3.6" fill="#000004"/>
<circle cx="1116.2" cy="708.1" r="3.6" fill="#000004"/>
<circle cx="929.7" cy="610.2" r="3.6" fill="#000004"/>
<circle cx="1069.5" cy="669.5" r="3.6" fill="#000004"/>
<circle cx="1092.8" cy="595.0" r="3.6" fill="#6b1d81"/>
<circle cx="1180.3" cy="721.0" r="3.6" fill="#000004"/>
<circle cx="1043.8" cy="660.4" r="3.6" fill="#000004"/>
<circle cx="1165.6" cy="739.7" r="3.6" fill="#000004"/>
<circle cx="1178.4" cy="741.7" r="3.6" fill="#000004"/>
<circle cx="1175.9" cy="736.0" r="3.6" fill="#000004"/>
<circle cx="1108.7" cy="688.4" r="3.6" fill="#000004"/>
<circle cx="1157.0" cy="563.9" r="3.6" fill="#752181"/>
<circle cx="1041.7" cy="651.9" r="3.6" fill="#000004"/>
<circle cx="1165.2" cy="727.4" r="3.6" fill="#000004"/>
<circle cx="1169.7" cy="731.9" r="3.6" fill="#000004"/>
<circle cx="1114.4" cy="598.3" r="3.6" fill="#782281"/>
<circle cx="1110.6" cy="627.1" r="3.6" fill="#752181"/>
<circle cx="1160.5" cy="734.9" r="3.6" fill="#000004"/>
<circle cx="1192.5" cy="543.5" r="3.6" fill="#fd9668"/>
<circle cx="1160.4" cy="572.9" r="3.6" fill="#f97b5d"/>
<circle cx="1039.3" cy="670.3" r="3.6" fill="#000004"/>
<circle cx="1112.2" cy="695.1" r="3.6" fill="#000004"/>
<circle cx="925.5" cy="622.3" r="3.6" fill="#000004"/>
<circle cx="1189.6" cy="552.1" r="3.6" fill="#fe9d6c"/>
<circle cx="1201.1" cy="543.5" r="3.6" fill="#fc8e64"/>
<circle cx="1191.2" cy="743.1" r="3.6" fill="#000004"/>
<circle cx="941.3" cy="612.8" r="3.6" fill="#000004"/>
<circle cx="988.1" cy="625.7" r="3.6" fill="#000004"/>
<circle cx="1035.9" cy="646.8" r="3.6" fill="#000004"/>
<circle cx="1035.8" cy="656.3" r="3.6" fill="#000004"/>
<circle cx="1183.9" cy="539.5" r="3.6" fill="#f7725c"/>
<circle cx="1143.7" cy="740.5" r="3.6" fill="#000004"/>
<circle cx="1020.6" cy="626.6" r="3.6" fill="#000004"/>
<circle cx="924.5" cy="625.3" r="3.6" fill="#000004"/>
<circle cx="1191.2" cy="542.9" r="3.6" fill="#842681"/>
<circle cx="1089.2" cy="638.4" r="3.6" fill="#5d177f"/>
<circle cx="967.1" cy="614.5" r="3.6" fill="#000004"/>
<circle cx="951.8" cy="631.3" r="3.6" fill="#000004"/>
<circle cx="924.0" cy="608.9" r="3.6" fill="#000004"/>
<circle cx="1201.6" cy="537.6" r="3.6" fill="#962c80"/>
<circle cx="1058.2" cy="669.5" r="3.6" fill="#000004"/>
<circle cx="1055.8" cy="609.8" r="3.6" fill="#51127c"/>
<circle cx="1168.2" cy="735.5" r="3.6" fill="#000004"/>
<circle cx="1178.4" cy="736.4" r="3.6" fill="#000004"/>
<circle cx="1098.8" cy="599.1" r="3.6" fill="#641a80"/>
<circle cx="1225.6" cy="546.2" r="3.6" fill="#dc4869"/>
<circle cx="1082.2" cy="621.7" r="3.6" fill="#4a1079"/>
<circle cx="1115.2" cy="687.6" r="3.6" fill="#000004"/>
<circle cx="1179.1" cy="547.4" r="3.6" fill="#812581"/>
<circle cx="1121.2" cy="701.5" r="3.6" fill="#000004"/>
<circle cx="1042.8" cy="658.0" r="3.6" fill="#000004"/>
<circle cx="1198.9" cy="541.9" r="3.6" fill="#fc8e64"/>
<circle cx="934.0" cy="615.4" r="3.6" fill="#000004"/>
<circle cx="961.8" cy="619.3" r="3.6" fill="#000004"/>
<circle cx="1156.5" cy="554.0" r="3.6" fill="#eb5760"/>
<circle cx="1149.8" cy="563.9" r="3.6" fill="#d2426f"/>
<circle cx="1181.0" cy="540.7" r="3.6" fill="#832681"/>
<circle cx="921.3" cy="618.8" r="3.6" fill="#000004"/>
<circle cx="984.9" cy="623.1" r="3.6" fill="#51127c"/>
<circle cx="1150.3" cy="547.8" r="3.6" fill="#fd9869"/>
<circle cx="934.5" cy="625.7" r="3.6" fill="#000004"/>
<circle cx="1204.5" cy="554.4" r="3.6" fill="#fe9f6d"/>
<circle cx="967.1" cy="629.1" r="3.6" fill="#000004"/>
<circle cx="1134.1" cy="711.7" r="3.6" fill="#000004"/>
<circle cx="1058.9" cy="669.5" r="3.6" fill="#000004"/>
<circle cx="1135.4" cy="578.8" r="3.6" fill="#ea5661"/>
<circle cx="942.4" cy="624.8" r="3.6" fill="#000004"/>
<circle cx="957.6" cy="618.0" r="3.6" fill="#000004"/>
<circle cx="1176.7" cy="539.9" r="3.6" fill="#fd9869"/>
<circle cx="1122.1" cy="702.0" r="3.6" fill="#000004"/>
<circle cx="1162.9" cy="737.1" r="3.6" fill="#000004"/>
<circle cx="1054.9" cy="668.2" r="3.6" fill="#000004"/>
<circle cx="1018.0" cy="638.6" r="3.6" fill="#000004"/>
<circle cx="1071.5" cy="655.9" r="3.6" fill="#000004"/>
<circle cx="1109.0" cy="682.6" r="3.6" fill="#000004"/>
<circle cx="970.2" cy="617.5" r="3.6" fill="#000004"/>
<circle cx="1117.4" cy="609.7" r="3.6" fill="#54137d"/>
<circle cx="1174.8" cy="738.6" r="3.6" fill="#000004"/>
<circle cx="1089.2" cy="597.5" r="3.6" fill="#491078"/>
<circle cx="1218.4" cy="541.1" r="3.6" fill="#fde7a9"/>
<circle cx="1178.4" cy="745.3" r="3.6" fill="#000004"/>
<circle cx="999.6" cy="639.5" r="3.6" fill="#000004"/>
<circle cx="1097.6" cy="686.7" r="3.6" fill="#000004"/>
<circle cx="1072.0" cy="675.6" r="3.6" fill="#000004"/>
<circle cx="1031.8" cy="662.9" r="3.6" fill="#000004"/>
<circle cx="1167.6" cy="538.4" r="3.6" fill="#802582"/>
<circle cx="1164.7" cy="742.3" r="3.6" fill="#000004"/>
<circle cx="1197.6" cy="546.1" r="3.6" fill="#962c80"/>
<circle cx="1094.1" cy="680.2" r="3.6" fill="#000004"/>
<circle cx="1228.0" cy="553.7" r="3.6" fill="#f2625d"/>
<circle cx="1040.1" cy="608.9" r="3.6" fill="#57157e"/>
<circle cx="1157.0" cy="747.2" r="3.6" fill="#000004"/>
<circle cx="1153.2" cy="544.2" r="3.6" fill="#f66e5c"/>
<circle cx="1082.2" cy="607.8" r="3.6" fill="#681c81"/>
<circle cx="1097.1" cy="591.7" r="3.6" fill="#621980"/>
<circle cx="1200.7" cy="552.9" r="3.6" fill="#8e2a81"/>
<circle cx="1060.9" cy="615.3" r="3.6" fill="#341069"/>
<circle cx="1092.1" cy="596.3" r="3.6" fill="#601880"/>
<circle cx="1166.5" cy="724.4" r="3.6" fill="#000004"/>
<circle cx="1109.0" cy="589.0" r="3.6" fill="#fde7a9"/>
<circle cx="1143.6" cy="557.6" r="3.6" fill="#6b1d81"/>
<circle cx="1200.8" cy="538.7" r="3.6" fill="#942c80"/>
<circle cx="1179.7" cy="538.7" r="3.6" fill="#a3307e"/>
<circle cx="1055.4" cy="661.7" r="3.6" fill="#000004"/>
<circle cx="1181.0" cy="542.9" r="3.6" fill="#a02f7f"/>
<circle cx="1160.8" cy="564.3" r="3.6" fill="#701f81"/>
<circle cx="1076.5" cy="674.0" r="3.6" fill="#000004"/>
<circle cx="950.7" cy="619.3" r="3.6" fill="#000004"/>
<circle cx="1029.6" cy="639.5" r="3.6" fill="#000004"/>
<circle cx="1143.1" cy="589.4" r="3.6" fill="#892881"/>
<circle cx="928.7" cy="618.0" r="3.6" fill="#000004"/>
<circle cx="941.8" cy="609.8" r="3.6" fill="#000004"/>
<circle cx="962.3" cy="623.1" r="3.6" fill="#000004"/>
<circle cx="1182.9" cy="556.0" r="3.6" fill="#a1307e"/>
<circle cx="1182.1" cy="731.1" r="3.6" fill="#000004"/>
<circle cx="1049.5" cy="642.9" r="3.6" fill="#000004"/>
<circle cx="1190.3" cy="732.3" r="3.6" fill="#000004"/>
<circle cx="1131.8" cy="705.7" r="3.6" fill="#000004"/>
<circle cx="1168.4" cy="737.9" r="3.6" fill="#000004"/>
<circle cx="1110.4" cy="717.3" r="3.6" fill="#000004"/>
<circle cx="932.8" cy="623.5" r="3.6" fill="#000004"/>
<circle cx="1082.2" cy="595.0" r="3.6" fill="#52137c"/>
<circle cx="945.5" cy="623.1" r="3.6" fill="#000004"/>
<circle cx="1018.2" cy="657.8" r="3.6" fill="#000004"/>
<circle cx="962.3" cy="631.3" r="3.6" fill="#000004"/>
<circle cx="1207.9" cy="541.1" r="3.6" fill="#982d80"/>
<circle cx="949.7" cy="620.6" r="3.6" fill="#000004"/>
<circle cx="918.4" cy="624.2" r="3.6" fill="#000004"/>
<circle cx="1119.9" cy="716.9" r="3.6" fill="#000004"/>
<circle cx="1193.8" cy="547.1" r="3.6" fill="#9b2e7f"/>
<circle cx="1152.8" cy="572.2" r="3.6" fill="#d3436e"/>
<circle cx="1171.4" cy="566.6" r="3.6" fill="#db476a"/>
<circle cx="1191.5" cy="539.5" r="3.6" fill="#812581"/>
<circle cx="1137.3" cy="708.0" r="3.6" fill="#000004"/>
<circle cx="1183.5" cy="737.0" r="3.6" fill="#000004"/>
<circle cx="943.0" cy="617.2" r="3.6" fill="#000004"/>
<circle cx="1166.6" cy="554.4" r="3.6" fill="#fea973"/>
<circle cx="1175.7" cy="570.9" r="3.6" fill="#812581"/>
<circle cx="1187.7" cy="546.2" r="3.6" fill="#f56b5c"/>
<circle cx="1172.0" cy="737.6" r="3.6" fill="#000004"/>
<circle cx="924.5" cy="619.7" r="3.6" fill="#000004"/>
<circle cx="937.1" cy="621.4" r="3.6" fill="#000004"/>
<circle cx="1179.7" cy="738.6" r="3.6" fill="#000004"/>
<circle cx="1112.2" cy="699.9" r="3.6" fill="#000004"/>
<circle cx="1023.8" cy="652.8" r="3.6" fill="#000004"/>
<circle cx="939.2" cy="620.9" r="3.6" fill="#000004"/>
<circle cx="1181.0" cy="565.4" r="3.6" fill="#962c80"/>
<circle cx="938.7" cy="619.5" r="3.6" fill="#000004"/>
<circle cx="986.5" cy="630.4" r="3.6" fill="#000004"/>
<circle cx="942.1" cy="618.8" r="3.6" fill="#000004"/>
<circle cx="987.5" cy="626.4" r="3.6" fill="#000004"/>
</g>
<text x="413.0" y="576.3" font-size="25" text-anchor="middle" fill="#000" >Antisense</text>
<text x="409.5" y="600.8" font-size="25" text-anchor="middle" fill="#000" >junctions</text>
<text x="410.0" y="627.0" font-size="25" text-anchor="middle" fill="#000" >(log)</text>
<linearGradient id="g5" x1="0" y1="1" x2="0" y2="0">
<stop offset="0.00" stop-color="#000004"/>
<stop offset="0.10" stop-color="#140e36"/>
<stop offset="0.20" stop-color="#3b0f70"/>
<stop offset="0.30" stop-color="#641a80"/>
<stop offset="0.40" stop-color="#8c2981"/>
<stop offset="0.50" stop-color="#b73779"/>
<stop offset="0.60" stop-color="#de4968"/>
<stop offset="0.70" stop-color="#f7705c"/>
<stop offset="0.80" stop-color="#fe9f6d"/>
<stop offset="0.90" stop-color="#fecf92"/>
<stop offset="1.00" stop-color="#fcfdbf"/>
</linearGradient>
<rect x="394" y="646" width="24.3" height="119.79999999999995" fill="url(#g5)"/>
<rect x="399.3" y="765.6" width="13.7" height="2.2" fill="#000004"/>
<line x1="394" y1="675.7" x2="399" y2="675.7" stroke="#fff" stroke-width="1.5"/>
<line x1="413.3" y1="675.7" x2="418.3" y2="675.7" stroke="#fff" stroke-width="1.5"/>
<line x1="394" y1="706" x2="399" y2="706" stroke="#fff" stroke-width="1.5"/>
<line x1="413.3" y1="706" x2="418.3" y2="706" stroke="#fff" stroke-width="1.5"/>
<line x1="394" y1="736.2" x2="399" y2="736.2" stroke="#fff" stroke-width="1.5"/>
<line x1="413.3" y1="736.2" x2="418.3" y2="736.2" stroke="#fff" stroke-width="1.5"/>
<text x="426.0" y="684.5" font-size="25" text-anchor="start" fill="#000" >2</text>
<text x="426.0" y="714.8" font-size="25" text-anchor="start" fill="#000" >1</text>
<text x="426.0" y="745.0" font-size="25" text-anchor="start" fill="#000" >0</text>
<text x="426.0" y="774.6" font-size="25" text-anchor="start" fill="#000" >−1</text>
<text x="865.6" y="542.0" font-size="25" text-anchor="middle" fill="#000" >Exon1–</text>
<text x="865.0" y="568.0" font-size="25" text-anchor="middle" fill="#000" >Exon2</text>
<text x="861.0" y="594.1" font-size="25" text-anchor="middle" fill="#000" >junction</text>
<text x="861.5" y="619.0" font-size="25" text-anchor="middle" fill="#000" >(log)</text>
<linearGradient id="g6" x1="0" y1="1" x2="0" y2="0">
<stop offset="0.00" stop-color="#000004"/>
<stop offset="0.10" stop-color="#140e36"/>
<stop offset="0.20" stop-color="#3b0f70"/>
<stop offset="0.30" stop-color="#641a80"/>
<stop offset="0.40" stop-color="#8c2981"/>
<stop offset="0.50" stop-color="#b73779"/>
<stop offset="0.60" stop-color="#de4968"/>
<stop offset="0.70" stop-color="#f7705c"/>
<stop offset="0.80" stop-color="#fe9f6d"/>
<stop offset="0.90" stop-color="#fecf92"/>
<stop offset="1.00" stop-color="#fcfdbf"/>
</linearGradient>
<rect x="849" y="646.2" width="25.1" height="119.09999999999991" fill="url(#g6)"/>
<rect x="854.3" y="765.1" width="14.5" height="2.2" fill="#000004"/>
<line x1="849" y1="657.6" x2="854" y2="657.6" stroke="#fff" stroke-width="1.5"/>
<line x1="869.1" y1="657.6" x2="874.1" y2="657.6" stroke="#fff" stroke-width="1.5"/>
<line x1="849" y1="694.2" x2="854" y2="694.2" stroke="#fff" stroke-width="1.5"/>
<line x1="869.1" y1="694.2" x2="874.1" y2="694.2" stroke="#fff" stroke-width="1.5"/>
<line x1="849" y1="730.3" x2="854" y2="730.3" stroke="#fff" stroke-width="1.5"/>
<line x1="869.1" y1="730.3" x2="874.1" y2="730.3" stroke="#fff" stroke-width="1.5"/>
<text x="881.0" y="666.4" font-size="25" text-anchor="start" fill="#000" >2</text>
<text x="881.0" y="703.0" font-size="25" text-anchor="start" fill="#000" >1</text>
<text x="881.0" y="739.1" font-size="25" text-anchor="start" fill="#000" >0</text>
<text x="881.0" y="774.1" font-size="25" text-anchor="start" fill="#000" >−1</text>
<text x="1315.0" y="574.6" font-size="25" text-anchor="middle" fill="#000" >Normalized</text>
<text x="1314.3" y="601.3" font-size="25" text-anchor="middle" fill="#000" >GFP</text>
<text x="1311.2" y="626.4" font-size="25" text-anchor="middle" fill="#000" >expression</text>
<linearGradient id="g7" x1="0" y1="1" x2="0" y2="0">
<stop offset="0.00" stop-color="#000004"/>
<stop offset="0.10" stop-color="#140e36"/>
<stop offset="0.20" stop-color="#3b0f70"/>
<stop offset="0.30" stop-color="#641a80"/>
<stop offset="0.40" stop-color="#8c2981"/>
<stop offset="0.50" stop-color="#b73779"/>
<stop offset="0.60" stop-color="#de4968"/>
<stop offset="0.70" stop-color="#f7705c"/>
<stop offset="0.80" stop-color="#fe9f6d"/>
<stop offset="0.90" stop-color="#fecf92"/>
<stop offset="1.00" stop-color="#fcfdbf"/>
</linearGradient>
<rect x="1290.6" y="643.7" width="24.5" height="119.39999999999998" fill="url(#g7)"/>
<rect x="1295.9" y="762.9" width="13.9" height="2.2" fill="#000004"/>
<line x1="1290.6" y1="676" x2="1295.6" y2="676" stroke="#fff" stroke-width="1.5"/>
<line x1="1310.1" y1="676" x2="1315.1" y2="676" stroke="#fff" stroke-width="1.5"/>
<line x1="1290.6" y1="720" x2="1295.6" y2="720" stroke="#fff" stroke-width="1.5"/>
<line x1="1310.1" y1="720" x2="1315.1" y2="720" stroke="#fff" stroke-width="1.5"/>
<text x="1325.0" y="684.8" font-size="25" text-anchor="start" fill="#000" >10</text>
<text x="1325.0" y="728.8" font-size="25" text-anchor="start" fill="#000" >5</text>
<text x="1325.0" y="771.9" font-size="25" text-anchor="start" fill="#000" >0</text>
<text transform="translate(2.4,802.4) scale(1.05,1)" font-size="34" font-weight="bold" stroke="#000" stroke-width="1.1" stroke-linejoin="round">c</text>
<text x="187" y="821.1" font-size="25" text-anchor="middle">Row <tspan font-style="italic">Z</tspan>-score</text>
<linearGradient id="g8" x1="0" y1="0" x2="1" y2="0">
<stop offset="0.00" stop-color="#000004"/>
<stop offset="0.05" stop-color="#06051a"/>
<stop offset="0.10" stop-color="#140e36"/>
<stop offset="0.15" stop-color="#251255"/>
<stop offset="0.20" stop-color="#3b0f70"/>
<stop offset="0.25" stop-color="#51127c"/>
<stop offset="0.30" stop-color="#641a80"/>
<stop offset="0.35" stop-color="#782281"/>
<stop offset="0.40" stop-color="#8c2981"/>
<stop offset="0.45" stop-color="#a1307e"/>
<stop offset="0.50" stop-color="#b73779"/>
<stop offset="0.55" stop-color="#ca3e72"/>
<stop offset="0.60" stop-color="#de4968"/>
<stop offset="0.65" stop-color="#ed5a5f"/>
<stop offset="0.70" stop-color="#f7705c"/>
<stop offset="0.75" stop-color="#fc8961"/>
<stop offset="0.80" stop-color="#fe9f6d"/>
<stop offset="0.85" stop-color="#feb77e"/>
<stop offset="0.90" stop-color="#fecf92"/>
<stop offset="0.95" stop-color="#fde7a9"/>
<stop offset="1.00" stop-color="#fcfdbf"/>
</linearGradient>
<rect x="82.8" y="830.9" width="214.7" height="26.2" fill="url(#g8)"/>
<line x1="86.9" y1="857" x2="86.9" y2="863.6" stroke="#000" stroke-width="2"/>
<text x="79.4" y="890.0" font-size="25" text-anchor="middle" fill="#000" >−4</text>
<line x1="136.5" y1="857" x2="136.5" y2="863.6" stroke="#000" stroke-width="2"/>
<text x="129.0" y="890.0" font-size="25" text-anchor="middle" fill="#000" >−2</text>
<line x1="189.8" y1="857" x2="189.8" y2="863.6" stroke="#000" stroke-width="2"/>
<text x="189.8" y="890.0" font-size="25" text-anchor="middle" fill="#000" >0</text>
<line x1="242.7" y1="857" x2="242.7" y2="863.6" stroke="#000" stroke-width="2"/>
<text x="242.7" y="890.0" font-size="25" text-anchor="middle" fill="#000" >2</text>
<line x1="295.7" y1="857" x2="295.7" y2="863.6" stroke="#000" stroke-width="2"/>
<text x="295.7" y="890.0" font-size="25" text-anchor="middle" fill="#000" >4</text>
<text x="632.5" y="832.0" font-size="25" text-anchor="middle" fill="#000" >Female lineage</text>
<text x="1137.0" y="831.6" font-size="25" text-anchor="middle" fill="#000" >Male lineage</text>
<path d="M375 846.8H892.8" stroke="#000" stroke-width="2"/>
<path d="M367.1 846.8L383.5 840.6L379 846.8L383.5 853Z" fill="#000"/>
<path d="M899.3 846.8H1371" stroke="#000" stroke-width="2"/>
<path d="M1378.7 846.8L1362.3 840.6L1366.8 846.8L1362.3 853Z" fill="#000"/>
<rect x="364.4" y="861" width="312.2" height="40.8" fill="#cc6739"/>
<rect x="676.6" y="861" width="427.5" height="40.8" fill="#ebb124"/>
<rect x="1104.1" y="861" width="273" height="40.8" fill="#493c8b"/>
<text x="522.5" y="888.5" font-size="25" text-anchor="middle" fill="#fff" >Female</text>
<text x="889.0" y="888.9" font-size="25" text-anchor="middle" fill="#fff" >Progenitor</text>
<text x="1244.7" y="888.7" font-size="25" text-anchor="middle" fill="#fff" >Male</text>
<text x="354.0" y="935.3" font-size="25" text-anchor="end" fill="#000" >Antisense junctions (lncRNA)</text>
<text x="354.0" y="974.4" font-size="25" text-anchor="end" fill="#000" >Exon 1–Exon 2 junction (mRNA)</text>
<text x="354.0" y="1013.2" font-size="25" text-anchor="end" fill="#000" >Exon 2–Exon 3 junction</text>
<text x="354.0" y="1053.4" font-size="25" text-anchor="end" fill="#000" >Exon 3–Exon 4 junction</text>
<text x="354.0" y="1093.0" font-size="25" text-anchor="end" fill="#000" >Protein expression</text>
<g shape-rendering="crispEdges">
<rect x="364.40" y="907.2" width="5.41" height="38.8" fill="#fc8961"/>
<rect x="369.46" y="907.2" width="3.73" height="38.8" fill="#fea973"/>
<rect x="372.84" y="907.2" width="5.41" height="38.8" fill="#fc8961"/>
<rect x="377.90" y="907.2" width="5.41" height="38.8" fill="#f8745c"/>
<rect x="382.97" y="907.2" width="5.41" height="38.8" fill="#fc8a62"/>
<rect x="388.03" y="907.2" width="2.04" height="38.8" fill="#fea36f"/>
<rect x="389.72" y="907.2" width="2.04" height="38.8" fill="#fc8961"/>
<rect x="391.41" y="907.2" width="7.10" height="38.8" fill="#f66c5c"/>
<rect x="398.16" y="907.2" width="3.73" height="38.8" fill="#962c80"/>
<rect x="401.53" y="907.2" width="2.04" height="38.8" fill="#fd9869"/>
<rect x="403.22" y="907.2" width="3.73" height="38.8" fill="#feb27a"/>
<rect x="406.60" y="907.2" width="10.48" height="38.8" fill="#fd9869"/>
<rect x="416.72" y="907.2" width="5.41" height="38.8" fill="#f4675c"/>
<rect x="421.79" y="907.2" width="2.04" height="38.8" fill="#f56b5c"/>
<rect x="423.47" y="907.2" width="2.04" height="38.8" fill="#f8745c"/>
<rect x="425.16" y="907.2" width="3.73" height="38.8" fill="#fd9467"/>
<rect x="428.54" y="907.2" width="5.41" height="38.8" fill="#fa7f5e"/>
<rect x="433.60" y="907.2" width="5.41" height="38.8" fill="#fea772"/>
<rect x="438.66" y="907.2" width="3.73" height="38.8" fill="#f9785d"/>
<rect x="442.04" y="907.2" width="7.10" height="38.8" fill="#fc8c63"/>
<rect x="448.79" y="907.2" width="7.10" height="38.8" fill="#f66c5c"/>
<rect x="455.54" y="907.2" width="5.41" height="38.8" fill="#f97b5d"/>
<rect x="460.61" y="907.2" width="2.04" height="38.8" fill="#feb27a"/>
<rect x="462.29" y="907.2" width="3.73" height="38.8" fill="#fe9d6c"/>
<rect x="465.67" y="907.2" width="5.41" height="38.8" fill="#fea16e"/>
<rect x="470.73" y="907.2" width="2.04" height="38.8" fill="#f97b5d"/>
<rect x="472.42" y="907.2" width="2.04" height="38.8" fill="#fd9266"/>
<rect x="474.11" y="907.2" width="3.73" height="38.8" fill="#fb8560"/>
<rect x="477.48" y="907.2" width="2.04" height="38.8" fill="#fb835f"/>
<rect x="479.17" y="907.2" width="2.04" height="38.8" fill="#fea772"/>
<rect x="480.86" y="907.2" width="2.04" height="38.8" fill="#f8765c"/>
<rect x="482.55" y="907.2" width="7.10" height="38.8" fill="#fc8a62"/>
<rect x="489.30" y="907.2" width="2.04" height="38.8" fill="#fb8560"/>
<rect x="490.99" y="907.2" width="2.04" height="38.8" fill="#fd9266"/>
<rect x="492.68" y="907.2" width="3.73" height="38.8" fill="#962c80"/>
<rect x="496.05" y="907.2" width="7.10" height="38.8" fill="#fa7f5e"/>
<rect x="502.80" y="907.2" width="2.04" height="38.8" fill="#fea16e"/>
<rect x="504.49" y="907.2" width="7.10" height="38.8" fill="#f7705c"/>
<rect x="511.24" y="907.2" width="2.04" height="38.8" fill="#f66e5c"/>
<rect x="512.93" y="907.2" width="3.73" height="38.8" fill="#fc8a62"/>
<rect x="516.30" y="907.2" width="10.48" height="38.8" fill="#f8745c"/>
<rect x="526.43" y="907.2" width="2.04" height="38.8" fill="#962c80"/>
<rect x="528.12" y="907.2" width="5.41" height="38.8" fill="#f8745c"/>
<rect x="533.18" y="907.2" width="3.73" height="38.8" fill="#fea16e"/>
<rect x="536.56" y="907.2" width="2.04" height="38.8" fill="#fd9869"/>
<rect x="538.25" y="907.2" width="2.04" height="38.8" fill="#fb8560"/>
<rect x="539.93" y="907.2" width="5.41" height="38.8" fill="#f4675c"/>
<rect x="545.00" y="907.2" width="2.04" height="38.8" fill="#fa7d5e"/>
<rect x="546.69" y="907.2" width="3.73" height="38.8" fill="#f8765c"/>
<rect x="550.06" y="907.2" width="5.41" height="38.8" fill="#feb27a"/>
<rect x="555.13" y="907.2" width="2.04" height="38.8" fill="#fd9869"/>
<rect x="556.81" y="907.2" width="2.04" height="38.8" fill="#f4695c"/>
<rect x="558.50" y="907.2" width="3.73" height="38.8" fill="#f8765c"/>
<rect x="561.88" y="907.2" width="5.41" height="38.8" fill="#f4675c"/>
<rect x="566.94" y="907.2" width="3.73" height="38.8" fill="#962c80"/>
<rect x="570.32" y="907.2" width="2.04" height="38.8" fill="#fb835f"/>
<rect x="572.00" y="907.2" width="3.73" height="38.8" fill="#f66c5c"/>
<rect x="575.38" y="907.2" width="2.04" height="38.8" fill="#962c80"/>
<rect x="577.07" y="907.2" width="2.04" height="38.8" fill="#fd9869"/>
<rect x="578.75" y="907.2" width="3.73" height="38.8" fill="#fd9467"/>
<rect x="582.13" y="907.2" width="2.04" height="38.8" fill="#fd9668"/>
<rect x="583.82" y="907.2" width="3.73" height="38.8" fill="#feb078"/>
<rect x="587.19" y="907.2" width="2.04" height="38.8" fill="#fea772"/>
<rect x="588.88" y="907.2" width="2.04" height="38.8" fill="#fea973"/>
<rect x="590.57" y="907.2" width="2.04" height="38.8" fill="#fd9668"/>
<rect x="592.26" y="907.2" width="2.04" height="38.8" fill="#962c80"/>
<rect x="593.95" y="907.2" width="3.73" height="38.8" fill="#feac76"/>
<rect x="597.32" y="907.2" width="3.73" height="38.8" fill="#962c80"/>
<rect x="600.70" y="907.2" width="7.10" height="38.8" fill="#f7725c"/>
<rect x="607.45" y="907.2" width="2.04" height="38.8" fill="#feae77"/>
<rect x="609.14" y="907.2" width="3.73" height="38.8" fill="#fd9b6b"/>
<rect x="612.51" y="907.2" width="3.73" height="38.8" fill="#962c80"/>
<rect x="615.89" y="907.2" width="2.04" height="38.8" fill="#feaa74"/>
<rect x="617.57" y="907.2" width="3.73" height="38.8" fill="#962c80"/>
<rect x="620.95" y="907.2" width="3.73" height="38.8" fill="#fc8e64"/>
<rect x="624.33" y="907.2" width="12.16" height="38.8" fill="#962c80"/>
<rect x="636.14" y="907.2" width="2.04" height="38.8" fill="#fea571"/>
<rect x="637.83" y="907.2" width="2.04" height="38.8" fill="#962c80"/>
<rect x="639.52" y="907.2" width="5.41" height="38.8" fill="#fc8c63"/>
<rect x="644.58" y="907.2" width="2.04" height="38.8" fill="#f8745c"/>
<rect x="646.27" y="907.2" width="20.60" height="38.8" fill="#962c80"/>
<rect x="666.52" y="907.2" width="2.04" height="38.8" fill="#f8765c"/>
<rect x="668.21" y="907.2" width="2.04" height="38.8" fill="#fe9f6d"/>
<rect x="669.90" y="907.2" width="2.04" height="38.8" fill="#962c80"/>
<rect x="671.59" y="907.2" width="2.04" height="38.8" fill="#f97b5d"/>
<rect x="673.27" y="907.2" width="2.04" height="38.8" fill="#f9795d"/>
<rect x="674.96" y="907.2" width="5.41" height="38.8" fill="#962c80"/>
<rect x="680.02" y="907.2" width="2.04" height="38.8" fill="#f66c5c"/>
<rect x="681.71" y="907.2" width="89.81" height="38.8" fill="#962c80"/>
<rect x="771.17" y="907.2" width="3.73" height="38.8" fill="#f7705c"/>
<rect x="774.54" y="907.2" width="233.27" height="38.8" fill="#962c80"/>
<rect x="1007.46" y="907.2" width="3.73" height="38.8" fill="#f7705c"/>
<rect x="1010.84" y="907.2" width="72.93" height="38.8" fill="#962c80"/>
<rect x="1083.42" y="907.2" width="3.73" height="38.8" fill="#f7705c"/>
<rect x="1086.79" y="907.2" width="22.29" height="38.8" fill="#962c80"/>
<rect x="1108.73" y="907.2" width="3.73" height="38.8" fill="#f7705c"/>
<rect x="1112.11" y="907.2" width="12.16" height="38.8" fill="#962c80"/>
<rect x="1123.92" y="907.2" width="3.73" height="38.8" fill="#f7705c"/>
<rect x="1127.30" y="907.2" width="250.15" height="38.8" fill="#962c80"/>
<rect x="364.40" y="946" width="332.85" height="39.0" fill="#a02f7f"/>
<rect x="696.90" y="946" width="5.41" height="39.0" fill="#fe9f6d"/>
<rect x="701.97" y="946" width="10.48" height="39.0" fill="#a02f7f"/>
<rect x="712.09" y="946" width="2.04" height="39.0" fill="#fe9f6d"/>
<rect x="713.78" y="946" width="368.30" height="39.0" fill="#a02f7f"/>
<rect x="1081.73" y="946" width="3.73" height="39.0" fill="#febb81"/>
<rect x="1085.10" y="946" width="7.10" height="39.0" fill="#a02f7f"/>
<rect x="1091.86" y="946" width="2.04" height="39.0" fill="#fec68a"/>
<rect x="1093.54" y="946" width="8.79" height="39.0" fill="#a02f7f"/>
<rect x="1101.98" y="946" width="3.73" height="39.0" fill="#fed799"/>
<rect x="1105.36" y="946" width="2.04" height="39.0" fill="#fecc8f"/>
<rect x="1107.05" y="946" width="2.04" height="39.0" fill="#a02f7f"/>
<rect x="1108.73" y="946" width="3.73" height="39.0" fill="#fed395"/>
<rect x="1112.11" y="946" width="5.41" height="39.0" fill="#a02f7f"/>
<rect x="1117.17" y="946" width="5.41" height="39.0" fill="#fecd90"/>
<rect x="1122.24" y="946" width="2.04" height="39.0" fill="#feb77e"/>
<rect x="1123.92" y="946" width="2.04" height="39.0" fill="#a02f7f"/>
<rect x="1125.61" y="946" width="2.04" height="39.0" fill="#feb77e"/>
<rect x="1127.30" y="946" width="3.73" height="39.0" fill="#fea973"/>
<rect x="1130.68" y="946" width="20.60" height="39.0" fill="#a02f7f"/>
<rect x="1150.93" y="946" width="3.73" height="39.0" fill="#fd9b6b"/>
<rect x="1154.31" y="946" width="2.04" height="39.0" fill="#febf84"/>
<rect x="1155.99" y="946" width="5.41" height="39.0" fill="#fecd90"/>
<rect x="1161.06" y="946" width="3.73" height="39.0" fill="#a02f7f"/>
<rect x="1164.43" y="946" width="3.73" height="39.0" fill="#fea772"/>
<rect x="1167.81" y="946" width="5.41" height="39.0" fill="#a02f7f"/>
<rect x="1172.87" y="946" width="2.04" height="39.0" fill="#feb27a"/>
<rect x="1174.56" y="946" width="2.04" height="39.0" fill="#fd9668"/>
<rect x="1176.25" y="946" width="2.04" height="39.0" fill="#fea16e"/>
<rect x="1177.94" y="946" width="3.73" height="39.0" fill="#a02f7f"/>
<rect x="1181.31" y="946" width="2.04" height="39.0" fill="#fea16e"/>
<rect x="1183.00" y="946" width="3.73" height="39.0" fill="#fa815f"/>
<rect x="1186.37" y="946" width="5.41" height="39.0" fill="#fc8c63"/>
<rect x="1191.44" y="946" width="3.73" height="39.0" fill="#fea16e"/>
<rect x="1194.81" y="946" width="3.73" height="39.0" fill="#fc8961"/>
<rect x="1198.19" y="946" width="3.73" height="39.0" fill="#a02f7f"/>
<rect x="1201.57" y="946" width="2.04" height="39.0" fill="#fa815f"/>
<rect x="1203.25" y="946" width="3.73" height="39.0" fill="#a02f7f"/>
<rect x="1206.63" y="946" width="5.41" height="39.0" fill="#fed89a"/>
<rect x="1211.69" y="946" width="5.41" height="39.0" fill="#a02f7f"/>
<rect x="1216.76" y="946" width="2.04" height="39.0" fill="#fb835f"/>
<rect x="1218.44" y="946" width="3.73" height="39.0" fill="#a02f7f"/>
<rect x="1221.82" y="946" width="2.04" height="39.0" fill="#feb97f"/>
<rect x="1223.51" y="946" width="3.73" height="39.0" fill="#a02f7f"/>
<rect x="1226.88" y="946" width="2.04" height="39.0" fill="#fed597"/>
<rect x="1228.57" y="946" width="2.04" height="39.0" fill="#feb77e"/>
<rect x="1230.26" y="946" width="2.04" height="39.0" fill="#fecc8f"/>
<rect x="1231.95" y="946" width="18.92" height="39.0" fill="#a02f7f"/>
<rect x="1250.51" y="946" width="3.73" height="39.0" fill="#fc8c63"/>
<rect x="1253.89" y="946" width="8.79" height="39.0" fill="#a02f7f"/>
<rect x="1262.33" y="946" width="3.73" height="39.0" fill="#fe9d6c"/>
<rect x="1265.70" y="946" width="3.73" height="39.0" fill="#fec185"/>
<rect x="1269.08" y="946" width="3.73" height="39.0" fill="#a02f7f"/>
<rect x="1272.45" y="946" width="2.04" height="39.0" fill="#fec185"/>
<rect x="1274.14" y="946" width="3.73" height="39.0" fill="#feb97f"/>
<rect x="1277.52" y="946" width="2.04" height="39.0" fill="#a02f7f"/>
<rect x="1279.21" y="946" width="2.04" height="39.0" fill="#fc8a62"/>
<rect x="1280.89" y="946" width="2.04" height="39.0" fill="#febf84"/>
<rect x="1282.58" y="946" width="3.73" height="39.0" fill="#a02f7f"/>
<rect x="1285.96" y="946" width="2.04" height="39.0" fill="#fd9869"/>
<rect x="1287.64" y="946" width="5.41" height="39.0" fill="#feb078"/>
<rect x="1292.71" y="946" width="3.73" height="39.0" fill="#a02f7f"/>
<rect x="1296.08" y="946" width="2.04" height="39.0" fill="#feb77e"/>
<rect x="1297.77" y="946" width="5.41" height="39.0" fill="#a02f7f"/>
<rect x="1302.84" y="946" width="2.04" height="39.0" fill="#fb835f"/>
<rect x="1304.52" y="946" width="2.04" height="39.0" fill="#a02f7f"/>
<rect x="1306.21" y="946" width="5.41" height="39.0" fill="#fb835f"/>
<rect x="1311.27" y="946" width="5.41" height="39.0" fill="#a02f7f"/>
<rect x="1316.34" y="946" width="3.73" height="39.0" fill="#fa7d5e"/>
<rect x="1319.71" y="946" width="2.04" height="39.0" fill="#fec488"/>
<rect x="1321.40" y="946" width="3.73" height="39.0" fill="#a02f7f"/>
<rect x="1324.78" y="946" width="2.04" height="39.0" fill="#fec88c"/>
<rect x="1326.46" y="946" width="3.73" height="39.0" fill="#a02f7f"/>
<rect x="1329.84" y="946" width="2.04" height="39.0" fill="#feb47b"/>
<rect x="1331.53" y="946" width="2.04" height="39.0" fill="#fc8961"/>
<rect x="1333.22" y="946" width="2.04" height="39.0" fill="#fec287"/>
<rect x="1334.90" y="946" width="2.04" height="39.0" fill="#fecf92"/>
<rect x="1336.59" y="946" width="2.04" height="39.0" fill="#feae77"/>
<rect x="1338.28" y="946" width="2.04" height="39.0" fill="#fd9b6b"/>
<rect x="1339.97" y="946" width="2.04" height="39.0" fill="#fea973"/>
<rect x="1341.66" y="946" width="2.04" height="39.0" fill="#fb8761"/>
<rect x="1343.34" y="946" width="2.04" height="39.0" fill="#febd82"/>
<rect x="1345.03" y="946" width="2.04" height="39.0" fill="#fed799"/>
<rect x="1346.72" y="946" width="2.04" height="39.0" fill="#feaa74"/>
<rect x="1348.41" y="946" width="2.04" height="39.0" fill="#febd82"/>
<rect x="1350.09" y="946" width="2.04" height="39.0" fill="#feca8d"/>
<rect x="1351.78" y="946" width="2.04" height="39.0" fill="#fc8c63"/>
<rect x="1353.47" y="946" width="2.04" height="39.0" fill="#a02f7f"/>
<rect x="1355.16" y="946" width="2.04" height="39.0" fill="#fed395"/>
<rect x="1356.85" y="946" width="2.04" height="39.0" fill="#feb67c"/>
<rect x="1358.53" y="946" width="2.04" height="39.0" fill="#fc8c63"/>
<rect x="1360.22" y="946" width="2.04" height="39.0" fill="#fa815f"/>
<rect x="1361.91" y="946" width="2.04" height="39.0" fill="#fc9065"/>
<rect x="1363.60" y="946" width="13.85" height="39.0" fill="#a02f7f"/>
<rect x="364.40" y="985" width="7.10" height="38.5" fill="#f2645c"/>
<rect x="371.15" y="985" width="2.04" height="38.5" fill="#eb5760"/>
<rect x="372.84" y="985" width="3.73" height="38.5" fill="#f9795d"/>
<rect x="376.21" y="985" width="2.04" height="38.5" fill="#e95462"/>
<rect x="377.90" y="985" width="2.04" height="38.5" fill="#ef5d5e"/>
<rect x="379.59" y="985" width="7.10" height="38.5" fill="#842681"/>
<rect x="386.34" y="985" width="3.73" height="38.5" fill="#e44f64"/>
<rect x="389.72" y="985" width="5.41" height="38.5" fill="#f2625d"/>
<rect x="394.78" y="985" width="3.73" height="38.5" fill="#e04c67"/>
<rect x="398.16" y="985" width="7.10" height="38.5" fill="#e55064"/>
<rect x="404.91" y="985" width="2.04" height="38.5" fill="#fa7d5e"/>
<rect x="406.60" y="985" width="5.41" height="38.5" fill="#842681"/>
<rect x="411.66" y="985" width="3.73" height="38.5" fill="#ea5661"/>
<rect x="415.03" y="985" width="5.41" height="38.5" fill="#e85362"/>
<rect x="420.10" y="985" width="2.04" height="38.5" fill="#ec5860"/>
<rect x="421.79" y="985" width="2.04" height="38.5" fill="#e55064"/>
<rect x="423.47" y="985" width="5.41" height="38.5" fill="#842681"/>
<rect x="428.54" y="985" width="2.04" height="38.5" fill="#f7725c"/>
<rect x="430.23" y="985" width="2.04" height="38.5" fill="#df4a68"/>
<rect x="431.91" y="985" width="2.04" height="38.5" fill="#f7705c"/>
<rect x="433.60" y="985" width="5.41" height="38.5" fill="#842681"/>
<rect x="438.66" y="985" width="7.10" height="38.5" fill="#e44f64"/>
<rect x="445.42" y="985" width="3.73" height="38.5" fill="#f8745c"/>
<rect x="448.79" y="985" width="2.04" height="38.5" fill="#f4675c"/>
<rect x="450.48" y="985" width="5.41" height="38.5" fill="#842681"/>
<rect x="455.54" y="985" width="2.04" height="38.5" fill="#f7725c"/>
<rect x="457.23" y="985" width="2.04" height="38.5" fill="#e44f64"/>
<rect x="458.92" y="985" width="2.04" height="38.5" fill="#842681"/>
<rect x="460.61" y="985" width="2.04" height="38.5" fill="#f05f5e"/>
<rect x="462.29" y="985" width="2.04" height="38.5" fill="#f2625d"/>
<rect x="463.98" y="985" width="2.04" height="38.5" fill="#f2645c"/>
<rect x="465.67" y="985" width="5.41" height="38.5" fill="#842681"/>
<rect x="470.73" y="985" width="2.04" height="38.5" fill="#e95462"/>
<rect x="472.42" y="985" width="2.04" height="38.5" fill="#f9795d"/>
<rect x="474.11" y="985" width="2.04" height="38.5" fill="#f4675c"/>
<rect x="475.80" y="985" width="2.04" height="38.5" fill="#f66c5c"/>
<rect x="477.48" y="985" width="3.73" height="38.5" fill="#ee5b5e"/>
<rect x="480.86" y="985" width="3.73" height="38.5" fill="#f3655c"/>
<rect x="484.24" y="985" width="5.41" height="38.5" fill="#ec5860"/>
<rect x="489.30" y="985" width="3.73" height="38.5" fill="#f9785d"/>
<rect x="492.68" y="985" width="3.73" height="38.5" fill="#842681"/>
<rect x="496.05" y="985" width="2.04" height="38.5" fill="#f66e5c"/>
<rect x="497.74" y="985" width="3.73" height="38.5" fill="#f05f5e"/>
<rect x="501.11" y="985" width="7.10" height="38.5" fill="#f8745c"/>
<rect x="507.87" y="985" width="2.04" height="38.5" fill="#ee5b5e"/>
<rect x="509.55" y="985" width="3.73" height="38.5" fill="#842681"/>
<rect x="512.93" y="985" width="5.41" height="38.5" fill="#f9785d"/>
<rect x="517.99" y="985" width="3.73" height="38.5" fill="#842681"/>
<rect x="521.37" y="985" width="2.04" height="38.5" fill="#eb5760"/>
<rect x="523.06" y="985" width="2.04" height="38.5" fill="#ee5b5e"/>
<rect x="524.74" y="985" width="2.04" height="38.5" fill="#eb5760"/>
<rect x="526.43" y="985" width="5.41" height="38.5" fill="#ea5661"/>
<rect x="531.50" y="985" width="7.10" height="38.5" fill="#f9785d"/>
<rect x="538.25" y="985" width="3.73" height="38.5" fill="#ed5a5f"/>
<rect x="541.62" y="985" width="2.04" height="38.5" fill="#f66e5c"/>
<rect x="543.31" y="985" width="2.04" height="38.5" fill="#842681"/>
<rect x="545.00" y="985" width="2.04" height="38.5" fill="#f8765c"/>
<rect x="546.69" y="985" width="7.10" height="38.5" fill="#e85362"/>
<rect x="553.44" y="985" width="3.73" height="38.5" fill="#f97b5d"/>
<rect x="556.81" y="985" width="5.41" height="38.5" fill="#f56b5c"/>
<rect x="561.88" y="985" width="5.41" height="38.5" fill="#f9785d"/>
<rect x="566.94" y="985" width="3.73" height="38.5" fill="#842681"/>
<rect x="570.32" y="985" width="2.04" height="38.5" fill="#f9795d"/>
<rect x="572.00" y="985" width="7.10" height="38.5" fill="#fa7d5e"/>
<rect x="578.75" y="985" width="7.10" height="38.5" fill="#f97b5d"/>
<rect x="585.51" y="985" width="5.41" height="38.5" fill="#ec5860"/>
<rect x="590.57" y="985" width="2.04" height="38.5" fill="#ee5b5e"/>
<rect x="592.26" y="985" width="2.04" height="38.5" fill="#e75263"/>
<rect x="593.95" y="985" width="7.10" height="38.5" fill="#842681"/>
<rect x="600.70" y="985" width="2.04" height="38.5" fill="#f9785d"/>
<rect x="602.38" y="985" width="2.04" height="38.5" fill="#f1605d"/>
<rect x="604.07" y="985" width="5.41" height="38.5" fill="#e34e65"/>
<rect x="609.14" y="985" width="3.73" height="38.5" fill="#f2645c"/>
<rect x="612.51" y="985" width="2.04" height="38.5" fill="#de4968"/>
<rect x="614.20" y="985" width="3.73" height="38.5" fill="#842681"/>
<rect x="617.57" y="985" width="2.04" height="38.5" fill="#ef5d5e"/>
<rect x="619.26" y="985" width="3.73" height="38.5" fill="#842681"/>
<rect x="622.64" y="985" width="2.04" height="38.5" fill="#f7725c"/>
<rect x="624.33" y="985" width="5.41" height="38.5" fill="#842681"/>
<rect x="629.39" y="985" width="2.04" height="38.5" fill="#e44f64"/>
<rect x="631.08" y="985" width="3.73" height="38.5" fill="#842681"/>
<rect x="634.45" y="985" width="2.04" height="38.5" fill="#ea5661"/>
<rect x="636.14" y="985" width="3.73" height="38.5" fill="#f9785d"/>
<rect x="639.52" y="985" width="2.04" height="38.5" fill="#eb5760"/>
<rect x="641.20" y="985" width="3.73" height="38.5" fill="#f9795d"/>
<rect x="644.58" y="985" width="3.73" height="38.5" fill="#842681"/>
<rect x="647.96" y="985" width="3.73" height="38.5" fill="#ea5661"/>
<rect x="651.33" y="985" width="13.85" height="38.5" fill="#842681"/>
<rect x="664.83" y="985" width="5.41" height="38.5" fill="#ea5661"/>
<rect x="669.90" y="985" width="2.04" height="38.5" fill="#842681"/>
<rect x="671.59" y="985" width="3.73" height="38.5" fill="#ea5661"/>
<rect x="674.96" y="985" width="7.10" height="38.5" fill="#842681"/>
<rect x="681.71" y="985" width="3.73" height="38.5" fill="#ea5661"/>
<rect x="685.09" y="985" width="7.10" height="38.5" fill="#842681"/>
<rect x="691.84" y="985" width="3.73" height="38.5" fill="#ea5661"/>
<rect x="695.22" y="985" width="2.04" height="38.5" fill="#842681"/>
<rect x="696.90" y="985" width="5.41" height="38.5" fill="#ea5661"/>
<rect x="701.97" y="985" width="2.04" height="38.5" fill="#842681"/>
<rect x="703.65" y="985" width="3.73" height="38.5" fill="#ea5661"/>
<rect x="707.03" y="985" width="5.41" height="38.5" fill="#842681"/>
<rect x="712.09" y="985" width="2.04" height="38.5" fill="#ea5661"/>
<rect x="713.78" y="985" width="20.60" height="38.5" fill="#842681"/>
<rect x="734.04" y="985" width="3.73" height="38.5" fill="#ea5661"/>
<rect x="737.41" y="985" width="13.85" height="38.5" fill="#842681"/>
<rect x="750.91" y="985" width="3.73" height="38.5" fill="#ea5661"/>
<rect x="754.29" y="985" width="27.36" height="38.5" fill="#842681"/>
<rect x="781.29" y="985" width="3.73" height="38.5" fill="#ea5661"/>
<rect x="784.67" y="985" width="17.23" height="38.5" fill="#842681"/>
<rect x="801.55" y="985" width="3.73" height="38.5" fill="#ea5661"/>
<rect x="804.92" y="985" width="3.73" height="38.5" fill="#842681"/>
<rect x="808.30" y="985" width="3.73" height="38.5" fill="#ea5661"/>
<rect x="811.68" y="985" width="12.16" height="38.5" fill="#842681"/>
<rect x="823.49" y="985" width="3.73" height="38.5" fill="#ea5661"/>
<rect x="826.87" y="985" width="3.73" height="38.5" fill="#842681"/>
<rect x="830.24" y="985" width="3.73" height="38.5" fill="#ea5661"/>
<rect x="833.62" y="985" width="113.43" height="38.5" fill="#842681"/>
<rect x="946.70" y="985" width="3.73" height="38.5" fill="#ea5661"/>
<rect x="950.08" y="985" width="5.41" height="38.5" fill="#842681"/>
<rect x="955.14" y="985" width="3.73" height="38.5" fill="#ea5661"/>
<rect x="958.52" y="985" width="12.16" height="38.5" fill="#842681"/>
<rect x="970.33" y="985" width="2.04" height="38.5" fill="#ea5661"/>
<rect x="972.02" y="985" width="5.41" height="38.5" fill="#842681"/>
<rect x="977.08" y="985" width="3.73" height="38.5" fill="#ea5661"/>
<rect x="980.46" y="985" width="17.23" height="38.5" fill="#842681"/>
<rect x="997.34" y="985" width="3.73" height="38.5" fill="#ea5661"/>
<rect x="1000.71" y="985" width="30.73" height="38.5" fill="#842681"/>
<rect x="1031.09" y="985" width="3.73" height="38.5" fill="#ea5661"/>
<rect x="1034.47" y="985" width="10.48" height="38.5" fill="#842681"/>
<rect x="1044.60" y="985" width="3.73" height="38.5" fill="#ea5661"/>
<rect x="1047.97" y="985" width="23.98" height="38.5" fill="#842681"/>
<rect x="1071.60" y="985" width="3.73" height="38.5" fill="#ea5661"/>
<rect x="1074.98" y="985" width="2.04" height="38.5" fill="#842681"/>
<rect x="1076.67" y="985" width="8.79" height="38.5" fill="#ea5661"/>
<rect x="1085.10" y="985" width="7.10" height="38.5" fill="#842681"/>
<rect x="1091.86" y="985" width="2.04" height="38.5" fill="#ea5661"/>
<rect x="1093.54" y="985" width="8.79" height="38.5" fill="#842681"/>
<rect x="1101.98" y="985" width="8.79" height="38.5" fill="#ea5661"/>
<rect x="1110.42" y="985" width="7.10" height="38.5" fill="#842681"/>
<rect x="1117.17" y="985" width="3.73" height="38.5" fill="#ea5661"/>
<rect x="1120.55" y="985" width="3.73" height="38.5" fill="#f4675c"/>
<rect x="1123.92" y="985" width="2.04" height="38.5" fill="#ec5860"/>
<rect x="1125.61" y="985" width="2.04" height="38.5" fill="#ef5d5e"/>
<rect x="1127.30" y="985" width="3.73" height="38.5" fill="#e44f64"/>
<rect x="1130.68" y="985" width="18.92" height="38.5" fill="#842681"/>
<rect x="1149.24" y="985" width="2.04" height="38.5" fill="#e34e65"/>
<rect x="1150.93" y="985" width="3.73" height="38.5" fill="#f1605d"/>
<rect x="1154.31" y="985" width="7.10" height="38.5" fill="#f4695c"/>
<rect x="1161.06" y="985" width="2.04" height="38.5" fill="#ec5860"/>
<rect x="1162.75" y="985" width="5.41" height="38.5" fill="#f7705c"/>
<rect x="1167.81" y="985" width="2.04" height="38.5" fill="#f4695c"/>
<rect x="1169.50" y="985" width="3.73" height="38.5" fill="#842681"/>
<rect x="1172.87" y="985" width="3.73" height="38.5" fill="#e34e65"/>
<rect x="1176.25" y="985" width="2.04" height="38.5" fill="#f7725c"/>
<rect x="1177.94" y="985" width="3.73" height="38.5" fill="#842681"/>
<rect x="1181.31" y="985" width="2.04" height="38.5" fill="#eb5760"/>
<rect x="1183.00" y="985" width="2.04" height="38.5" fill="#e34e65"/>
<rect x="1184.69" y="985" width="3.73" height="38.5" fill="#f56b5c"/>
<rect x="1188.06" y="985" width="7.10" height="38.5" fill="#f1605d"/>
<rect x="1194.81" y="985" width="7.10" height="38.5" fill="#e95462"/>
<rect x="1201.57" y="985" width="2.04" height="38.5" fill="#e04c67"/>
<rect x="1203.25" y="985" width="3.73" height="38.5" fill="#f1605d"/>
<rect x="1206.63" y="985" width="3.73" height="38.5" fill="#f4675c"/>
<rect x="1210.00" y="985" width="2.04" height="38.5" fill="#e75263"/>
<rect x="1211.69" y="985" width="5.41" height="38.5" fill="#842681"/>
<rect x="1216.76" y="985" width="2.04" height="38.5" fill="#e85362"/>
<rect x="1218.44" y="985" width="3.73" height="38.5" fill="#842681"/>
<rect x="1221.82" y="985" width="2.04" height="38.5" fill="#e34e65"/>
<rect x="1223.51" y="985" width="3.73" height="38.5" fill="#842681"/>
<rect x="1226.88" y="985" width="3.73" height="38.5" fill="#f8765c"/>
<rect x="1230.26" y="985" width="2.04" height="38.5" fill="#ef5d5e"/>
<rect x="1231.95" y="985" width="10.48" height="38.5" fill="#842681"/>
<rect x="1242.07" y="985" width="3.73" height="38.5" fill="#eb5760"/>
<rect x="1245.45" y="985" width="2.04" height="38.5" fill="#e75263"/>
<rect x="1247.14" y="985" width="3.73" height="38.5" fill="#842681"/>
<rect x="1250.51" y="985" width="3.73" height="38.5" fill="#f66e5c"/>
<rect x="1253.89" y="985" width="8.79" height="38.5" fill="#842681"/>
<rect x="1262.33" y="985" width="2.04" height="38.5" fill="#f7705c"/>
<rect x="1264.02" y="985" width="2.04" height="38.5" fill="#f4695c"/>
<rect x="1265.70" y="985" width="2.04" height="38.5" fill="#f8745c"/>
<rect x="1267.39" y="985" width="2.04" height="38.5" fill="#eb5760"/>
<rect x="1269.08" y="985" width="3.73" height="38.5" fill="#842681"/>
<rect x="1272.45" y="985" width="3.73" height="38.5" fill="#e04c67"/>
<rect x="1275.83" y="985" width="2.04" height="38.5" fill="#f7705c"/>
<rect x="1277.52" y="985" width="2.04" height="38.5" fill="#842681"/>
<rect x="1279.21" y="985" width="3.73" height="38.5" fill="#ef5d5e"/>
<rect x="1282.58" y="985" width="3.73" height="38.5" fill="#842681"/>
<rect x="1285.96" y="985" width="2.04" height="38.5" fill="#df4a68"/>
<rect x="1287.64" y="985" width="3.73" height="38.5" fill="#ea5661"/>
<rect x="1291.02" y="985" width="2.04" height="38.5" fill="#f1605d"/>
<rect x="1292.71" y="985" width="3.73" height="38.5" fill="#842681"/>
<rect x="1296.08" y="985" width="2.04" height="38.5" fill="#f3655c"/>
<rect x="1297.77" y="985" width="10.48" height="38.5" fill="#842681"/>
<rect x="1307.90" y="985" width="2.04" height="38.5" fill="#df4a68"/>
<rect x="1309.59" y="985" width="2.04" height="38.5" fill="#f8765c"/>
<rect x="1311.27" y="985" width="5.41" height="38.5" fill="#842681"/>
<rect x="1316.34" y="985" width="3.73" height="38.5" fill="#f1605d"/>
<rect x="1319.71" y="985" width="10.48" height="38.5" fill="#842681"/>
<rect x="1329.84" y="985" width="2.04" height="38.5" fill="#f7725c"/>
<rect x="1331.53" y="985" width="3.73" height="38.5" fill="#f9785d"/>
<rect x="1334.90" y="985" width="2.04" height="38.5" fill="#df4a68"/>
<rect x="1336.59" y="985" width="2.04" height="38.5" fill="#f4675c"/>
<rect x="1338.28" y="985" width="10.48" height="38.5" fill="#842681"/>
<rect x="1348.41" y="985" width="2.04" height="38.5" fill="#e85362"/>
<rect x="1350.09" y="985" width="2.04" height="38.5" fill="#f4675c"/>
<rect x="1351.78" y="985" width="2.04" height="38.5" fill="#842681"/>
<rect x="1353.47" y="985" width="3.73" height="38.5" fill="#f05f5e"/>
<rect x="1356.85" y="985" width="2.04" height="38.5" fill="#842681"/>
<rect x="1358.53" y="985" width="3.73" height="38.5" fill="#e75263"/>
<rect x="1361.91" y="985" width="13.85" height="38.5" fill="#842681"/>
<rect x="1375.41" y="985" width="2.04" height="38.5" fill="#f7725c"/>
<rect x="364.40" y="1023.5" width="3.73" height="38.8" fill="#f97b5d"/>
<rect x="367.78" y="1023.5" width="2.04" height="38.8" fill="#e95462"/>
<rect x="369.46" y="1023.5" width="3.73" height="38.8" fill="#f9785d"/>
<rect x="372.84" y="1023.5" width="2.04" height="38.8" fill="#f7725c"/>
<rect x="374.53" y="1023.5" width="5.41" height="38.8" fill="#f56b5c"/>
<rect x="379.59" y="1023.5" width="7.10" height="38.8" fill="#842681"/>
<rect x="386.34" y="1023.5" width="5.41" height="38.8" fill="#eb5760"/>
<rect x="391.41" y="1023.5" width="5.41" height="38.8" fill="#f05f5e"/>
<rect x="396.47" y="1023.5" width="10.48" height="38.8" fill="#ea5661"/>
<rect x="406.60" y="1023.5" width="5.41" height="38.8" fill="#842681"/>
<rect x="411.66" y="1023.5" width="3.73" height="38.8" fill="#ec5860"/>
<rect x="415.03" y="1023.5" width="2.04" height="38.8" fill="#842681"/>
<rect x="416.72" y="1023.5" width="2.04" height="38.8" fill="#ec5860"/>
<rect x="418.41" y="1023.5" width="2.04" height="38.8" fill="#e55064"/>
<rect x="420.10" y="1023.5" width="2.04" height="38.8" fill="#842681"/>
<rect x="421.79" y="1023.5" width="2.04" height="38.8" fill="#e55064"/>
<rect x="423.47" y="1023.5" width="5.41" height="38.8" fill="#842681"/>
<rect x="428.54" y="1023.5" width="2.04" height="38.8" fill="#f9785d"/>
<rect x="430.23" y="1023.5" width="3.73" height="38.8" fill="#e34e65"/>
<rect x="433.60" y="1023.5" width="5.41" height="38.8" fill="#842681"/>
<rect x="438.66" y="1023.5" width="2.04" height="38.8" fill="#f1605d"/>
<rect x="440.35" y="1023.5" width="2.04" height="38.8" fill="#f05f5e"/>
<rect x="442.04" y="1023.5" width="3.73" height="38.8" fill="#f4675c"/>
<rect x="445.42" y="1023.5" width="2.04" height="38.8" fill="#f8765c"/>
<rect x="447.10" y="1023.5" width="3.73" height="38.8" fill="#ec5860"/>
<rect x="450.48" y="1023.5" width="5.41" height="38.8" fill="#842681"/>
<rect x="455.54" y="1023.5" width="2.04" height="38.8" fill="#f1605d"/>
<rect x="457.23" y="1023.5" width="2.04" height="38.8" fill="#ed5a5f"/>
<rect x="458.92" y="1023.5" width="2.04" height="38.8" fill="#842681"/>
<rect x="460.61" y="1023.5" width="3.73" height="38.8" fill="#ed5a5f"/>
<rect x="463.98" y="1023.5" width="2.04" height="38.8" fill="#f4675c"/>
<rect x="465.67" y="1023.5" width="5.41" height="38.8" fill="#842681"/>
<rect x="470.73" y="1023.5" width="2.04" height="38.8" fill="#e55064"/>
<rect x="472.42" y="1023.5" width="2.04" height="38.8" fill="#f8745c"/>
<rect x="474.11" y="1023.5" width="3.73" height="38.8" fill="#f2645c"/>
<rect x="477.48" y="1023.5" width="5.41" height="38.8" fill="#f4675c"/>
<rect x="482.55" y="1023.5" width="2.04" height="38.8" fill="#f7725c"/>
<rect x="484.24" y="1023.5" width="2.04" height="38.8" fill="#842681"/>
<rect x="485.92" y="1023.5" width="3.73" height="38.8" fill="#e75263"/>
<rect x="489.30" y="1023.5" width="2.04" height="38.8" fill="#f4695c"/>
<rect x="490.99" y="1023.5" width="5.41" height="38.8" fill="#842681"/>
<rect x="496.05" y="1023.5" width="3.73" height="38.8" fill="#f05f5e"/>
<rect x="499.43" y="1023.5" width="2.04" height="38.8" fill="#f9795d"/>
<rect x="501.11" y="1023.5" width="3.73" height="38.8" fill="#e95462"/>
<rect x="504.49" y="1023.5" width="5.41" height="38.8" fill="#ee5b5e"/>
<rect x="509.55" y="1023.5" width="3.73" height="38.8" fill="#842681"/>
<rect x="512.93" y="1023.5" width="2.04" height="38.8" fill="#f4695c"/>
<rect x="514.62" y="1023.5" width="2.04" height="38.8" fill="#f9795d"/>
<rect x="516.30" y="1023.5" width="2.04" height="38.8" fill="#e04c67"/>
<rect x="517.99" y="1023.5" width="3.73" height="38.8" fill="#842681"/>
<rect x="521.37" y="1023.5" width="2.04" height="38.8" fill="#e04c67"/>
<rect x="523.06" y="1023.5" width="2.04" height="38.8" fill="#fa7d5e"/>
<rect x="524.74" y="1023.5" width="3.73" height="38.8" fill="#e75263"/>
<rect x="528.12" y="1023.5" width="2.04" height="38.8" fill="#f66c5c"/>
<rect x="529.81" y="1023.5" width="2.04" height="38.8" fill="#ee5b5e"/>
<rect x="531.50" y="1023.5" width="3.73" height="38.8" fill="#f8745c"/>
<rect x="534.87" y="1023.5" width="2.04" height="38.8" fill="#e55064"/>
<rect x="536.56" y="1023.5" width="7.10" height="38.8" fill="#ea5661"/>
<rect x="543.31" y="1023.5" width="2.04" height="38.8" fill="#842681"/>
<rect x="545.00" y="1023.5" width="2.04" height="38.8" fill="#ea5661"/>
<rect x="546.69" y="1023.5" width="2.04" height="38.8" fill="#f66c5c"/>
<rect x="548.37" y="1023.5" width="2.04" height="38.8" fill="#842681"/>
<rect x="550.06" y="1023.5" width="5.41" height="38.8" fill="#f7705c"/>
<rect x="555.13" y="1023.5" width="7.10" height="38.8" fill="#ed5a5f"/>
<rect x="561.88" y="1023.5" width="3.73" height="38.8" fill="#e75263"/>
<rect x="565.25" y="1023.5" width="2.04" height="38.8" fill="#f7725c"/>
<rect x="566.94" y="1023.5" width="3.73" height="38.8" fill="#842681"/>
<rect x="570.32" y="1023.5" width="2.04" height="38.8" fill="#f2645c"/>
<rect x="572.00" y="1023.5" width="3.73" height="38.8" fill="#f8765c"/>
<rect x="575.38" y="1023.5" width="3.73" height="38.8" fill="#e34e65"/>
<rect x="578.75" y="1023.5" width="3.73" height="38.8" fill="#f9785d"/>
<rect x="582.13" y="1023.5" width="2.04" height="38.8" fill="#f2645c"/>
<rect x="583.82" y="1023.5" width="5.41" height="38.8" fill="#e95462"/>
<rect x="588.88" y="1023.5" width="2.04" height="38.8" fill="#e24d66"/>
<rect x="590.57" y="1023.5" width="3.73" height="38.8" fill="#ec5860"/>
<rect x="593.95" y="1023.5" width="7.10" height="38.8" fill="#842681"/>
<rect x="600.70" y="1023.5" width="3.73" height="38.8" fill="#e55064"/>
<rect x="604.07" y="1023.5" width="2.04" height="38.8" fill="#e44f64"/>
<rect x="605.76" y="1023.5" width="3.73" height="38.8" fill="#fa7d5e"/>
<rect x="609.14" y="1023.5" width="3.73" height="38.8" fill="#f05f5e"/>
<rect x="612.51" y="1023.5" width="2.04" height="38.8" fill="#ec5860"/>
<rect x="614.20" y="1023.5" width="3.73" height="38.8" fill="#842681"/>
<rect x="617.57" y="1023.5" width="2.04" height="38.8" fill="#ed5a5f"/>
<rect x="619.26" y="1023.5" width="3.73" height="38.8" fill="#842681"/>
<rect x="622.64" y="1023.5" width="2.04" height="38.8" fill="#e75263"/>
<rect x="624.33" y="1023.5" width="5.41" height="38.8" fill="#842681"/>
<rect x="629.39" y="1023.5" width="2.04" height="38.8" fill="#e95462"/>
<rect x="631.08" y="1023.5" width="3.73" height="38.8" fill="#842681"/>
<rect x="634.45" y="1023.5" width="2.04" height="38.8" fill="#fa7d5e"/>
<rect x="636.14" y="1023.5" width="7.10" height="38.8" fill="#f2645c"/>
<rect x="642.89" y="1023.5" width="2.04" height="38.8" fill="#e04c67"/>
<rect x="644.58" y="1023.5" width="3.73" height="38.8" fill="#842681"/>
<rect x="647.96" y="1023.5" width="2.04" height="38.8" fill="#f97b5d"/>
<rect x="649.64" y="1023.5" width="2.04" height="38.8" fill="#e34e65"/>
<rect x="651.33" y="1023.5" width="13.85" height="38.8" fill="#842681"/>
<rect x="664.83" y="1023.5" width="5.41" height="38.8" fill="#ea5661"/>
<rect x="669.90" y="1023.5" width="2.04" height="38.8" fill="#842681"/>
<rect x="671.59" y="1023.5" width="3.73" height="38.8" fill="#ea5661"/>
<rect x="674.96" y="1023.5" width="7.10" height="38.8" fill="#842681"/>
<rect x="681.71" y="1023.5" width="3.73" height="38.8" fill="#ea5661"/>
<rect x="685.09" y="1023.5" width="7.10" height="38.8" fill="#842681"/>
<rect x="691.84" y="1023.5" width="3.73" height="38.8" fill="#ea5661"/>
<rect x="695.22" y="1023.5" width="2.04" height="38.8" fill="#842681"/>
<rect x="696.90" y="1023.5" width="5.41" height="38.8" fill="#ea5661"/>
<rect x="701.97" y="1023.5" width="2.04" height="38.8" fill="#842681"/>
<rect x="703.65" y="1023.5" width="3.73" height="38.8" fill="#ea5661"/>
<rect x="707.03" y="1023.5" width="5.41" height="38.8" fill="#842681"/>
<rect x="712.09" y="1023.5" width="2.04" height="38.8" fill="#ea5661"/>
<rect x="713.78" y="1023.5" width="20.60" height="38.8" fill="#842681"/>
<rect x="734.04" y="1023.5" width="3.73" height="38.8" fill="#ea5661"/>
<rect x="737.41" y="1023.5" width="13.85" height="38.8" fill="#842681"/>
<rect x="750.91" y="1023.5" width="3.73" height="38.8" fill="#ea5661"/>
<rect x="754.29" y="1023.5" width="27.36" height="38.8" fill="#842681"/>
<rect x="781.29" y="1023.5" width="3.73" height="38.8" fill="#ea5661"/>
<rect x="784.67" y="1023.5" width="17.23" height="38.8" fill="#842681"/>
<rect x="801.55" y="1023.5" width="3.73" height="38.8" fill="#ea5661"/>
<rect x="804.92" y="1023.5" width="3.73" height="38.8" fill="#842681"/>
<rect x="808.30" y="1023.5" width="3.73" height="38.8" fill="#ea5661"/>
<rect x="811.68" y="1023.5" width="12.16" height="38.8" fill="#842681"/>
<rect x="823.49" y="1023.5" width="3.73" height="38.8" fill="#ea5661"/>
<rect x="826.87" y="1023.5" width="3.73" height="38.8" fill="#842681"/>
<rect x="830.24" y="1023.5" width="3.73" height="38.8" fill="#ea5661"/>
<rect x="833.62" y="1023.5" width="113.43" height="38.8" fill="#842681"/>
<rect x="946.70" y="1023.5" width="3.73" height="38.8" fill="#ea5661"/>
<rect x="950.08" y="1023.5" width="5.41" height="38.8" fill="#842681"/>
<rect x="955.14" y="1023.5" width="3.73" height="38.8" fill="#ea5661"/>
<rect x="958.52" y="1023.5" width="12.16" height="38.8" fill="#842681"/>
<rect x="970.33" y="1023.5" width="2.04" height="38.8" fill="#ea5661"/>
<rect x="972.02" y="1023.5" width="5.41" height="38.8" fill="#842681"/>
<rect x="977.08" y="1023.5" width="3.73" height="38.8" fill="#ea5661"/>
<rect x="980.46" y="1023.5" width="17.23" height="38.8" fill="#842681"/>
<rect x="997.34" y="1023.5" width="3.73" height="38.8" fill="#ea5661"/>
<rect x="1000.71" y="1023.5" width="30.73" height="38.8" fill="#842681"/>
<rect x="1031.09" y="1023.5" width="3.73" height="38.8" fill="#ea5661"/>
<rect x="1034.47" y="1023.5" width="10.48" height="38.8" fill="#842681"/>
<rect x="1044.60" y="1023.5" width="3.73" height="38.8" fill="#ea5661"/>
<rect x="1047.97" y="1023.5" width="7.10" height="38.8" fill="#842681"/>
<rect x="1054.72" y="1023.5" width="3.73" height="38.8" fill="#e85362"/>
<rect x="1058.10" y="1023.5" width="3.73" height="38.8" fill="#842681"/>
<rect x="1061.48" y="1023.5" width="3.73" height="38.8" fill="#e85362"/>
<rect x="1064.85" y="1023.5" width="7.10" height="38.8" fill="#842681"/>
<rect x="1071.60" y="1023.5" width="3.73" height="38.8" fill="#ea5661"/>
<rect x="1074.98" y="1023.5" width="2.04" height="38.8" fill="#842681"/>
<rect x="1076.67" y="1023.5" width="8.79" height="38.8" fill="#ea5661"/>
<rect x="1085.10" y="1023.5" width="2.04" height="38.8" fill="#842681"/>
<rect x="1086.79" y="1023.5" width="2.04" height="38.8" fill="#e85362"/>
<rect x="1088.48" y="1023.5" width="3.73" height="38.8" fill="#842681"/>
<rect x="1091.86" y="1023.5" width="2.04" height="38.8" fill="#ea5661"/>
<rect x="1093.54" y="1023.5" width="8.79" height="38.8" fill="#842681"/>
<rect x="1101.98" y="1023.5" width="8.79" height="38.8" fill="#ea5661"/>
<rect x="1110.42" y="1023.5" width="7.10" height="38.8" fill="#842681"/>
<rect x="1117.17" y="1023.5" width="3.73" height="38.8" fill="#e95462"/>
<rect x="1120.55" y="1023.5" width="3.73" height="38.8" fill="#f3655c"/>
<rect x="1123.92" y="1023.5" width="7.10" height="38.8" fill="#e95462"/>
<rect x="1130.68" y="1023.5" width="18.92" height="38.8" fill="#842681"/>
<rect x="1149.24" y="1023.5" width="2.04" height="38.8" fill="#ec5860"/>
<rect x="1150.93" y="1023.5" width="5.41" height="38.8" fill="#eb5760"/>
<rect x="1155.99" y="1023.5" width="3.73" height="38.8" fill="#e24d66"/>
<rect x="1159.37" y="1023.5" width="2.04" height="38.8" fill="#842681"/>
<rect x="1161.06" y="1023.5" width="7.10" height="38.8" fill="#e24d66"/>
<rect x="1167.81" y="1023.5" width="2.04" height="38.8" fill="#df4a68"/>
<rect x="1169.50" y="1023.5" width="3.73" height="38.8" fill="#842681"/>
<rect x="1172.87" y="1023.5" width="5.41" height="38.8" fill="#f4695c"/>
<rect x="1177.94" y="1023.5" width="3.73" height="38.8" fill="#842681"/>
<rect x="1181.31" y="1023.5" width="2.04" height="38.8" fill="#ef5d5e"/>
<rect x="1183.00" y="1023.5" width="5.41" height="38.8" fill="#e44f64"/>
<rect x="1188.06" y="1023.5" width="7.10" height="38.8" fill="#ea5661"/>
<rect x="1194.81" y="1023.5" width="2.04" height="38.8" fill="#f3655c"/>
<rect x="1196.50" y="1023.5" width="2.04" height="38.8" fill="#f9785d"/>
<rect x="1198.19" y="1023.5" width="3.73" height="38.8" fill="#f9795d"/>
<rect x="1201.57" y="1023.5" width="2.04" height="38.8" fill="#ed5a5f"/>
<rect x="1203.25" y="1023.5" width="7.10" height="38.8" fill="#f3655c"/>
<rect x="1210.00" y="1023.5" width="2.04" height="38.8" fill="#e24d66"/>
<rect x="1211.69" y="1023.5" width="5.41" height="38.8" fill="#842681"/>
<rect x="1216.76" y="1023.5" width="2.04" height="38.8" fill="#f3655c"/>
<rect x="1218.44" y="1023.5" width="3.73" height="38.8" fill="#842681"/>
<rect x="1221.82" y="1023.5" width="2.04" height="38.8" fill="#f8765c"/>
<rect x="1223.51" y="1023.5" width="3.73" height="38.8" fill="#842681"/>
<rect x="1226.88" y="1023.5" width="2.04" height="38.8" fill="#f9795d"/>
<rect x="1228.57" y="1023.5" width="2.04" height="38.8" fill="#ef5d5e"/>
<rect x="1230.26" y="1023.5" width="2.04" height="38.8" fill="#f05f5e"/>
<rect x="1231.95" y="1023.5" width="10.48" height="38.8" fill="#842681"/>
<rect x="1242.07" y="1023.5" width="3.73" height="38.8" fill="#f4675c"/>
<rect x="1245.45" y="1023.5" width="5.41" height="38.8" fill="#842681"/>
<rect x="1250.51" y="1023.5" width="3.73" height="38.8" fill="#f8745c"/>
<rect x="1253.89" y="1023.5" width="8.79" height="38.8" fill="#842681"/>
<rect x="1262.33" y="1023.5" width="2.04" height="38.8" fill="#ed5a5f"/>
<rect x="1264.02" y="1023.5" width="3.73" height="38.8" fill="#df4a68"/>
<rect x="1267.39" y="1023.5" width="2.04" height="38.8" fill="#f8765c"/>
<rect x="1269.08" y="1023.5" width="3.73" height="38.8" fill="#842681"/>
<rect x="1272.45" y="1023.5" width="5.41" height="38.8" fill="#f1605d"/>
<rect x="1277.52" y="1023.5" width="2.04" height="38.8" fill="#842681"/>
<rect x="1279.21" y="1023.5" width="3.73" height="38.8" fill="#e95462"/>
<rect x="1282.58" y="1023.5" width="3.73" height="38.8" fill="#842681"/>
<rect x="1285.96" y="1023.5" width="2.04" height="38.8" fill="#f2625d"/>
<rect x="1287.64" y="1023.5" width="5.41" height="38.8" fill="#f3655c"/>
<rect x="1292.71" y="1023.5" width="3.73" height="38.8" fill="#842681"/>
<rect x="1296.08" y="1023.5" width="2.04" height="38.8" fill="#eb5760"/>
<rect x="1297.77" y="1023.5" width="2.04" height="38.8" fill="#842681"/>
<rect x="1299.46" y="1023.5" width="2.04" height="38.8" fill="#e85362"/>
<rect x="1301.15" y="1023.5" width="7.10" height="38.8" fill="#842681"/>
<rect x="1307.90" y="1023.5" width="2.04" height="38.8" fill="#e34e65"/>
<rect x="1309.59" y="1023.5" width="2.04" height="38.8" fill="#f66e5c"/>
<rect x="1311.27" y="1023.5" width="7.10" height="38.8" fill="#842681"/>
<rect x="1318.03" y="1023.5" width="2.04" height="38.8" fill="#e44f64"/>
<rect x="1319.71" y="1023.5" width="3.73" height="38.8" fill="#842681"/>
<rect x="1323.09" y="1023.5" width="3.73" height="38.8" fill="#e85362"/>
<rect x="1326.46" y="1023.5" width="3.73" height="38.8" fill="#842681"/>
<rect x="1329.84" y="1023.5" width="3.73" height="38.8" fill="#f9785d"/>
<rect x="1333.22" y="1023.5" width="2.04" height="38.8" fill="#f66e5c"/>
<rect x="1334.90" y="1023.5" width="2.04" height="38.8" fill="#e44f64"/>
<rect x="1336.59" y="1023.5" width="12.16" height="38.8" fill="#842681"/>
<rect x="1348.41" y="1023.5" width="2.04" height="38.8" fill="#ed5a5f"/>
<rect x="1350.09" y="1023.5" width="3.73" height="38.8" fill="#842681"/>
<rect x="1353.47" y="1023.5" width="3.73" height="38.8" fill="#e95462"/>
<rect x="1356.85" y="1023.5" width="2.04" height="38.8" fill="#842681"/>
<rect x="1358.53" y="1023.5" width="3.73" height="38.8" fill="#ec5860"/>
<rect x="1361.91" y="1023.5" width="13.85" height="38.8" fill="#842681"/>
<rect x="1375.41" y="1023.5" width="2.04" height="38.8" fill="#f8745c"/>
<rect x="364.40" y="1062.3" width="7.10" height="38.7" fill="#942c80"/>
<rect x="371.15" y="1062.3" width="5.41" height="38.7" fill="#982d80"/>
<rect x="376.21" y="1062.3" width="3.73" height="38.7" fill="#962c80"/>
<rect x="379.59" y="1062.3" width="2.04" height="38.7" fill="#982d80"/>
<rect x="381.28" y="1062.3" width="2.04" height="38.7" fill="#942c80"/>
<rect x="382.97" y="1062.3" width="5.41" height="38.7" fill="#932b80"/>
<rect x="388.03" y="1062.3" width="8.79" height="38.7" fill="#942c80"/>
<rect x="396.47" y="1062.3" width="5.41" height="38.7" fill="#992d80"/>
<rect x="401.53" y="1062.3" width="7.10" height="38.7" fill="#932b80"/>
<rect x="408.28" y="1062.3" width="2.04" height="38.7" fill="#992d80"/>
<rect x="409.97" y="1062.3" width="7.10" height="38.7" fill="#962c80"/>
<rect x="416.72" y="1062.3" width="2.04" height="38.7" fill="#932b80"/>
<rect x="418.41" y="1062.3" width="7.10" height="38.7" fill="#9b2e7f"/>
<rect x="425.16" y="1062.3" width="2.04" height="38.7" fill="#992d80"/>
<rect x="426.85" y="1062.3" width="2.04" height="38.7" fill="#942c80"/>
<rect x="428.54" y="1062.3" width="3.73" height="38.7" fill="#962c80"/>
<rect x="431.91" y="1062.3" width="7.10" height="38.7" fill="#982d80"/>
<rect x="438.66" y="1062.3" width="3.73" height="38.7" fill="#932b80"/>
<rect x="442.04" y="1062.3" width="3.73" height="38.7" fill="#962c80"/>
<rect x="445.42" y="1062.3" width="2.04" height="38.7" fill="#932b80"/>
<rect x="447.10" y="1062.3" width="3.73" height="38.7" fill="#942c80"/>
<rect x="450.48" y="1062.3" width="3.73" height="38.7" fill="#9b2e7f"/>
<rect x="453.86" y="1062.3" width="2.04" height="38.7" fill="#942c80"/>
<rect x="455.54" y="1062.3" width="7.10" height="38.7" fill="#932b80"/>
<rect x="462.29" y="1062.3" width="3.73" height="38.7" fill="#942c80"/>
<rect x="465.67" y="1062.3" width="2.04" height="38.7" fill="#982d80"/>
<rect x="467.36" y="1062.3" width="13.85" height="38.7" fill="#992d80"/>
<rect x="480.86" y="1062.3" width="3.73" height="38.7" fill="#962c80"/>
<rect x="484.24" y="1062.3" width="3.73" height="38.7" fill="#982d80"/>
<rect x="487.61" y="1062.3" width="2.04" height="38.7" fill="#932b80"/>
<rect x="489.30" y="1062.3" width="7.10" height="38.7" fill="#9b2e7f"/>
<rect x="496.05" y="1062.3" width="2.04" height="38.7" fill="#962c80"/>
<rect x="497.74" y="1062.3" width="3.73" height="38.7" fill="#932b80"/>
<rect x="501.11" y="1062.3" width="7.10" height="38.7" fill="#942c80"/>
<rect x="507.87" y="1062.3" width="5.41" height="38.7" fill="#982d80"/>
<rect x="512.93" y="1062.3" width="5.41" height="38.7" fill="#962c80"/>
<rect x="517.99" y="1062.3" width="2.04" height="38.7" fill="#942c80"/>
<rect x="519.68" y="1062.3" width="5.41" height="38.7" fill="#932b80"/>
<rect x="524.74" y="1062.3" width="7.10" height="38.7" fill="#9b2e7f"/>
<rect x="531.50" y="1062.3" width="2.04" height="38.7" fill="#962c80"/>
<rect x="533.18" y="1062.3" width="7.10" height="38.7" fill="#9b2e7f"/>
<rect x="539.93" y="1062.3" width="3.73" height="38.7" fill="#982d80"/>
<rect x="543.31" y="1062.3" width="10.48" height="38.7" fill="#962c80"/>
<rect x="553.44" y="1062.3" width="3.73" height="38.7" fill="#9b2e7f"/>
<rect x="556.81" y="1062.3" width="2.04" height="38.7" fill="#962c80"/>
<rect x="558.50" y="1062.3" width="3.73" height="38.7" fill="#932b80"/>
<rect x="561.88" y="1062.3" width="2.04" height="38.7" fill="#9b2e7f"/>
<rect x="563.56" y="1062.3" width="7.10" height="38.7" fill="#962c80"/>
<rect x="570.32" y="1062.3" width="8.79" height="38.7" fill="#942c80"/>
<rect x="578.75" y="1062.3" width="2.04" height="38.7" fill="#992d80"/>
<rect x="580.44" y="1062.3" width="3.73" height="38.7" fill="#932b80"/>
<rect x="583.82" y="1062.3" width="3.73" height="38.7" fill="#992d80"/>
<rect x="587.19" y="1062.3" width="2.04" height="38.7" fill="#982d80"/>
<rect x="588.88" y="1062.3" width="2.04" height="38.7" fill="#962c80"/>
<rect x="590.57" y="1062.3" width="8.79" height="38.7" fill="#942c80"/>
<rect x="599.01" y="1062.3" width="7.10" height="38.7" fill="#982d80"/>
<rect x="605.76" y="1062.3" width="5.41" height="38.7" fill="#962c80"/>
<rect x="610.82" y="1062.3" width="2.04" height="38.7" fill="#992d80"/>
<rect x="612.51" y="1062.3" width="5.41" height="38.7" fill="#962c80"/>
<rect x="617.57" y="1062.3" width="3.73" height="38.7" fill="#982d80"/>
<rect x="620.95" y="1062.3" width="8.79" height="38.7" fill="#962c80"/>
<rect x="629.39" y="1062.3" width="3.73" height="38.7" fill="#9b2e7f"/>
<rect x="632.77" y="1062.3" width="5.41" height="38.7" fill="#942c80"/>
<rect x="637.83" y="1062.3" width="7.10" height="38.7" fill="#992d80"/>
<rect x="644.58" y="1062.3" width="5.41" height="38.7" fill="#942c80"/>
<rect x="649.64" y="1062.3" width="3.73" height="38.7" fill="#982d80"/>
<rect x="653.02" y="1062.3" width="7.10" height="38.7" fill="#992d80"/>
<rect x="659.77" y="1062.3" width="5.41" height="38.7" fill="#942c80"/>
<rect x="664.83" y="1062.3" width="5.41" height="38.7" fill="#982d80"/>
<rect x="669.90" y="1062.3" width="2.04" height="38.7" fill="#942c80"/>
<rect x="671.59" y="1062.3" width="2.04" height="38.7" fill="#982d80"/>
<rect x="673.27" y="1062.3" width="5.41" height="38.7" fill="#962c80"/>
<rect x="678.34" y="1062.3" width="7.10" height="38.7" fill="#932b80"/>
<rect x="685.09" y="1062.3" width="5.41" height="38.7" fill="#992d80"/>
<rect x="690.15" y="1062.3" width="7.10" height="38.7" fill="#982d80"/>
<rect x="696.90" y="1062.3" width="3.73" height="38.7" fill="#bf3a77"/>
<rect x="700.28" y="1062.3" width="3.73" height="38.7" fill="#962c80"/>
<rect x="703.65" y="1062.3" width="8.79" height="38.7" fill="#982d80"/>
<rect x="712.09" y="1062.3" width="3.73" height="38.7" fill="#bf3a77"/>
<rect x="715.47" y="1062.3" width="3.73" height="38.7" fill="#982d80"/>
<rect x="718.85" y="1062.3" width="3.73" height="38.7" fill="#942c80"/>
<rect x="722.22" y="1062.3" width="3.73" height="38.7" fill="#bf3a77"/>
<rect x="725.60" y="1062.3" width="2.04" height="38.7" fill="#992d80"/>
<rect x="727.28" y="1062.3" width="3.73" height="38.7" fill="#982d80"/>
<rect x="730.66" y="1062.3" width="3.73" height="38.7" fill="#992d80"/>
<rect x="734.04" y="1062.3" width="2.04" height="38.7" fill="#bf3a77"/>
<rect x="735.72" y="1062.3" width="5.41" height="38.7" fill="#942c80"/>
<rect x="740.79" y="1062.3" width="3.73" height="38.7" fill="#982d80"/>
<rect x="744.16" y="1062.3" width="2.04" height="38.7" fill="#962c80"/>
<rect x="745.85" y="1062.3" width="3.73" height="38.7" fill="#9c2e7f"/>
<rect x="749.23" y="1062.3" width="2.04" height="38.7" fill="#9b2e7f"/>
<rect x="750.91" y="1062.3" width="7.10" height="38.7" fill="#962c80"/>
<rect x="757.67" y="1062.3" width="3.73" height="38.7" fill="#982d80"/>
<rect x="761.04" y="1062.3" width="7.10" height="38.7" fill="#9c2e7f"/>
<rect x="767.79" y="1062.3" width="3.73" height="38.7" fill="#942c80"/>
<rect x="771.17" y="1062.3" width="7.10" height="38.7" fill="#9b2e7f"/>
<rect x="777.92" y="1062.3" width="7.10" height="38.7" fill="#9c2e7f"/>
<rect x="784.67" y="1062.3" width="7.10" height="38.7" fill="#942c80"/>
<rect x="791.42" y="1062.3" width="3.73" height="38.7" fill="#992d80"/>
<rect x="794.80" y="1062.3" width="2.04" height="38.7" fill="#9b2e7f"/>
<rect x="796.49" y="1062.3" width="3.73" height="38.7" fill="#932b80"/>
<rect x="799.86" y="1062.3" width="2.04" height="38.7" fill="#962c80"/>
<rect x="801.55" y="1062.3" width="2.04" height="38.7" fill="#932b80"/>
<rect x="803.24" y="1062.3" width="7.10" height="38.7" fill="#9c2e7f"/>
<rect x="809.99" y="1062.3" width="7.10" height="38.7" fill="#962c80"/>
<rect x="816.74" y="1062.3" width="3.73" height="38.7" fill="#992d80"/>
<rect x="820.12" y="1062.3" width="7.10" height="38.7" fill="#9c2e7f"/>
<rect x="826.87" y="1062.3" width="7.10" height="38.7" fill="#9b2e7f"/>
<rect x="833.62" y="1062.3" width="3.73" height="38.7" fill="#942c80"/>
<rect x="836.99" y="1062.3" width="3.73" height="38.7" fill="#9c2e7f"/>
<rect x="840.37" y="1062.3" width="2.04" height="38.7" fill="#962c80"/>
<rect x="842.06" y="1062.3" width="3.73" height="38.7" fill="#992d80"/>
<rect x="845.43" y="1062.3" width="5.41" height="38.7" fill="#9c2e7f"/>
<rect x="850.50" y="1062.3" width="8.79" height="38.7" fill="#992d80"/>
<rect x="858.94" y="1062.3" width="3.73" height="38.7" fill="#982d80"/>
<rect x="862.31" y="1062.3" width="2.04" height="38.7" fill="#9b2e7f"/>
<rect x="864.00" y="1062.3" width="3.73" height="38.7" fill="#982d80"/>
<rect x="867.37" y="1062.3" width="3.73" height="38.7" fill="#992d80"/>
<rect x="870.75" y="1062.3" width="7.10" height="38.7" fill="#942c80"/>
<rect x="877.50" y="1062.3" width="2.04" height="38.7" fill="#962c80"/>
<rect x="879.19" y="1062.3" width="5.41" height="38.7" fill="#9b2e7f"/>
<rect x="884.25" y="1062.3" width="5.41" height="38.7" fill="#942c80"/>
<rect x="889.32" y="1062.3" width="7.10" height="38.7" fill="#9b2e7f"/>
<rect x="896.07" y="1062.3" width="3.73" height="38.7" fill="#942c80"/>
<rect x="899.44" y="1062.3" width="3.73" height="38.7" fill="#962c80"/>
<rect x="902.82" y="1062.3" width="8.79" height="38.7" fill="#992d80"/>
<rect x="911.26" y="1062.3" width="2.04" height="38.7" fill="#9b2e7f"/>
<rect x="912.95" y="1062.3" width="2.04" height="38.7" fill="#962c80"/>
<rect x="914.63" y="1062.3" width="3.73" height="38.7" fill="#9c2e7f"/>
<rect x="918.01" y="1062.3" width="5.41" height="38.7" fill="#982d80"/>
<rect x="923.07" y="1062.3" width="3.73" height="38.7" fill="#992d80"/>
<rect x="926.45" y="1062.3" width="3.73" height="38.7" fill="#9b2e7f"/>
<rect x="929.82" y="1062.3" width="2.04" height="38.7" fill="#932b80"/>
<rect x="931.51" y="1062.3" width="3.73" height="38.7" fill="#982d80"/>
<rect x="934.89" y="1062.3" width="2.04" height="38.7" fill="#932b80"/>
<rect x="936.58" y="1062.3" width="5.41" height="38.7" fill="#9b2e7f"/>
<rect x="941.64" y="1062.3" width="7.10" height="38.7" fill="#932b80"/>
<rect x="948.39" y="1062.3" width="3.73" height="38.7" fill="#982d80"/>
<rect x="951.77" y="1062.3" width="5.41" height="38.7" fill="#942c80"/>
<rect x="956.83" y="1062.3" width="15.54" height="38.7" fill="#962c80"/>
<rect x="972.02" y="1062.3" width="2.04" height="38.7" fill="#982d80"/>
<rect x="973.71" y="1062.3" width="2.04" height="38.7" fill="#962c80"/>
<rect x="975.40" y="1062.3" width="2.04" height="38.7" fill="#9b2e7f"/>
<rect x="977.08" y="1062.3" width="3.73" height="38.7" fill="#942c80"/>
<rect x="980.46" y="1062.3" width="3.73" height="38.7" fill="#982d80"/>
<rect x="983.83" y="1062.3" width="10.48" height="38.7" fill="#9b2e7f"/>
<rect x="993.96" y="1062.3" width="3.73" height="38.7" fill="#9c2e7f"/>
<rect x="997.34" y="1062.3" width="3.73" height="38.7" fill="#982d80"/>
<rect x="1000.71" y="1062.3" width="5.41" height="38.7" fill="#9c2e7f"/>
<rect x="1005.78" y="1062.3" width="2.04" height="38.7" fill="#932b80"/>
<rect x="1007.46" y="1062.3" width="2.04" height="38.7" fill="#9b2e7f"/>
<rect x="1009.15" y="1062.3" width="2.04" height="38.7" fill="#992d80"/>
<rect x="1010.84" y="1062.3" width="3.73" height="38.7" fill="#982d80"/>
<rect x="1014.22" y="1062.3" width="5.41" height="38.7" fill="#9b2e7f"/>
<rect x="1019.28" y="1062.3" width="3.73" height="38.7" fill="#992d80"/>
<rect x="1022.65" y="1062.3" width="7.10" height="38.7" fill="#942c80"/>
<rect x="1029.41" y="1062.3" width="2.04" height="38.7" fill="#932b80"/>
<rect x="1031.09" y="1062.3" width="3.73" height="38.7" fill="#982d80"/>
<rect x="1034.47" y="1062.3" width="3.73" height="38.7" fill="#9c2e7f"/>
<rect x="1037.85" y="1062.3" width="3.73" height="38.7" fill="#942c80"/>
<rect x="1041.22" y="1062.3" width="2.04" height="38.7" fill="#9b2e7f"/>
<rect x="1042.91" y="1062.3" width="2.04" height="38.7" fill="#982d80"/>
<rect x="1044.60" y="1062.3" width="3.73" height="38.7" fill="#942c80"/>
<rect x="1047.97" y="1062.3" width="3.73" height="38.7" fill="#c03a76"/>
<rect x="1051.35" y="1062.3" width="2.04" height="38.7" fill="#a3307e"/>
<rect x="1053.04" y="1062.3" width="3.73" height="38.7" fill="#aa337d"/>
<rect x="1056.41" y="1062.3" width="7.10" height="38.7" fill="#a1307e"/>
<rect x="1063.16" y="1062.3" width="12.16" height="38.7" fill="#c03a76"/>
<rect x="1074.98" y="1062.3" width="2.04" height="38.7" fill="#a02f7f"/>
<rect x="1076.67" y="1062.3" width="2.04" height="38.7" fill="#a5317e"/>
<rect x="1078.35" y="1062.3" width="5.41" height="38.7" fill="#c03a76"/>
<rect x="1083.42" y="1062.3" width="2.04" height="38.7" fill="#a02f7f"/>
<rect x="1085.10" y="1062.3" width="7.10" height="38.7" fill="#c53c74"/>
<rect x="1091.86" y="1062.3" width="3.73" height="38.7" fill="#c73d73"/>
<rect x="1095.23" y="1062.3" width="2.04" height="38.7" fill="#a3307e"/>
<rect x="1096.92" y="1062.3" width="7.10" height="38.7" fill="#a8327d"/>
<rect x="1103.67" y="1062.3" width="5.41" height="38.7" fill="#a1307e"/>
<rect x="1108.73" y="1062.3" width="7.10" height="38.7" fill="#a8327d"/>
<rect x="1115.49" y="1062.3" width="3.73" height="38.7" fill="#bc3978"/>
<rect x="1118.86" y="1062.3" width="7.10" height="38.7" fill="#b73779"/>
<rect x="1125.61" y="1062.3" width="3.73" height="38.7" fill="#ef5d5e"/>
<rect x="1128.99" y="1062.3" width="2.04" height="38.7" fill="#fb8761"/>
<rect x="1130.68" y="1062.3" width="2.04" height="38.7" fill="#e44f64"/>
<rect x="1132.36" y="1062.3" width="3.73" height="38.7" fill="#fa7f5e"/>
<rect x="1135.74" y="1062.3" width="7.10" height="38.7" fill="#e24d66"/>
<rect x="1142.49" y="1062.3" width="5.41" height="38.7" fill="#ec5860"/>
<rect x="1147.55" y="1062.3" width="3.73" height="38.7" fill="#f66c5c"/>
<rect x="1150.93" y="1062.3" width="5.41" height="38.7" fill="#fea772"/>
<rect x="1155.99" y="1062.3" width="3.73" height="38.7" fill="#fc9065"/>
<rect x="1159.37" y="1062.3" width="7.10" height="38.7" fill="#fb8761"/>
<rect x="1166.12" y="1062.3" width="3.73" height="38.7" fill="#fea973"/>
<rect x="1169.50" y="1062.3" width="7.10" height="38.7" fill="#f8745c"/>
<rect x="1176.25" y="1062.3" width="3.73" height="38.7" fill="#feae77"/>
<rect x="1179.62" y="1062.3" width="2.04" height="38.7" fill="#feaa74"/>
<rect x="1181.31" y="1062.3" width="3.73" height="38.7" fill="#fc8961"/>
<rect x="1184.69" y="1062.3" width="5.41" height="38.7" fill="#e34e65"/>
<rect x="1189.75" y="1062.3" width="7.10" height="38.7" fill="#fed395"/>
<rect x="1196.50" y="1062.3" width="3.73" height="38.7" fill="#fde9aa"/>
<rect x="1199.88" y="1062.3" width="7.10" height="38.7" fill="#ec5860"/>
<rect x="1206.63" y="1062.3" width="5.41" height="38.7" fill="#e55064"/>
<rect x="1211.69" y="1062.3" width="5.41" height="38.7" fill="#fc8e64"/>
<rect x="1216.76" y="1062.3" width="7.10" height="38.7" fill="#f2625d"/>
<rect x="1223.51" y="1062.3" width="7.10" height="38.7" fill="#e85362"/>
<rect x="1230.26" y="1062.3" width="3.73" height="38.7" fill="#ea5661"/>
<rect x="1233.63" y="1062.3" width="3.73" height="38.7" fill="#e85362"/>
<rect x="1237.01" y="1062.3" width="5.41" height="38.7" fill="#e44f64"/>
<rect x="1242.07" y="1062.3" width="3.73" height="38.7" fill="#ea5661"/>
<rect x="1245.45" y="1062.3" width="2.04" height="38.7" fill="#e55064"/>
<rect x="1247.14" y="1062.3" width="3.73" height="38.7" fill="#fc8961"/>
<rect x="1250.51" y="1062.3" width="7.10" height="38.7" fill="#d9466b"/>
<rect x="1257.26" y="1062.3" width="3.73" height="38.7" fill="#fe9f6d"/>
<rect x="1260.64" y="1062.3" width="7.10" height="38.7" fill="#db476a"/>
<rect x="1267.39" y="1062.3" width="3.73" height="38.7" fill="#fa815f"/>
<rect x="1270.77" y="1062.3" width="5.41" height="38.7" fill="#fc8961"/>
<rect x="1275.83" y="1062.3" width="3.73" height="38.7" fill="#ed5a5f"/>
<rect x="1279.21" y="1062.3" width="5.41" height="38.7" fill="#fa7f5e"/>
<rect x="1284.27" y="1062.3" width="2.04" height="38.7" fill="#eb5760"/>
<rect x="1285.96" y="1062.3" width="2.04" height="38.7" fill="#fde5a7"/>
<rect x="1287.64" y="1062.3" width="5.41" height="38.7" fill="#fc8a62"/>
<rect x="1292.71" y="1062.3" width="7.10" height="38.7" fill="#e75263"/>
<rect x="1299.46" y="1062.3" width="2.04" height="38.7" fill="#ef5d5e"/>
<rect x="1301.15" y="1062.3" width="5.41" height="38.7" fill="#e55064"/>
<rect x="1306.21" y="1062.3" width="10.48" height="38.7" fill="#e85362"/>
<rect x="1316.34" y="1062.3" width="3.73" height="38.7" fill="#fd9467"/>
<rect x="1319.71" y="1062.3" width="3.73" height="38.7" fill="#f8765c"/>
<rect x="1323.09" y="1062.3" width="3.73" height="38.7" fill="#febf84"/>
<rect x="1326.46" y="1062.3" width="2.04" height="38.7" fill="#f9785d"/>
<rect x="1328.15" y="1062.3" width="3.73" height="38.7" fill="#f4675c"/>
<rect x="1331.53" y="1062.3" width="5.41" height="38.7" fill="#ed5a5f"/>
<rect x="1336.59" y="1062.3" width="5.41" height="38.7" fill="#fde7a9"/>
<rect x="1341.66" y="1062.3" width="3.73" height="38.7" fill="#d8456c"/>
<rect x="1345.03" y="1062.3" width="2.04" height="38.7" fill="#e95462"/>
<rect x="1346.72" y="1062.3" width="3.73" height="38.7" fill="#db476a"/>
<rect x="1350.09" y="1062.3" width="2.04" height="38.7" fill="#f05f5e"/>
<rect x="1351.78" y="1062.3" width="2.04" height="38.7" fill="#f97b5d"/>
<rect x="1353.47" y="1062.3" width="3.73" height="38.7" fill="#ea5661"/>
<rect x="1356.85" y="1062.3" width="5.41" height="38.7" fill="#df4a68"/>
<rect x="1361.91" y="1062.3" width="5.41" height="38.7" fill="#f05f5e"/>
<rect x="1366.97" y="1062.3" width="2.04" height="38.7" fill="#f8745c"/>
<rect x="1368.66" y="1062.3" width="7.10" height="38.7" fill="#fd9467"/>
<rect x="1375.41" y="1062.3" width="2.04" height="38.7" fill="#fea772"/>
</g>
<text transform="translate(0.2,1158.1) scale(1.05,1)" font-size="34" font-weight="bold" stroke="#000" stroke-width="1.1" stroke-linejoin="round">d</text>
<text x="258.3" y="1158.3" font-size="25" text-anchor="middle" fill="#000" >Sexual progenitor</text>
<text x="721.5" y="1153.4" font-size="25" text-anchor="middle" fill="#000" >Male lineage</text>
<text x="1169.2" y="1153.4" font-size="25" text-anchor="middle" fill="#000" >Female lineage</text>
<rect x="221.9" y="1212.0" width="77.5" height="11.2" fill="#fde1bb"/>
<path d="M299.4 1217.6 L323.2 1206.4 L348.2 1217.6" fill="none" stroke="#fde1bb" stroke-width="2" stroke-linejoin="miter"/>
<rect x="348.2" y="1212.0" width="24.1" height="11.2" fill="#fde1bb"/>
<rect x="385.2" y="1212.0" width="12.8" height="11.2" fill="#fde1bb"/>
<rect x="417.3" y="1212.0" width="45.0" height="11.2" fill="#fde1bb"/>
<path d="M372.3 1217.6 L378.7 1206.2 L385.2 1217.6" fill="none" stroke="#fde1bb" stroke-width="2" stroke-linejoin="miter"/>
<path d="M398.0 1217.6 L407.7 1206.2 L417.3 1217.6" fill="none" stroke="#fde1bb" stroke-width="2" stroke-linejoin="miter"/>
<rect x="348.2" y="1193.3" width="24.1" height="11.6" fill="#fde1bb"/>
<rect x="385.2" y="1193.3" width="12.8" height="11.6" fill="#fde1bb"/>
<rect x="417.3" y="1193.3" width="45.0" height="11.6" fill="#fde1bb"/>
<path d="M372.3 1199.1 L378.7 1187.9 L385.2 1199.1" fill="none" stroke="#fde1bb" stroke-width="2" stroke-linejoin="miter"/>
<path d="M398.0 1199.1 L407.7 1187.9 L417.3 1199.1" fill="none" stroke="#fde1bb" stroke-width="2" stroke-linejoin="miter"/>
<path d="M42.9 1227.4H463.9" stroke="#000" stroke-width="2.2"/>
<rect x="61.5" y="1231.3" width="181.3" height="12.2" fill="#b2b2b2"/>
<rect x="251.2" y="1231.3" width="14.4" height="12.2" fill="#b2b2b2"/>
<rect x="275.9" y="1231.3" width="45.0" height="12.2" fill="#b2b2b2"/>
<path d="M243.3 1243.5 L246.9 1255.4 L251.0 1243.5" fill="none" stroke="#9a9a9a" stroke-width="1.4" stroke-linejoin="miter"/>
<path d="M243.3 1243.5 L258.1 1255.6 L275.6 1243.5" fill="none" stroke="#9a9a9a" stroke-width="1.4" stroke-linejoin="miter"/>
<path d="M265.8 1243.5 L270.9 1255.4 L275.6 1243.5" fill="none" stroke="#9a9a9a" stroke-width="1.4" stroke-linejoin="miter"/>
<rect x="677.1" y="1213.4" width="77.5" height="11.2" fill="#f79d1e"/>
<path d="M754.6 1219.0 L778.4 1207.8 L803.4 1219.0" fill="none" stroke="#f79d1e" stroke-width="2" stroke-linejoin="miter"/>
<rect x="803.4" y="1213.4" width="24.1" height="11.2" fill="#f79d1e"/>
<rect x="840.4" y="1213.4" width="12.8" height="11.2" fill="#f79d1e"/>
<rect x="872.5" y="1213.4" width="45.0" height="11.2" fill="#f79d1e"/>
<path d="M827.5 1219.0 L833.9 1207.6 L840.4 1219.0" fill="none" stroke="#f79d1e" stroke-width="2" stroke-linejoin="miter"/>
<path d="M853.2 1219.0 L862.9 1207.6 L872.5 1219.0" fill="none" stroke="#f79d1e" stroke-width="2" stroke-linejoin="miter"/>
<rect x="803.4" y="1194.7" width="24.1" height="11.6" fill="#fde1bb"/>
<rect x="840.4" y="1194.7" width="12.8" height="11.6" fill="#fde1bb"/>
<rect x="872.5" y="1194.7" width="45.0" height="11.6" fill="#fde1bb"/>
<path d="M827.5 1200.5 L833.9 1189.3 L840.4 1200.5" fill="none" stroke="#fde1bb" stroke-width="2" stroke-linejoin="miter"/>
<path d="M853.2 1200.5 L862.9 1189.3 L872.5 1200.5" fill="none" stroke="#fde1bb" stroke-width="2" stroke-linejoin="miter"/>
<path d="M498.1 1228.8H919.1" stroke="#000" stroke-width="2.2"/>
<rect x="516.7" y="1232.7" width="181.3" height="12.2" fill="#b2b2b2"/>
<rect x="706.4" y="1232.7" width="14.4" height="12.2" fill="#b2b2b2"/>
<rect x="731.1" y="1232.7" width="45.0" height="12.2" fill="#b2b2b2"/>
<path d="M698.5 1244.9 L702.1 1256.8 L706.2 1244.9" fill="none" stroke="#9a9a9a" stroke-width="1.4" stroke-linejoin="miter"/>
<path d="M698.5 1244.9 L713.3 1257.0 L730.8 1244.9" fill="none" stroke="#9a9a9a" stroke-width="1.4" stroke-linejoin="miter"/>
<path d="M721.0 1244.9 L726.1 1256.8 L730.8 1244.9" fill="none" stroke="#9a9a9a" stroke-width="1.4" stroke-linejoin="miter"/>
<rect x="1140.4" y="1214.9" width="77.5" height="11.2" fill="#fde1bb"/>
<path d="M1217.9 1220.5 L1241.7 1209.3 L1266.7 1220.5" fill="none" stroke="#fde1bb" stroke-width="2" stroke-linejoin="miter"/>
<rect x="1266.7" y="1214.9" width="24.1" height="11.2" fill="#fde1bb"/>
<rect x="1303.7" y="1214.9" width="12.8" height="11.2" fill="#fde1bb"/>
<rect x="1335.8" y="1214.9" width="45.0" height="11.2" fill="#fde1bb"/>
<path d="M1290.8 1220.5 L1297.2 1209.1 L1303.7 1220.5" fill="none" stroke="#fde1bb" stroke-width="2" stroke-linejoin="miter"/>
<path d="M1316.5 1220.5 L1326.2 1209.1 L1335.8 1220.5" fill="none" stroke="#fde1bb" stroke-width="2" stroke-linejoin="miter"/>
<rect x="1266.7" y="1196.2" width="24.1" height="11.6" fill="#f79d1e"/>
<rect x="1303.7" y="1196.2" width="12.8" height="11.6" fill="#f79d1e"/>
<rect x="1335.8" y="1196.2" width="45.0" height="11.6" fill="#f79d1e"/>
<path d="M1290.8 1202.0 L1297.2 1190.8 L1303.7 1202.0" fill="none" stroke="#f79d1e" stroke-width="2" stroke-linejoin="miter"/>
<path d="M1316.5 1202.0 L1326.2 1190.8 L1335.8 1202.0" fill="none" stroke="#f79d1e" stroke-width="2" stroke-linejoin="miter"/>
<path d="M961.4 1230.3H1382.4" stroke="#000" stroke-width="2.2"/>
<rect x="980.0" y="1234.2" width="181.3" height="12.2" fill="#000"/>
<rect x="1169.7" y="1234.2" width="14.4" height="12.2" fill="#000"/>
<rect x="1194.4" y="1234.2" width="45.0" height="12.2" fill="#000"/>
<path d="M1161.8 1246.4 L1165.4 1258.3 L1169.5 1246.4" fill="none" stroke="#000" stroke-width="2" stroke-linejoin="miter"/>
<path d="M1161.8 1246.4 L1176.6 1258.5 L1194.1 1246.4" fill="none" stroke="#000" stroke-width="2" stroke-linejoin="miter"/>
<path d="M1184.3 1246.4 L1189.4 1258.3 L1194.1 1246.4" fill="none" stroke="#000" stroke-width="2" stroke-linejoin="miter"/>
<linearGradient id="bl1" gradientUnits="userSpaceOnUse" x1="666" y1="1226" x2="702" y2="1172"><stop offset="0" stop-color="#1f74c0"/><stop offset="0.35" stop-color="#5096d0"/><stop offset="1" stop-color="#e6eff8"/></linearGradient>
<path d="M668.9 1226.6C668.9 1195 684 1172.6 701.8 1172.6" fill="none" stroke="url(#bl1)" stroke-width="7.6"/>
<path d="M702 1164.2L716.6 1172.5L702 1180.9Z" fill="#4b91cd"/>
<linearGradient id="bl2" gradientUnits="userSpaceOnUse" x1="0" y1="1177" x2="0" y2="1272"><stop offset="0" stop-color="#eef4fa"/><stop offset="0.12" stop-color="#a9c9e6"/><stop offset="0.5" stop-color="#2a7cc4"/><stop offset="0.85" stop-color="#8ebbe0"/><stop offset="1" stop-color="#f2f7fc"/></linearGradient>
<path d="M1269.5 1177.7C1250 1177.7 1240.5 1200 1240.5 1224C1240.5 1252 1230 1271.6 1211.5 1271.6" fill="none" stroke="url(#bl2)" stroke-width="5"/>
<path d="M1271.1 1169.3L1284.9 1177.5L1271.1 1186Z" fill="#4b91cd"/>
<path d="M1211.1 1264.7L1196.9 1272.6L1211.1 1280.7Z" fill="#4b91cd"/>
<path d="M610.4 1276.8H677.1" stroke="#8076ad" stroke-width="4"/>
<ellipse cx="645.7" cy="1291.8" rx="20.4" ry="11.1" fill="#8076ad"/>
<path d="M675 1291.6H775" stroke="#4b4b4b" stroke-width="4"/>
<path d="M775 1282V1300.7" stroke="#4b4b4b" stroke-width="4"/>
<path d="M772.9 1276.8H839.8" stroke="#da9574" stroke-width="4"/>
<ellipse cx="808.4" cy="1311.9" rx="20.5" ry="11.2" fill="#da9574"/>
<path d="M1071.5 1276.8H1138.2" stroke="#8076ad" stroke-width="4"/>
<ellipse cx="1106" cy="1311.9" rx="20.4" ry="11.1" fill="#8076ad"/>
<path d="M1136.5 1291.6H1236.7" stroke="#4b4b4b" stroke-width="4"/>
<path d="M1136.5 1282V1300.7" stroke="#4b4b4b" stroke-width="4"/>
<path d="M1234.8 1276.8H1300.8" stroke="#da9574" stroke-width="4"/>
<ellipse cx="1268" cy="1291.8" rx="20.5" ry="11.2" fill="#da9574"/>
</svg></body></html>
